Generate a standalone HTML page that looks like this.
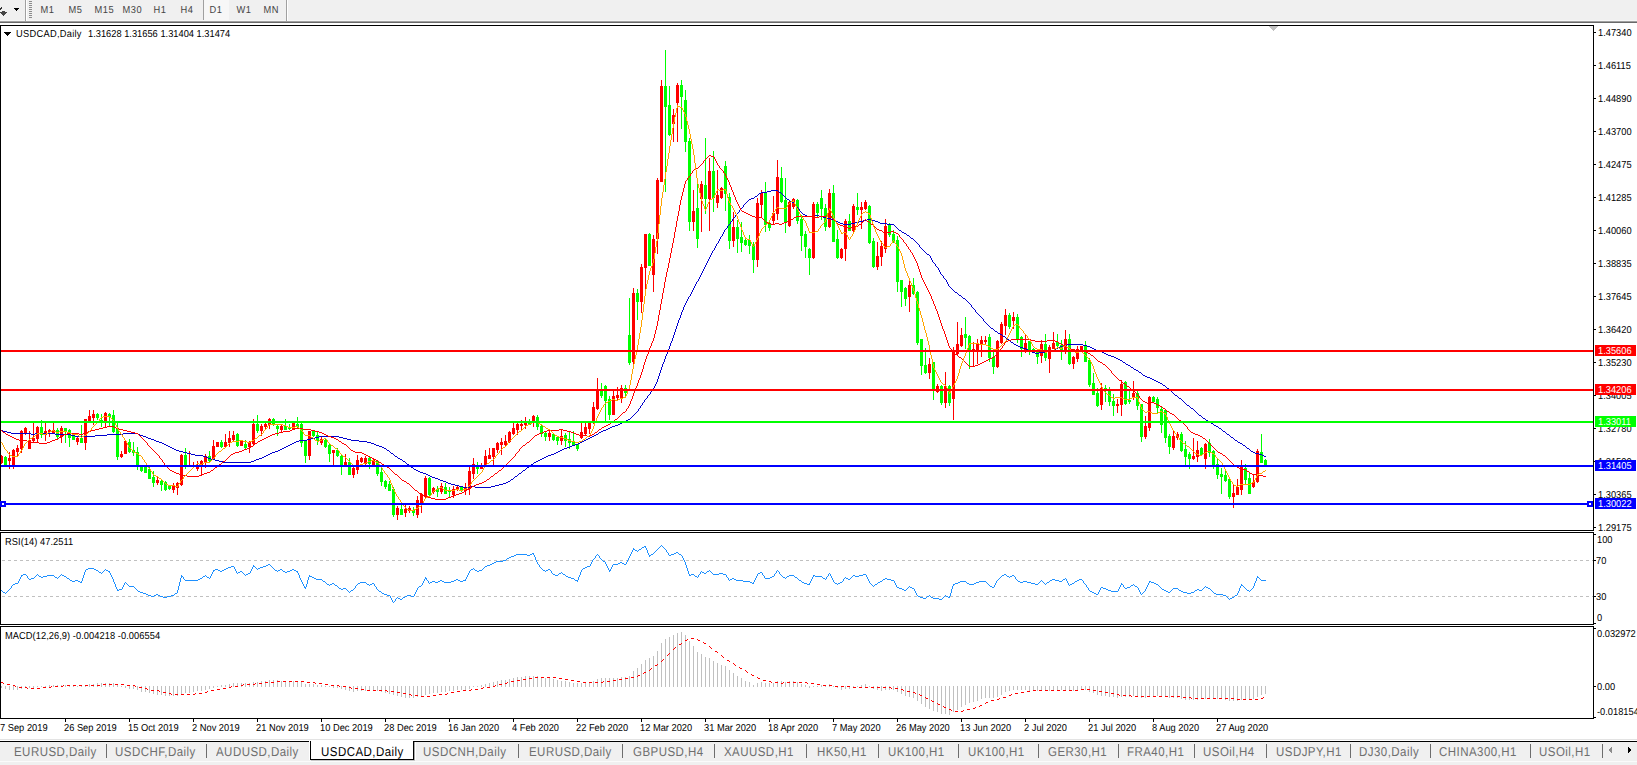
<!DOCTYPE html>
<html><head><meta charset="utf-8"><style>
html,body{margin:0;padding:0;background:#ffffff;}
body{width:1637px;height:765px;position:relative;overflow:hidden;font-family:"Liberation Sans",sans-serif;}
.t{position:absolute;white-space:nowrap;line-height:12px;transform-origin:0 0;}
.bx{position:absolute;left:1595px;width:41px;height:11px;}
</style></head><body>
<svg width="1637" height="765" viewBox="0 0 1637 765" shape-rendering="crispEdges" style="position:absolute;left:0;top:0"><defs>
<clipPath id="clipMain"><rect x="1" y="26" width="1592" height="504"/></clipPath>
<clipPath id="clipRSI"><rect x="1" y="533" width="1592" height="91"/></clipPath>
<clipPath id="clipMACD"><rect x="1" y="627" width="1592" height="91"/></clipPath>
</defs><rect x="0" y="0" width="1637" height="21" fill="#f0f0f0"/><rect x="0" y="20" width="1637" height="1" fill="#f7f7f7"/><rect x="0" y="21" width="1637" height="1" fill="#a0a0a0"/><rect x="0" y="22" width="1637" height="1" fill="#696969"/><rect x="0" y="23" width="1637" height="2" fill="#ffffff"/><rect x="25" y="0" width="1" height="21" fill="#a0a0a0"/><rect x="26" y="0" width="1" height="21" fill="#ffffff"/><rect x="29" y="1" width="3" height="1" fill="#8c8c8c"/><rect x="29" y="3" width="3" height="1" fill="#8c8c8c"/><rect x="29" y="5" width="3" height="1" fill="#8c8c8c"/><rect x="29" y="7" width="3" height="1" fill="#8c8c8c"/><rect x="29" y="9" width="3" height="1" fill="#8c8c8c"/><rect x="29" y="11" width="3" height="1" fill="#8c8c8c"/><rect x="29" y="13" width="3" height="1" fill="#8c8c8c"/><rect x="29" y="15" width="3" height="1" fill="#8c8c8c"/><rect x="29" y="17" width="3" height="1" fill="#8c8c8c"/><rect x="203" y="0" width="26" height="20" fill="#f7f7f7"/><rect x="203" y="0" width="1" height="20" fill="#a0a0a0"/><rect x="286" y="0" width="1" height="21" fill="#a0a0a0"/><rect x="287" y="0" width="1" height="21" fill="#ffffff"/><rect x="14" y="8" width="5" height="1" fill="#000"/><rect x="15" y="9" width="3" height="1" fill="#000"/><rect x="16" y="10" width="1" height="1" fill="#000"/><path d="M2 11h3v1h2v1h-1v1h-1v1h-1v1h-1v-1h-1v-1h-1v-1h-1v-1h2z" fill="#444"/><rect x="1" y="7" width="1" height="1" fill="#333"/><rect x="0" y="8" width="2" height="1" fill="#333"/><rect x="0" y="9" width="1" height="1" fill="#333"/><rect x="0" y="25" width="1637" height="714" fill="#ffffff"/><rect x="0" y="25" width="1594" height="1" fill="#000000"/><rect x="0" y="530" width="1594" height="1" fill="#000000"/><rect x="0" y="25" width="1" height="506" fill="#000000"/><rect x="1593" y="25" width="1" height="506" fill="#000000"/><rect x="0" y="532" width="1594" height="1" fill="#000000"/><rect x="0" y="624" width="1594" height="1" fill="#000000"/><rect x="0" y="532" width="1" height="93" fill="#000000"/><rect x="1593" y="532" width="1" height="93" fill="#000000"/><rect x="0" y="626" width="1594" height="1" fill="#000000"/><rect x="0" y="718" width="1594" height="1" fill="#000000"/><rect x="0" y="626" width="1" height="93" fill="#000000"/><rect x="1593" y="626" width="1" height="93" fill="#000000"/><rect x="1594" y="32" width="2" height="1" fill="#000000"/><rect x="1594" y="65" width="2" height="1" fill="#000000"/><rect x="1594" y="98" width="2" height="1" fill="#000000"/><rect x="1594" y="131" width="2" height="1" fill="#000000"/><rect x="1594" y="164" width="2" height="1" fill="#000000"/><rect x="1594" y="197" width="2" height="1" fill="#000000"/><rect x="1594" y="230" width="2" height="1" fill="#000000"/><rect x="1594" y="263" width="2" height="1" fill="#000000"/><rect x="1594" y="296" width="2" height="1" fill="#000000"/><rect x="1594" y="329" width="2" height="1" fill="#000000"/><rect x="1594" y="362" width="2" height="1" fill="#000000"/><rect x="1594" y="395" width="2" height="1" fill="#000000"/><rect x="1594" y="428" width="2" height="1" fill="#000000"/><rect x="1594" y="461" width="2" height="1" fill="#000000"/><rect x="1594" y="494" width="2" height="1" fill="#000000"/><rect x="1594" y="527" width="2" height="1" fill="#000000"/><rect x="1594" y="534" width="2" height="1" fill="#000000"/><rect x="1594" y="560" width="2" height="1" fill="#000000"/><rect x="1594" y="596" width="2" height="1" fill="#000000"/><rect x="1594" y="623" width="2" height="1" fill="#000000"/><rect x="1594" y="628" width="2" height="1" fill="#000000"/><rect x="1594" y="686" width="2" height="1" fill="#000000"/><rect x="1594" y="717" width="2" height="1" fill="#000000"/><rect x="65" y="719" width="1" height="3" fill="#000000"/><rect x="129" y="719" width="1" height="3" fill="#000000"/><rect x="193" y="719" width="1" height="3" fill="#000000"/><rect x="257" y="719" width="1" height="3" fill="#000000"/><rect x="321" y="719" width="1" height="3" fill="#000000"/><rect x="385" y="719" width="1" height="3" fill="#000000"/><rect x="449" y="719" width="1" height="3" fill="#000000"/><rect x="513" y="719" width="1" height="3" fill="#000000"/><rect x="577" y="719" width="1" height="3" fill="#000000"/><rect x="641" y="719" width="1" height="3" fill="#000000"/><rect x="705" y="719" width="1" height="3" fill="#000000"/><rect x="769" y="719" width="1" height="3" fill="#000000"/><rect x="833" y="719" width="1" height="3" fill="#000000"/><rect x="897" y="719" width="1" height="3" fill="#000000"/><rect x="961" y="719" width="1" height="3" fill="#000000"/><rect x="1025" y="719" width="1" height="3" fill="#000000"/><rect x="1089" y="719" width="1" height="3" fill="#000000"/><rect x="1153" y="719" width="1" height="3" fill="#000000"/><rect x="1217" y="719" width="1" height="3" fill="#000000"/><rect x="1269" y="26" width="9" height="1" fill="#c0c0c0"/><rect x="1270" y="27" width="7" height="1" fill="#c0c0c0"/><rect x="1271" y="28" width="5" height="1" fill="#c0c0c0"/><rect x="1272" y="29" width="3" height="1" fill="#c0c0c0"/><rect x="1273" y="30" width="1" height="1" fill="#c0c0c0"/><g clip-path="url(#clipMain)"><rect x="1" y="455" width="1" height="9" fill="#ff0000"/><rect x="0" y="456" width="3" height="7" fill="#ff0000"/><rect x="5" y="456" width="1" height="10" fill="#00ff00"/><rect x="4" y="457" width="3" height="9" fill="#00ff00"/><rect x="9" y="452" width="1" height="17" fill="#ff0000"/><rect x="8" y="458" width="3" height="3" fill="#ff0000"/><rect x="13" y="449" width="1" height="20" fill="#ff0000"/><rect x="12" y="450" width="3" height="16" fill="#ff0000"/><rect x="17" y="445" width="1" height="12" fill="#ff0000"/><rect x="16" y="448" width="3" height="4" fill="#ff0000"/><rect x="21" y="430" width="1" height="23" fill="#ff0000"/><rect x="20" y="431" width="3" height="18" fill="#ff0000"/><rect x="25" y="427" width="1" height="8" fill="#ff0000"/><rect x="24" y="428" width="3" height="6" fill="#ff0000"/><rect x="29" y="431" width="1" height="18" fill="#ff0000"/><rect x="28" y="440" width="3" height="9" fill="#ff0000"/><rect x="33" y="423" width="1" height="20" fill="#ff0000"/><rect x="32" y="438" width="3" height="3" fill="#ff0000"/><rect x="37" y="426" width="1" height="17" fill="#ff0000"/><rect x="36" y="427" width="3" height="12" fill="#ff0000"/><rect x="41" y="420" width="1" height="18" fill="#00ff00"/><rect x="40" y="427" width="3" height="8" fill="#00ff00"/><rect x="45" y="423" width="1" height="18" fill="#ff0000"/><rect x="44" y="431" width="3" height="4" fill="#ff0000"/><rect x="49" y="429" width="1" height="8" fill="#ff0000"/><rect x="48" y="430" width="3" height="2" fill="#ff0000"/><rect x="53" y="423" width="1" height="10" fill="#ff0000"/><rect x="52" y="430" width="3" height="3" fill="#ff0000"/><rect x="57" y="428" width="1" height="12" fill="#00ff00"/><rect x="56" y="430" width="3" height="7" fill="#00ff00"/><rect x="61" y="426" width="1" height="17" fill="#ff0000"/><rect x="60" y="428" width="3" height="9" fill="#ff0000"/><rect x="65" y="428" width="1" height="15" fill="#00ff00"/><rect x="64" y="428" width="3" height="4" fill="#00ff00"/><rect x="69" y="429" width="1" height="18" fill="#00ff00"/><rect x="68" y="430" width="3" height="8" fill="#00ff00"/><rect x="73" y="435" width="1" height="5" fill="#00ff00"/><rect x="72" y="436" width="3" height="4" fill="#00ff00"/><rect x="77" y="437" width="1" height="8" fill="#ff0000"/><rect x="76" y="438" width="3" height="4" fill="#ff0000"/><rect x="81" y="425" width="1" height="18" fill="#00ff00"/><rect x="80" y="438" width="3" height="5" fill="#00ff00"/><rect x="85" y="419" width="1" height="31" fill="#ff0000"/><rect x="84" y="419" width="3" height="24" fill="#ff0000"/><rect x="89" y="410" width="1" height="12" fill="#ff0000"/><rect x="88" y="416" width="3" height="5" fill="#ff0000"/><rect x="93" y="410" width="1" height="15" fill="#ff0000"/><rect x="92" y="414" width="3" height="4" fill="#ff0000"/><rect x="97" y="413" width="1" height="7" fill="#00ff00"/><rect x="96" y="414" width="3" height="4" fill="#00ff00"/><rect x="101" y="414" width="1" height="13" fill="#00ff00"/><rect x="100" y="420" width="3" height="3" fill="#00ff00"/><rect x="105" y="412" width="1" height="16" fill="#ff0000"/><rect x="104" y="413" width="3" height="9" fill="#ff0000"/><rect x="109" y="413" width="1" height="13" fill="#00ff00"/><rect x="108" y="414" width="3" height="3" fill="#00ff00"/><rect x="113" y="410" width="1" height="23" fill="#00ff00"/><rect x="112" y="415" width="3" height="17" fill="#00ff00"/><rect x="117" y="423" width="1" height="37" fill="#00ff00"/><rect x="116" y="428" width="3" height="29" fill="#00ff00"/><rect x="121" y="451" width="1" height="7" fill="#ff0000"/><rect x="120" y="454" width="3" height="3" fill="#ff0000"/><rect x="125" y="440" width="1" height="14" fill="#ff0000"/><rect x="124" y="441" width="3" height="13" fill="#ff0000"/><rect x="129" y="439" width="1" height="14" fill="#00ff00"/><rect x="128" y="442" width="3" height="10" fill="#00ff00"/><rect x="133" y="442" width="1" height="14" fill="#00ff00"/><rect x="132" y="450" width="3" height="3" fill="#00ff00"/><rect x="137" y="447" width="1" height="23" fill="#00ff00"/><rect x="136" y="452" width="3" height="14" fill="#00ff00"/><rect x="141" y="467" width="1" height="5" fill="#00ff00"/><rect x="140" y="467" width="3" height="4" fill="#00ff00"/><rect x="145" y="467" width="1" height="6" fill="#00ff00"/><rect x="144" y="467" width="3" height="6" fill="#00ff00"/><rect x="149" y="467" width="1" height="12" fill="#00ff00"/><rect x="148" y="469" width="3" height="10" fill="#00ff00"/><rect x="153" y="471" width="1" height="16" fill="#00ff00"/><rect x="152" y="477" width="3" height="6" fill="#00ff00"/><rect x="157" y="476" width="1" height="9" fill="#ff0000"/><rect x="156" y="480" width="3" height="3" fill="#ff0000"/><rect x="161" y="480" width="1" height="11" fill="#00ff00"/><rect x="160" y="481" width="3" height="4" fill="#00ff00"/><rect x="165" y="481" width="1" height="10" fill="#00ff00"/><rect x="164" y="482" width="3" height="8" fill="#00ff00"/><rect x="169" y="485" width="1" height="5" fill="#00ff00"/><rect x="168" y="486" width="3" height="3" fill="#00ff00"/><rect x="173" y="483" width="1" height="10" fill="#ff0000"/><rect x="172" y="486" width="3" height="4" fill="#ff0000"/><rect x="177" y="482" width="1" height="13" fill="#ff0000"/><rect x="176" y="483" width="3" height="5" fill="#ff0000"/><rect x="181" y="454" width="1" height="32" fill="#ff0000"/><rect x="180" y="455" width="3" height="30" fill="#ff0000"/><rect x="185" y="448" width="1" height="21" fill="#00ff00"/><rect x="184" y="455" width="3" height="11" fill="#00ff00"/><rect x="189" y="451" width="1" height="15" fill="#ff0000"/><rect x="188" y="465" width="3" height="1" fill="#ff0000"/><rect x="193" y="462" width="1" height="5" fill="#ff0000"/><rect x="192" y="465" width="3" height="2" fill="#ff0000"/><rect x="197" y="461" width="1" height="10" fill="#ff0000"/><rect x="196" y="466" width="3" height="3" fill="#ff0000"/><rect x="201" y="460" width="1" height="15" fill="#ff0000"/><rect x="200" y="461" width="3" height="4" fill="#ff0000"/><rect x="205" y="454" width="1" height="14" fill="#ff0000"/><rect x="204" y="456" width="3" height="7" fill="#ff0000"/><rect x="209" y="451" width="1" height="11" fill="#00ff00"/><rect x="208" y="456" width="3" height="5" fill="#00ff00"/><rect x="213" y="440" width="1" height="19" fill="#ff0000"/><rect x="212" y="446" width="3" height="13" fill="#ff0000"/><rect x="217" y="442" width="1" height="5" fill="#ff0000"/><rect x="216" y="442" width="3" height="5" fill="#ff0000"/><rect x="221" y="440" width="1" height="8" fill="#00ff00"/><rect x="220" y="442" width="3" height="5" fill="#00ff00"/><rect x="225" y="434" width="1" height="14" fill="#ff0000"/><rect x="224" y="442" width="3" height="5" fill="#ff0000"/><rect x="229" y="431" width="1" height="16" fill="#ff0000"/><rect x="228" y="438" width="3" height="5" fill="#ff0000"/><rect x="233" y="431" width="1" height="10" fill="#ff0000"/><rect x="232" y="435" width="3" height="5" fill="#ff0000"/><rect x="237" y="433" width="1" height="14" fill="#00ff00"/><rect x="236" y="434" width="3" height="12" fill="#00ff00"/><rect x="241" y="441" width="1" height="5" fill="#ff0000"/><rect x="240" y="441" width="3" height="5" fill="#ff0000"/><rect x="245" y="440" width="1" height="9" fill="#00ff00"/><rect x="244" y="444" width="3" height="4" fill="#00ff00"/><rect x="249" y="441" width="1" height="12" fill="#ff0000"/><rect x="248" y="442" width="3" height="5" fill="#ff0000"/><rect x="253" y="419" width="1" height="26" fill="#ff0000"/><rect x="252" y="424" width="3" height="20" fill="#ff0000"/><rect x="257" y="415" width="1" height="18" fill="#00ff00"/><rect x="256" y="424" width="3" height="7" fill="#00ff00"/><rect x="261" y="424" width="1" height="12" fill="#ff0000"/><rect x="260" y="426" width="3" height="5" fill="#ff0000"/><rect x="265" y="423" width="1" height="6" fill="#ff0000"/><rect x="264" y="424" width="3" height="3" fill="#ff0000"/><rect x="269" y="418" width="1" height="11" fill="#ff0000"/><rect x="268" y="419" width="3" height="6" fill="#ff0000"/><rect x="273" y="418" width="1" height="8" fill="#00ff00"/><rect x="272" y="419" width="3" height="6" fill="#00ff00"/><rect x="277" y="424" width="1" height="12" fill="#00ff00"/><rect x="276" y="426" width="3" height="3" fill="#00ff00"/><rect x="281" y="424" width="1" height="8" fill="#ff0000"/><rect x="280" y="426" width="3" height="4" fill="#ff0000"/><rect x="285" y="419" width="1" height="11" fill="#00ff00"/><rect x="284" y="426" width="3" height="4" fill="#00ff00"/><rect x="289" y="424" width="1" height="6" fill="#00ff00"/><rect x="288" y="428" width="3" height="1" fill="#00ff00"/><rect x="293" y="423" width="1" height="7" fill="#ff0000"/><rect x="292" y="423" width="3" height="7" fill="#ff0000"/><rect x="297" y="417" width="1" height="12" fill="#00ff00"/><rect x="296" y="424" width="3" height="3" fill="#00ff00"/><rect x="301" y="423" width="1" height="24" fill="#00ff00"/><rect x="300" y="424" width="3" height="19" fill="#00ff00"/><rect x="305" y="440" width="1" height="23" fill="#00ff00"/><rect x="304" y="440" width="3" height="16" fill="#00ff00"/><rect x="309" y="431" width="1" height="29" fill="#ff0000"/><rect x="308" y="431" width="3" height="25" fill="#ff0000"/><rect x="313" y="431" width="1" height="6" fill="#00ff00"/><rect x="312" y="431" width="3" height="5" fill="#00ff00"/><rect x="317" y="432" width="1" height="13" fill="#00ff00"/><rect x="316" y="435" width="3" height="6" fill="#00ff00"/><rect x="321" y="437" width="1" height="8" fill="#ff0000"/><rect x="320" y="439" width="3" height="4" fill="#ff0000"/><rect x="325" y="439" width="1" height="9" fill="#00ff00"/><rect x="324" y="440" width="3" height="7" fill="#00ff00"/><rect x="329" y="444" width="1" height="18" fill="#00ff00"/><rect x="328" y="445" width="3" height="9" fill="#00ff00"/><rect x="333" y="450" width="1" height="15" fill="#ff0000"/><rect x="332" y="450" width="3" height="3" fill="#ff0000"/><rect x="337" y="448" width="1" height="9" fill="#00ff00"/><rect x="336" y="450" width="3" height="6" fill="#00ff00"/><rect x="341" y="454" width="1" height="21" fill="#00ff00"/><rect x="340" y="456" width="3" height="9" fill="#00ff00"/><rect x="345" y="454" width="1" height="11" fill="#ff0000"/><rect x="344" y="462" width="3" height="3" fill="#ff0000"/><rect x="349" y="458" width="1" height="17" fill="#00ff00"/><rect x="348" y="462" width="3" height="13" fill="#00ff00"/><rect x="353" y="467" width="1" height="11" fill="#ff0000"/><rect x="352" y="468" width="3" height="7" fill="#ff0000"/><rect x="357" y="455" width="1" height="19" fill="#ff0000"/><rect x="356" y="460" width="3" height="10" fill="#ff0000"/><rect x="361" y="457" width="1" height="6" fill="#ff0000"/><rect x="360" y="458" width="3" height="4" fill="#ff0000"/><rect x="365" y="456" width="1" height="10" fill="#ff0000"/><rect x="364" y="458" width="3" height="6" fill="#ff0000"/><rect x="369" y="456" width="1" height="13" fill="#00ff00"/><rect x="368" y="458" width="3" height="6" fill="#00ff00"/><rect x="373" y="459" width="1" height="6" fill="#ff0000"/><rect x="372" y="460" width="3" height="5" fill="#ff0000"/><rect x="377" y="460" width="1" height="16" fill="#00ff00"/><rect x="376" y="461" width="3" height="13" fill="#00ff00"/><rect x="381" y="468" width="1" height="18" fill="#00ff00"/><rect x="380" y="472" width="3" height="10" fill="#00ff00"/><rect x="385" y="480" width="1" height="9" fill="#00ff00"/><rect x="384" y="481" width="3" height="6" fill="#00ff00"/><rect x="389" y="481" width="1" height="10" fill="#00ff00"/><rect x="388" y="484" width="3" height="7" fill="#00ff00"/><rect x="393" y="487" width="1" height="30" fill="#00ff00"/><rect x="392" y="489" width="3" height="26" fill="#00ff00"/><rect x="397" y="506" width="1" height="14" fill="#ff0000"/><rect x="396" y="508" width="3" height="7" fill="#ff0000"/><rect x="401" y="504" width="1" height="11" fill="#00ff00"/><rect x="400" y="509" width="3" height="6" fill="#00ff00"/><rect x="405" y="505" width="1" height="12" fill="#ff0000"/><rect x="404" y="509" width="3" height="4" fill="#ff0000"/><rect x="409" y="506" width="1" height="7" fill="#ff0000"/><rect x="408" y="508" width="3" height="3" fill="#ff0000"/><rect x="413" y="507" width="1" height="9" fill="#00ff00"/><rect x="412" y="510" width="3" height="3" fill="#00ff00"/><rect x="417" y="496" width="1" height="22" fill="#ff0000"/><rect x="416" y="500" width="3" height="15" fill="#ff0000"/><rect x="421" y="493" width="1" height="20" fill="#ff0000"/><rect x="420" y="494" width="3" height="9" fill="#ff0000"/><rect x="425" y="476" width="1" height="22" fill="#ff0000"/><rect x="424" y="478" width="3" height="19" fill="#ff0000"/><rect x="429" y="477" width="1" height="19" fill="#00ff00"/><rect x="428" y="478" width="3" height="17" fill="#00ff00"/><rect x="433" y="487" width="1" height="7" fill="#ff0000"/><rect x="432" y="488" width="3" height="4" fill="#ff0000"/><rect x="437" y="486" width="1" height="11" fill="#00ff00"/><rect x="436" y="489" width="3" height="3" fill="#00ff00"/><rect x="441" y="483" width="1" height="11" fill="#ff0000"/><rect x="440" y="486" width="3" height="6" fill="#ff0000"/><rect x="445" y="483" width="1" height="11" fill="#00ff00"/><rect x="444" y="487" width="3" height="7" fill="#00ff00"/><rect x="449" y="487" width="1" height="10" fill="#00ff00"/><rect x="448" y="490" width="3" height="2" fill="#00ff00"/><rect x="453" y="486" width="1" height="12" fill="#ff0000"/><rect x="452" y="489" width="3" height="6" fill="#ff0000"/><rect x="457" y="486" width="1" height="5" fill="#ff0000"/><rect x="456" y="487" width="3" height="3" fill="#ff0000"/><rect x="461" y="486" width="1" height="6" fill="#00ff00"/><rect x="460" y="487" width="3" height="4" fill="#00ff00"/><rect x="465" y="483" width="1" height="12" fill="#ff0000"/><rect x="464" y="488" width="3" height="3" fill="#ff0000"/><rect x="469" y="467" width="1" height="28" fill="#ff0000"/><rect x="468" y="471" width="3" height="18" fill="#ff0000"/><rect x="473" y="458" width="1" height="21" fill="#ff0000"/><rect x="472" y="464" width="3" height="10" fill="#ff0000"/><rect x="477" y="462" width="1" height="12" fill="#00ff00"/><rect x="476" y="465" width="3" height="4" fill="#00ff00"/><rect x="481" y="463" width="1" height="6" fill="#ff0000"/><rect x="480" y="467" width="3" height="2" fill="#ff0000"/><rect x="485" y="450" width="1" height="16" fill="#ff0000"/><rect x="484" y="456" width="3" height="10" fill="#ff0000"/><rect x="489" y="448" width="1" height="11" fill="#ff0000"/><rect x="488" y="455" width="3" height="4" fill="#ff0000"/><rect x="493" y="448" width="1" height="17" fill="#ff0000"/><rect x="492" y="448" width="3" height="9" fill="#ff0000"/><rect x="497" y="442" width="1" height="11" fill="#ff0000"/><rect x="496" y="443" width="3" height="7" fill="#ff0000"/><rect x="501" y="438" width="1" height="17" fill="#ff0000"/><rect x="500" y="442" width="3" height="3" fill="#ff0000"/><rect x="505" y="435" width="1" height="12" fill="#ff0000"/><rect x="504" y="441" width="3" height="4" fill="#ff0000"/><rect x="509" y="431" width="1" height="12" fill="#ff0000"/><rect x="508" y="432" width="3" height="10" fill="#ff0000"/><rect x="513" y="423" width="1" height="12" fill="#ff0000"/><rect x="512" y="428" width="3" height="6" fill="#ff0000"/><rect x="517" y="423" width="1" height="12" fill="#ff0000"/><rect x="516" y="424" width="3" height="6" fill="#ff0000"/><rect x="521" y="420" width="1" height="10" fill="#ff0000"/><rect x="520" y="424" width="3" height="2" fill="#ff0000"/><rect x="525" y="417" width="1" height="12" fill="#ff0000"/><rect x="524" y="422" width="3" height="3" fill="#ff0000"/><rect x="529" y="419" width="1" height="6" fill="#00ff00"/><rect x="528" y="421" width="3" height="4" fill="#00ff00"/><rect x="533" y="415" width="1" height="12" fill="#ff0000"/><rect x="532" y="416" width="3" height="6" fill="#ff0000"/><rect x="537" y="415" width="1" height="15" fill="#00ff00"/><rect x="536" y="417" width="3" height="10" fill="#00ff00"/><rect x="541" y="425" width="1" height="12" fill="#00ff00"/><rect x="540" y="426" width="3" height="8" fill="#00ff00"/><rect x="545" y="431" width="1" height="10" fill="#00ff00"/><rect x="544" y="433" width="3" height="4" fill="#00ff00"/><rect x="549" y="430" width="1" height="11" fill="#ff0000"/><rect x="548" y="433" width="3" height="4" fill="#ff0000"/><rect x="553" y="433" width="1" height="8" fill="#00ff00"/><rect x="552" y="434" width="3" height="6" fill="#00ff00"/><rect x="557" y="436" width="1" height="9" fill="#00ff00"/><rect x="556" y="437" width="3" height="4" fill="#00ff00"/><rect x="561" y="429" width="1" height="16" fill="#ff0000"/><rect x="560" y="436" width="3" height="5" fill="#ff0000"/><rect x="565" y="433" width="1" height="14" fill="#00ff00"/><rect x="564" y="435" width="3" height="6" fill="#00ff00"/><rect x="569" y="432" width="1" height="17" fill="#00ff00"/><rect x="568" y="439" width="3" height="4" fill="#00ff00"/><rect x="573" y="431" width="1" height="14" fill="#00ff00"/><rect x="572" y="442" width="3" height="3" fill="#00ff00"/><rect x="577" y="444" width="1" height="7" fill="#00ff00"/><rect x="576" y="444" width="3" height="5" fill="#00ff00"/><rect x="581" y="423" width="1" height="16" fill="#ff0000"/><rect x="580" y="432" width="3" height="6" fill="#ff0000"/><rect x="585" y="423" width="1" height="12" fill="#ff0000"/><rect x="584" y="427" width="3" height="7" fill="#ff0000"/><rect x="589" y="422" width="1" height="12" fill="#ff0000"/><rect x="588" y="423" width="3" height="6" fill="#ff0000"/><rect x="593" y="402" width="1" height="22" fill="#ff0000"/><rect x="592" y="407" width="3" height="15" fill="#ff0000"/><rect x="597" y="378" width="1" height="32" fill="#ff0000"/><rect x="596" y="389" width="3" height="20" fill="#ff0000"/><rect x="601" y="383" width="1" height="15" fill="#00ff00"/><rect x="600" y="391" width="3" height="5" fill="#00ff00"/><rect x="605" y="385" width="1" height="36" fill="#00ff00"/><rect x="604" y="386" width="3" height="15" fill="#00ff00"/><rect x="609" y="396" width="1" height="24" fill="#00ff00"/><rect x="608" y="399" width="3" height="16" fill="#00ff00"/><rect x="613" y="391" width="1" height="24" fill="#ff0000"/><rect x="612" y="396" width="3" height="19" fill="#ff0000"/><rect x="617" y="387" width="1" height="14" fill="#ff0000"/><rect x="616" y="395" width="3" height="3" fill="#ff0000"/><rect x="621" y="385" width="1" height="18" fill="#ff0000"/><rect x="620" y="388" width="3" height="10" fill="#ff0000"/><rect x="625" y="385" width="1" height="12" fill="#00ff00"/><rect x="624" y="388" width="3" height="5" fill="#00ff00"/><rect x="629" y="298" width="1" height="67" fill="#00ff00"/><rect x="628" y="335" width="3" height="28" fill="#00ff00"/><rect x="633" y="288" width="1" height="77" fill="#ff0000"/><rect x="632" y="293" width="3" height="69" fill="#ff0000"/><rect x="637" y="289" width="1" height="31" fill="#00ff00"/><rect x="636" y="293" width="3" height="9" fill="#00ff00"/><rect x="641" y="264" width="1" height="49" fill="#ff0000"/><rect x="640" y="267" width="3" height="35" fill="#ff0000"/><rect x="645" y="234" width="1" height="58" fill="#ff0000"/><rect x="644" y="234" width="3" height="34" fill="#ff0000"/><rect x="649" y="233" width="1" height="33" fill="#00ff00"/><rect x="648" y="234" width="3" height="32" fill="#00ff00"/><rect x="653" y="235" width="1" height="57" fill="#ff0000"/><rect x="652" y="239" width="3" height="36" fill="#ff0000"/><rect x="657" y="178" width="1" height="76" fill="#ff0000"/><rect x="656" y="180" width="3" height="59" fill="#ff0000"/><rect x="661" y="80" width="1" height="102" fill="#ff0000"/><rect x="660" y="86" width="3" height="96" fill="#ff0000"/><rect x="665" y="50" width="1" height="142" fill="#00ff00"/><rect x="664" y="86" width="3" height="21" fill="#00ff00"/><rect x="669" y="86" width="1" height="50" fill="#00ff00"/><rect x="668" y="105" width="3" height="30" fill="#00ff00"/><rect x="673" y="109" width="1" height="33" fill="#ff0000"/><rect x="672" y="115" width="3" height="9" fill="#ff0000"/><rect x="677" y="83" width="1" height="59" fill="#ff0000"/><rect x="676" y="85" width="3" height="18" fill="#ff0000"/><rect x="681" y="80" width="1" height="49" fill="#00ff00"/><rect x="680" y="85" width="3" height="12" fill="#00ff00"/><rect x="685" y="90" width="1" height="62" fill="#00ff00"/><rect x="684" y="100" width="3" height="42" fill="#00ff00"/><rect x="689" y="138" width="1" height="93" fill="#00ff00"/><rect x="688" y="141" width="3" height="81" fill="#00ff00"/><rect x="693" y="190" width="1" height="41" fill="#ff0000"/><rect x="692" y="211" width="3" height="11" fill="#ff0000"/><rect x="697" y="184" width="1" height="64" fill="#00ff00"/><rect x="696" y="208" width="3" height="31" fill="#00ff00"/><rect x="701" y="181" width="1" height="51" fill="#ff0000"/><rect x="700" y="184" width="3" height="15" fill="#ff0000"/><rect x="705" y="138" width="1" height="76" fill="#00ff00"/><rect x="704" y="185" width="3" height="14" fill="#00ff00"/><rect x="709" y="158" width="1" height="73" fill="#ff0000"/><rect x="708" y="171" width="3" height="28" fill="#ff0000"/><rect x="713" y="151" width="1" height="61" fill="#00ff00"/><rect x="712" y="171" width="3" height="27" fill="#00ff00"/><rect x="717" y="170" width="1" height="38" fill="#ff0000"/><rect x="716" y="195" width="3" height="8" fill="#ff0000"/><rect x="721" y="187" width="1" height="12" fill="#ff0000"/><rect x="720" y="188" width="3" height="10" fill="#ff0000"/><rect x="725" y="161" width="1" height="50" fill="#00ff00"/><rect x="724" y="166" width="3" height="28" fill="#00ff00"/><rect x="729" y="193" width="1" height="56" fill="#00ff00"/><rect x="728" y="197" width="3" height="44" fill="#00ff00"/><rect x="733" y="212" width="1" height="35" fill="#ff0000"/><rect x="732" y="227" width="3" height="14" fill="#ff0000"/><rect x="737" y="220" width="1" height="33" fill="#00ff00"/><rect x="736" y="227" width="3" height="12" fill="#00ff00"/><rect x="741" y="222" width="1" height="30" fill="#00ff00"/><rect x="740" y="237" width="3" height="6" fill="#00ff00"/><rect x="745" y="239" width="1" height="7" fill="#00ff00"/><rect x="744" y="240" width="3" height="5" fill="#00ff00"/><rect x="749" y="235" width="1" height="19" fill="#00ff00"/><rect x="748" y="240" width="3" height="6" fill="#00ff00"/><rect x="753" y="242" width="1" height="31" fill="#00ff00"/><rect x="752" y="244" width="3" height="16" fill="#00ff00"/><rect x="757" y="198" width="1" height="69" fill="#ff0000"/><rect x="756" y="203" width="3" height="57" fill="#ff0000"/><rect x="761" y="190" width="1" height="28" fill="#ff0000"/><rect x="760" y="193" width="3" height="12" fill="#ff0000"/><rect x="765" y="182" width="1" height="50" fill="#00ff00"/><rect x="764" y="193" width="3" height="32" fill="#00ff00"/><rect x="769" y="220" width="1" height="11" fill="#00ff00"/><rect x="768" y="223" width="3" height="5" fill="#00ff00"/><rect x="773" y="196" width="1" height="29" fill="#ff0000"/><rect x="772" y="213" width="3" height="8" fill="#ff0000"/><rect x="777" y="160" width="1" height="60" fill="#ff0000"/><rect x="776" y="177" width="3" height="37" fill="#ff0000"/><rect x="781" y="167" width="1" height="36" fill="#00ff00"/><rect x="780" y="178" width="3" height="24" fill="#00ff00"/><rect x="785" y="178" width="1" height="55" fill="#00ff00"/><rect x="784" y="200" width="3" height="23" fill="#00ff00"/><rect x="789" y="200" width="1" height="27" fill="#ff0000"/><rect x="788" y="202" width="3" height="24" fill="#ff0000"/><rect x="793" y="198" width="1" height="11" fill="#ff0000"/><rect x="792" y="199" width="3" height="8" fill="#ff0000"/><rect x="797" y="199" width="1" height="25" fill="#00ff00"/><rect x="796" y="200" width="3" height="21" fill="#00ff00"/><rect x="801" y="215" width="1" height="36" fill="#00ff00"/><rect x="800" y="219" width="3" height="17" fill="#00ff00"/><rect x="805" y="231" width="1" height="27" fill="#00ff00"/><rect x="804" y="234" width="3" height="13" fill="#00ff00"/><rect x="809" y="248" width="1" height="27" fill="#00ff00"/><rect x="808" y="249" width="3" height="9" fill="#00ff00"/><rect x="813" y="202" width="1" height="57" fill="#ff0000"/><rect x="812" y="204" width="3" height="54" fill="#ff0000"/><rect x="817" y="202" width="1" height="16" fill="#00ff00"/><rect x="816" y="204" width="3" height="9" fill="#00ff00"/><rect x="821" y="190" width="1" height="30" fill="#00ff00"/><rect x="820" y="198" width="3" height="11" fill="#00ff00"/><rect x="825" y="204" width="1" height="27" fill="#00ff00"/><rect x="824" y="208" width="3" height="19" fill="#00ff00"/><rect x="829" y="189" width="1" height="39" fill="#ff0000"/><rect x="828" y="193" width="3" height="34" fill="#ff0000"/><rect x="833" y="185" width="1" height="57" fill="#00ff00"/><rect x="832" y="193" width="3" height="49" fill="#00ff00"/><rect x="837" y="230" width="1" height="29" fill="#00ff00"/><rect x="836" y="239" width="3" height="19" fill="#00ff00"/><rect x="841" y="248" width="1" height="11" fill="#ff0000"/><rect x="840" y="249" width="3" height="9" fill="#ff0000"/><rect x="845" y="219" width="1" height="42" fill="#ff0000"/><rect x="844" y="221" width="3" height="28" fill="#ff0000"/><rect x="849" y="214" width="1" height="17" fill="#00ff00"/><rect x="848" y="221" width="3" height="10" fill="#00ff00"/><rect x="853" y="204" width="1" height="28" fill="#ff0000"/><rect x="852" y="206" width="3" height="25" fill="#ff0000"/><rect x="857" y="193" width="1" height="22" fill="#00ff00"/><rect x="856" y="207" width="3" height="3" fill="#00ff00"/><rect x="861" y="202" width="1" height="27" fill="#ff0000"/><rect x="860" y="207" width="3" height="3" fill="#ff0000"/><rect x="865" y="200" width="1" height="10" fill="#ff0000"/><rect x="864" y="202" width="3" height="7" fill="#ff0000"/><rect x="869" y="205" width="1" height="39" fill="#00ff00"/><rect x="868" y="206" width="3" height="37" fill="#00ff00"/><rect x="873" y="238" width="1" height="30" fill="#00ff00"/><rect x="872" y="241" width="3" height="26" fill="#00ff00"/><rect x="877" y="242" width="1" height="28" fill="#ff0000"/><rect x="876" y="256" width="3" height="11" fill="#ff0000"/><rect x="881" y="241" width="1" height="25" fill="#ff0000"/><rect x="880" y="246" width="3" height="11" fill="#ff0000"/><rect x="885" y="219" width="1" height="34" fill="#ff0000"/><rect x="884" y="226" width="3" height="23" fill="#ff0000"/><rect x="889" y="223" width="1" height="14" fill="#00ff00"/><rect x="888" y="225" width="3" height="10" fill="#00ff00"/><rect x="893" y="230" width="1" height="13" fill="#00ff00"/><rect x="892" y="234" width="3" height="8" fill="#00ff00"/><rect x="897" y="236" width="1" height="56" fill="#00ff00"/><rect x="896" y="240" width="3" height="42" fill="#00ff00"/><rect x="901" y="280" width="1" height="27" fill="#00ff00"/><rect x="900" y="280" width="3" height="12" fill="#00ff00"/><rect x="905" y="287" width="1" height="19" fill="#00ff00"/><rect x="904" y="288" width="3" height="11" fill="#00ff00"/><rect x="909" y="280" width="1" height="32" fill="#ff0000"/><rect x="908" y="285" width="3" height="12" fill="#ff0000"/><rect x="913" y="278" width="1" height="17" fill="#00ff00"/><rect x="912" y="285" width="3" height="9" fill="#00ff00"/><rect x="917" y="291" width="1" height="54" fill="#00ff00"/><rect x="916" y="292" width="3" height="51" fill="#00ff00"/><rect x="921" y="339" width="1" height="36" fill="#00ff00"/><rect x="920" y="339" width="3" height="27" fill="#00ff00"/><rect x="925" y="348" width="1" height="26" fill="#00ff00"/><rect x="924" y="365" width="3" height="8" fill="#00ff00"/><rect x="929" y="358" width="1" height="21" fill="#ff0000"/><rect x="928" y="364" width="3" height="9" fill="#ff0000"/><rect x="933" y="362" width="1" height="38" fill="#00ff00"/><rect x="932" y="362" width="3" height="27" fill="#00ff00"/><rect x="937" y="384" width="1" height="9" fill="#ff0000"/><rect x="936" y="386" width="3" height="6" fill="#ff0000"/><rect x="941" y="385" width="1" height="20" fill="#00ff00"/><rect x="940" y="386" width="3" height="17" fill="#00ff00"/><rect x="945" y="372" width="1" height="36" fill="#ff0000"/><rect x="944" y="386" width="3" height="17" fill="#ff0000"/><rect x="949" y="385" width="1" height="21" fill="#00ff00"/><rect x="948" y="386" width="3" height="17" fill="#00ff00"/><rect x="953" y="347" width="1" height="73" fill="#ff0000"/><rect x="952" y="351" width="3" height="48" fill="#ff0000"/><rect x="957" y="322" width="1" height="34" fill="#ff0000"/><rect x="956" y="344" width="3" height="10" fill="#ff0000"/><rect x="961" y="328" width="1" height="19" fill="#ff0000"/><rect x="960" y="335" width="3" height="11" fill="#ff0000"/><rect x="965" y="317" width="1" height="32" fill="#00ff00"/><rect x="964" y="334" width="3" height="4" fill="#00ff00"/><rect x="969" y="335" width="1" height="34" fill="#00ff00"/><rect x="968" y="336" width="3" height="15" fill="#00ff00"/><rect x="973" y="342" width="1" height="25" fill="#ff0000"/><rect x="972" y="349" width="3" height="3" fill="#ff0000"/><rect x="977" y="339" width="1" height="25" fill="#ff0000"/><rect x="976" y="343" width="3" height="9" fill="#ff0000"/><rect x="981" y="336" width="1" height="21" fill="#ff0000"/><rect x="980" y="340" width="3" height="5" fill="#ff0000"/><rect x="985" y="336" width="1" height="9" fill="#ff0000"/><rect x="984" y="340" width="3" height="2" fill="#ff0000"/><rect x="989" y="334" width="1" height="28" fill="#00ff00"/><rect x="988" y="337" width="3" height="21" fill="#00ff00"/><rect x="993" y="352" width="1" height="22" fill="#00ff00"/><rect x="992" y="357" width="3" height="10" fill="#00ff00"/><rect x="997" y="340" width="1" height="28" fill="#ff0000"/><rect x="996" y="341" width="3" height="26" fill="#ff0000"/><rect x="1001" y="322" width="1" height="22" fill="#ff0000"/><rect x="1000" y="324" width="3" height="19" fill="#ff0000"/><rect x="1005" y="309" width="1" height="26" fill="#ff0000"/><rect x="1004" y="315" width="3" height="11" fill="#ff0000"/><rect x="1009" y="313" width="1" height="16" fill="#00ff00"/><rect x="1008" y="315" width="3" height="12" fill="#00ff00"/><rect x="1013" y="312" width="1" height="17" fill="#ff0000"/><rect x="1012" y="317" width="3" height="4" fill="#ff0000"/><rect x="1017" y="314" width="1" height="29" fill="#00ff00"/><rect x="1016" y="317" width="3" height="22" fill="#00ff00"/><rect x="1021" y="336" width="1" height="21" fill="#00ff00"/><rect x="1020" y="337" width="3" height="12" fill="#00ff00"/><rect x="1025" y="335" width="1" height="18" fill="#ff0000"/><rect x="1024" y="343" width="3" height="9" fill="#ff0000"/><rect x="1029" y="341" width="1" height="14" fill="#00ff00"/><rect x="1028" y="341" width="3" height="9" fill="#00ff00"/><rect x="1033" y="348" width="1" height="5" fill="#00ff00"/><rect x="1032" y="349" width="3" height="3" fill="#00ff00"/><rect x="1037" y="352" width="1" height="12" fill="#00ff00"/><rect x="1036" y="352" width="3" height="5" fill="#00ff00"/><rect x="1041" y="340" width="1" height="23" fill="#ff0000"/><rect x="1040" y="344" width="3" height="12" fill="#ff0000"/><rect x="1045" y="334" width="1" height="27" fill="#00ff00"/><rect x="1044" y="344" width="3" height="14" fill="#00ff00"/><rect x="1049" y="345" width="1" height="28" fill="#ff0000"/><rect x="1048" y="347" width="3" height="12" fill="#ff0000"/><rect x="1053" y="332" width="1" height="17" fill="#ff0000"/><rect x="1052" y="343" width="3" height="6" fill="#ff0000"/><rect x="1057" y="334" width="1" height="13" fill="#00ff00"/><rect x="1056" y="342" width="3" height="4" fill="#00ff00"/><rect x="1061" y="340" width="1" height="20" fill="#00ff00"/><rect x="1060" y="345" width="3" height="6" fill="#00ff00"/><rect x="1065" y="330" width="1" height="24" fill="#ff0000"/><rect x="1064" y="339" width="3" height="13" fill="#ff0000"/><rect x="1069" y="334" width="1" height="31" fill="#00ff00"/><rect x="1068" y="339" width="3" height="25" fill="#00ff00"/><rect x="1073" y="356" width="1" height="13" fill="#ff0000"/><rect x="1072" y="357" width="3" height="7" fill="#ff0000"/><rect x="1077" y="346" width="1" height="16" fill="#ff0000"/><rect x="1076" y="349" width="3" height="10" fill="#ff0000"/><rect x="1081" y="346" width="1" height="5" fill="#ff0000"/><rect x="1080" y="346" width="3" height="4" fill="#ff0000"/><rect x="1085" y="341" width="1" height="21" fill="#00ff00"/><rect x="1084" y="346" width="3" height="16" fill="#00ff00"/><rect x="1089" y="358" width="1" height="29" fill="#00ff00"/><rect x="1088" y="360" width="3" height="25" fill="#00ff00"/><rect x="1093" y="373" width="1" height="22" fill="#00ff00"/><rect x="1092" y="383" width="3" height="12" fill="#00ff00"/><rect x="1097" y="388" width="1" height="19" fill="#00ff00"/><rect x="1096" y="393" width="3" height="13" fill="#00ff00"/><rect x="1101" y="383" width="1" height="27" fill="#ff0000"/><rect x="1100" y="388" width="3" height="17" fill="#ff0000"/><rect x="1105" y="385" width="1" height="17" fill="#00ff00"/><rect x="1104" y="388" width="3" height="3" fill="#00ff00"/><rect x="1109" y="387" width="1" height="19" fill="#00ff00"/><rect x="1108" y="390" width="3" height="12" fill="#00ff00"/><rect x="1113" y="394" width="1" height="22" fill="#00ff00"/><rect x="1112" y="401" width="3" height="5" fill="#00ff00"/><rect x="1117" y="399" width="1" height="14" fill="#ff0000"/><rect x="1116" y="404" width="3" height="2" fill="#ff0000"/><rect x="1121" y="380" width="1" height="36" fill="#ff0000"/><rect x="1120" y="384" width="3" height="21" fill="#ff0000"/><rect x="1125" y="381" width="1" height="24" fill="#00ff00"/><rect x="1124" y="382" width="3" height="22" fill="#00ff00"/><rect x="1129" y="391" width="1" height="13" fill="#00ff00"/><rect x="1128" y="400" width="3" height="2" fill="#00ff00"/><rect x="1133" y="381" width="1" height="19" fill="#ff0000"/><rect x="1132" y="393" width="3" height="5" fill="#ff0000"/><rect x="1137" y="391" width="1" height="19" fill="#00ff00"/><rect x="1136" y="393" width="3" height="13" fill="#00ff00"/><rect x="1141" y="404" width="1" height="38" fill="#00ff00"/><rect x="1140" y="404" width="3" height="33" fill="#00ff00"/><rect x="1145" y="416" width="1" height="23" fill="#ff0000"/><rect x="1144" y="426" width="3" height="11" fill="#ff0000"/><rect x="1149" y="396" width="1" height="35" fill="#ff0000"/><rect x="1148" y="397" width="3" height="31" fill="#ff0000"/><rect x="1153" y="396" width="1" height="7" fill="#00ff00"/><rect x="1152" y="397" width="3" height="5" fill="#00ff00"/><rect x="1157" y="397" width="1" height="17" fill="#00ff00"/><rect x="1156" y="399" width="3" height="9" fill="#00ff00"/><rect x="1161" y="406" width="1" height="27" fill="#00ff00"/><rect x="1160" y="409" width="3" height="16" fill="#00ff00"/><rect x="1165" y="410" width="1" height="33" fill="#00ff00"/><rect x="1164" y="410" width="3" height="28" fill="#00ff00"/><rect x="1169" y="434" width="1" height="20" fill="#00ff00"/><rect x="1168" y="436" width="3" height="11" fill="#00ff00"/><rect x="1173" y="431" width="1" height="19" fill="#ff0000"/><rect x="1172" y="436" width="3" height="12" fill="#ff0000"/><rect x="1177" y="432" width="1" height="8" fill="#ff0000"/><rect x="1176" y="434" width="3" height="4" fill="#ff0000"/><rect x="1181" y="432" width="1" height="20" fill="#00ff00"/><rect x="1180" y="434" width="3" height="17" fill="#00ff00"/><rect x="1185" y="441" width="1" height="24" fill="#00ff00"/><rect x="1184" y="449" width="3" height="8" fill="#00ff00"/><rect x="1189" y="452" width="1" height="17" fill="#00ff00"/><rect x="1188" y="454" width="3" height="5" fill="#00ff00"/><rect x="1193" y="438" width="1" height="22" fill="#ff0000"/><rect x="1192" y="456" width="3" height="3" fill="#ff0000"/><rect x="1197" y="441" width="1" height="21" fill="#ff0000"/><rect x="1196" y="450" width="3" height="7" fill="#ff0000"/><rect x="1201" y="447" width="1" height="8" fill="#00ff00"/><rect x="1200" y="448" width="3" height="7" fill="#00ff00"/><rect x="1205" y="443" width="1" height="26" fill="#ff0000"/><rect x="1204" y="444" width="3" height="15" fill="#ff0000"/><rect x="1209" y="439" width="1" height="18" fill="#00ff00"/><rect x="1208" y="443" width="3" height="10" fill="#00ff00"/><rect x="1213" y="450" width="1" height="19" fill="#00ff00"/><rect x="1212" y="451" width="3" height="14" fill="#00ff00"/><rect x="1217" y="459" width="1" height="20" fill="#00ff00"/><rect x="1216" y="464" width="3" height="11" fill="#00ff00"/><rect x="1221" y="468" width="1" height="26" fill="#00ff00"/><rect x="1220" y="474" width="3" height="3" fill="#00ff00"/><rect x="1225" y="471" width="1" height="11" fill="#00ff00"/><rect x="1224" y="475" width="3" height="6" fill="#00ff00"/><rect x="1229" y="479" width="1" height="20" fill="#00ff00"/><rect x="1228" y="479" width="3" height="18" fill="#00ff00"/><rect x="1233" y="484" width="1" height="24" fill="#ff0000"/><rect x="1232" y="493" width="3" height="4" fill="#ff0000"/><rect x="1237" y="479" width="1" height="16" fill="#ff0000"/><rect x="1236" y="487" width="3" height="8" fill="#ff0000"/><rect x="1241" y="460" width="1" height="35" fill="#ff0000"/><rect x="1240" y="467" width="3" height="23" fill="#ff0000"/><rect x="1245" y="464" width="1" height="20" fill="#00ff00"/><rect x="1244" y="468" width="3" height="12" fill="#00ff00"/><rect x="1249" y="473" width="1" height="21" fill="#00ff00"/><rect x="1248" y="478" width="3" height="16" fill="#00ff00"/><rect x="1253" y="474" width="1" height="14" fill="#ff0000"/><rect x="1252" y="482" width="3" height="5" fill="#ff0000"/><rect x="1257" y="449" width="1" height="34" fill="#ff0000"/><rect x="1256" y="451" width="3" height="31" fill="#ff0000"/><rect x="1261" y="434" width="1" height="29" fill="#00ff00"/><rect x="1260" y="452" width="3" height="11" fill="#00ff00"/><rect x="1265" y="459" width="1" height="8" fill="#00ff00"/><rect x="1264" y="460" width="3" height="5" fill="#00ff00"/><path d="M771 190h7v1h-7zM767 191h4v1h-4zM778 191h1v1h-1zM761 192h6v1h-6zM779 192h2v1h-2zM759 193h2v1h-2zM781 193h1v1h-1zM758 194h1v1h-1zM782 194h1v1h-1zM757 195h1v1h-1zM783 195h1v1h-1zM755 196h2v1h-2zM784 196h1v1h-1zM754 197h1v1h-1zM785 197h1v1h-1zM751 198h3v1h-3zM786 198h1v1h-1zM749 199h2v1h-2zM787 199h2v1h-2zM748 200h1v1h-1zM789 200h1v1h-1zM747 201h1v1h-1zM790 201h2v1h-2zM746 202h1v1h-1zM792 202h2v1h-2zM745 203h1v1h-1zM794 203h1v1h-1zM744 204h1v1h-1zM795 204h1v1h-1zM743 205h1v1h-1zM795 205h1v1h-1zM743 206h1v1h-1zM796 206h1v1h-1zM742 207h1v1h-1zM797 207h1v1h-1zM741 208h1v1h-1zM798 208h1v1h-1zM740 209h1v1h-1zM799 209h1v1h-1zM739 210h1v1h-1zM799 210h1v1h-1zM739 211h1v1h-1zM800 211h1v1h-1zM738 212h1v1h-1zM801 212h1v1h-1zM737 213h1v1h-1zM802 213h1v1h-1zM736 214h1v1h-1zM803 214h2v1h-2zM735 215h1v1h-1zM805 215h2v1h-2zM815 215h4v1h-4zM735 216h1v1h-1zM807 216h8v1h-8zM819 216h4v1h-4zM734 217h1v1h-1zM823 217h4v1h-4zM733 218h1v1h-1zM827 218h4v1h-4zM732 219h1v1h-1zM831 219h3v1h-3zM867 219h4v1h-4zM732 220h1v1h-1zM834 220h2v1h-2zM863 220h4v1h-4zM871 220h4v1h-4zM731 221h1v1h-1zM836 221h2v1h-2zM859 221h4v1h-4zM875 221h3v1h-3zM730 222h1v1h-1zM838 222h2v1h-2zM855 222h4v1h-4zM878 222h2v1h-2zM730 223h1v1h-1zM840 223h3v1h-3zM851 223h4v1h-4zM880 223h7v1h-7zM729 224h1v1h-1zM843 224h8v1h-8zM887 224h7v1h-7zM728 225h1v1h-1zM894 225h1v1h-1zM727 226h1v1h-1zM895 226h1v1h-1zM727 227h1v1h-1zM896 227h1v1h-1zM726 228h1v1h-1zM897 228h1v1h-1zM725 229h1v1h-1zM898 229h1v1h-1zM724 230h1v1h-1zM899 230h2v1h-2zM724 231h1v1h-1zM901 231h1v1h-1zM723 232h1v1h-1zM902 232h2v1h-2zM723 233h1v1h-1zM904 233h2v1h-2zM722 234h1v1h-1zM906 234h1v1h-1zM722 235h1v1h-1zM907 235h2v1h-2zM721 236h1v1h-1zM909 236h1v1h-1zM720 237h1v1h-1zM910 237h1v1h-1zM720 238h1v1h-1zM911 238h2v1h-2zM719 239h1v1h-1zM913 239h1v1h-1zM719 240h1v1h-1zM914 240h1v1h-1zM718 241h1v1h-1zM915 241h1v1h-1zM718 242h1v1h-1zM916 242h1v1h-1zM717 243h1v1h-1zM917 243h1v1h-1zM716 244h1v1h-1zM918 244h1v1h-1zM716 245h1v1h-1zM919 245h1v1h-1zM715 246h1v1h-1zM919 246h1v1h-1zM715 247h1v1h-1zM920 247h1v1h-1zM714 248h1v1h-1zM921 248h1v1h-1zM714 249h1v1h-1zM922 249h1v1h-1zM713 250h1v1h-1zM923 250h1v1h-1zM712 251h1v1h-1zM924 251h1v1h-1zM712 252h1v1h-1zM925 252h1v1h-1zM711 253h1v1h-1zM926 253h1v1h-1zM711 254h1v1h-1zM927 254h2v1h-2zM710 255h1v1h-1zM929 255h1v1h-1zM710 256h1v1h-1zM930 256h1v1h-1zM709 257h1v1h-1zM930 257h1v1h-1zM709 258h1v1h-1zM931 258h1v1h-1zM708 259h1v1h-1zM931 259h1v1h-1zM708 260h1v1h-1zM932 260h1v1h-1zM707 261h1v1h-1zM932 261h1v1h-1zM707 262h1v1h-1zM933 262h1v1h-1zM706 263h1v1h-1zM934 263h1v1h-1zM706 264h1v1h-1zM935 264h1v1h-1zM705 265h1v1h-1zM935 265h1v1h-1zM705 266h1v1h-1zM936 266h1v1h-1zM704 267h1v1h-1zM937 267h1v1h-1zM704 268h1v1h-1zM938 268h1v1h-1zM703 269h1v1h-1zM938 269h1v1h-1zM703 270h1v1h-1zM939 270h1v1h-1zM702 271h1v1h-1zM939 271h1v1h-1zM702 272h1v1h-1zM940 272h1v1h-1zM701 273h1v1h-1zM940 273h1v1h-1zM701 274h1v1h-1zM941 274h1v1h-1zM700 275h1v1h-1zM942 275h1v1h-1zM700 276h1v1h-1zM943 276h1v1h-1zM699 277h1v1h-1zM943 277h1v1h-1zM699 278h1v1h-1zM944 278h1v1h-1zM698 279h1v1h-1zM945 279h1v1h-1zM698 280h1v1h-1zM946 280h1v1h-1zM697 281h1v1h-1zM946 281h1v1h-1zM696 282h1v1h-1zM947 282h1v1h-1zM696 283h1v1h-1zM947 283h1v1h-1zM695 284h1v1h-1zM948 284h1v1h-1zM695 285h1v1h-1zM948 285h1v1h-1zM694 286h1v1h-1zM949 286h1v1h-1zM694 287h1v1h-1zM950 287h1v1h-1zM693 288h1v1h-1zM951 288h1v1h-1zM693 289h1v1h-1zM952 289h1v1h-1zM692 290h1v1h-1zM953 290h1v1h-1zM692 291h1v1h-1zM954 291h1v1h-1zM691 292h1v1h-1zM955 292h2v1h-2zM691 293h1v1h-1zM957 293h1v1h-1zM690 294h1v1h-1zM958 294h1v1h-1zM690 295h1v1h-1zM959 295h2v1h-2zM689 296h1v1h-1zM961 296h1v1h-1zM688 297h1v1h-1zM962 297h1v1h-1zM688 298h1v1h-1zM963 298h2v1h-2zM687 299h1v1h-1zM965 299h1v1h-1zM687 300h1v1h-1zM966 300h1v1h-1zM686 301h1v1h-1zM967 301h1v1h-1zM686 302h1v1h-1zM968 302h1v1h-1zM685 303h1v1h-1zM969 303h1v1h-1zM685 304h1v1h-1zM970 304h1v1h-1zM684 305h1v1h-1zM971 305h1v1h-1zM684 306h1v1h-1zM971 306h1v1h-1zM683 307h1v1h-1zM972 307h1v1h-1zM683 308h1v1h-1zM973 308h1v1h-1zM683 309h1v1h-1zM974 309h1v1h-1zM682 310h1v1h-1zM975 310h1v1h-1zM682 311h1v1h-1zM975 311h1v1h-1zM681 312h1v1h-1zM976 312h1v1h-1zM681 313h1v1h-1zM977 313h1v1h-1zM681 314h1v1h-1zM978 314h1v1h-1zM680 315h1v1h-1zM979 315h1v1h-1zM680 316h1v1h-1zM980 316h1v1h-1zM680 317h1v1h-1zM981 317h1v1h-1zM679 318h1v1h-1zM982 318h1v1h-1zM679 319h1v1h-1zM983 319h1v1h-1zM678 320h1v1h-1zM983 320h1v1h-1zM678 321h1v1h-1zM984 321h1v1h-1zM678 322h1v1h-1zM985 322h1v1h-1zM677 323h1v1h-1zM986 323h1v1h-1zM677 324h1v1h-1zM987 324h1v1h-1zM677 325h1v1h-1zM988 325h1v1h-1zM676 326h1v1h-1zM989 326h1v1h-1zM676 327h1v1h-1zM990 327h1v1h-1zM676 328h1v1h-1zM991 328h2v1h-2zM675 329h1v1h-1zM993 329h1v1h-1zM675 330h1v1h-1zM994 330h1v1h-1zM675 331h1v1h-1zM995 331h2v1h-2zM674 332h1v1h-1zM997 332h1v1h-1zM674 333h1v1h-1zM998 333h2v1h-2zM674 334h1v1h-1zM1000 334h2v1h-2zM673 335h1v1h-1zM1002 335h1v1h-1zM673 336h1v1h-1zM1003 336h2v1h-2zM673 337h1v1h-1zM1005 337h1v1h-1zM672 338h1v1h-1zM1006 338h1v1h-1zM672 339h1v1h-1zM1007 339h2v1h-2zM672 340h1v1h-1zM1009 340h1v1h-1zM671 341h1v1h-1zM1010 341h1v1h-1zM671 342h1v1h-1zM1011 342h2v1h-2zM670 343h1v1h-1zM1013 343h1v1h-1zM670 344h1v1h-1zM1014 344h2v1h-2zM1067 344h16v1h-16zM670 345h1v1h-1zM1016 345h2v1h-2zM1063 345h4v1h-4zM1083 345h4v1h-4zM669 346h1v1h-1zM1018 346h2v1h-2zM1060 346h3v1h-3zM1087 346h3v1h-3zM669 347h1v1h-1zM1020 347h3v1h-3zM1058 347h2v1h-2zM1090 347h2v1h-2zM669 348h1v1h-1zM1023 348h3v1h-3zM1056 348h2v1h-2zM1092 348h2v1h-2zM668 349h1v1h-1zM1026 349h2v1h-2zM1054 349h2v1h-2zM1094 349h2v1h-2zM668 350h1v1h-1zM1028 350h2v1h-2zM1051 350h3v1h-3zM1096 350h3v1h-3zM667 351h1v1h-1zM1030 351h2v1h-2zM1047 351h4v1h-4zM1099 351h3v1h-3zM667 352h1v1h-1zM1032 352h3v1h-3zM1039 352h8v1h-8zM1102 352h2v1h-2zM667 353h1v1h-1zM1035 353h4v1h-4zM1104 353h2v1h-2zM666 354h1v1h-1zM1106 354h2v1h-2zM666 355h1v1h-1zM1108 355h3v1h-3zM665 356h1v1h-1zM1111 356h3v1h-3zM665 357h1v1h-1zM1114 357h2v1h-2zM665 358h1v1h-1zM1116 358h2v1h-2zM664 359h1v1h-1zM1118 359h2v1h-2zM664 360h1v1h-1zM1120 360h2v1h-2zM664 361h1v1h-1zM1122 361h1v1h-1zM663 362h1v1h-1zM1123 362h2v1h-2zM663 363h1v1h-1zM1125 363h1v1h-1zM662 364h1v1h-1zM1126 364h2v1h-2zM662 365h1v1h-1zM1128 365h2v1h-2zM662 366h1v1h-1zM1130 366h1v1h-1zM661 367h1v1h-1zM1131 367h2v1h-2zM661 368h1v1h-1zM1133 368h1v1h-1zM661 369h1v1h-1zM1134 369h2v1h-2zM660 370h1v1h-1zM1136 370h2v1h-2zM660 371h1v1h-1zM1138 371h1v1h-1zM660 372h1v1h-1zM1139 372h2v1h-2zM659 373h1v1h-1zM1141 373h1v1h-1zM659 374h1v1h-1zM1142 374h1v1h-1zM659 375h1v1h-1zM1143 375h2v1h-2zM658 376h1v1h-1zM1145 376h2v1h-2zM658 377h1v1h-1zM1147 377h3v1h-3zM658 378h1v1h-1zM1150 378h2v1h-2zM657 379h1v1h-1zM1152 379h2v1h-2zM657 380h1v1h-1zM1154 380h2v1h-2zM657 381h1v1h-1zM1156 381h2v1h-2zM656 382h1v1h-1zM1158 382h2v1h-2zM656 383h1v1h-1zM1160 383h2v1h-2zM655 384h1v1h-1zM1162 384h1v1h-1zM655 385h1v1h-1zM1163 385h2v1h-2zM654 386h1v1h-1zM1165 386h1v1h-1zM654 387h1v1h-1zM1166 387h1v1h-1zM653 388h1v1h-1zM1167 388h2v1h-2zM652 389h1v1h-1zM1169 389h1v1h-1zM652 390h1v1h-1zM1170 390h1v1h-1zM651 391h1v1h-1zM1171 391h1v1h-1zM650 392h1v1h-1zM1172 392h1v1h-1zM650 393h1v1h-1zM1173 393h1v1h-1zM649 394h1v1h-1zM1174 394h1v1h-1zM648 395h1v1h-1zM1175 395h2v1h-2zM647 396h1v1h-1zM1177 396h1v1h-1zM647 397h1v1h-1zM1178 397h1v1h-1zM646 398h1v1h-1zM1179 398h2v1h-2zM645 399h1v1h-1zM1181 399h1v1h-1zM644 400h1v1h-1zM1182 400h1v1h-1zM644 401h1v1h-1zM1183 401h1v1h-1zM643 402h1v1h-1zM1184 402h1v1h-1zM642 403h1v1h-1zM1185 403h1v1h-1zM642 404h1v1h-1zM1186 404h1v1h-1zM641 405h1v1h-1zM1187 405h2v1h-2zM640 406h1v1h-1zM1189 406h1v1h-1zM640 407h1v1h-1zM1190 407h1v1h-1zM639 408h1v1h-1zM1191 408h2v1h-2zM638 409h1v1h-1zM1193 409h1v1h-1zM638 410h1v1h-1zM1194 410h1v1h-1zM637 411h1v1h-1zM1195 411h1v1h-1zM636 412h1v1h-1zM1196 412h1v1h-1zM635 413h1v1h-1zM1197 413h1v1h-1zM634 414h1v1h-1zM1198 414h1v1h-1zM633 415h1v1h-1zM1199 415h2v1h-2zM632 416h1v1h-1zM1201 416h1v1h-1zM631 417h1v1h-1zM1202 417h1v1h-1zM630 418h1v1h-1zM1203 418h2v1h-2zM628 419h2v1h-2zM1205 419h1v1h-1zM626 420h2v1h-2zM1206 420h2v1h-2zM624 421h2v1h-2zM1208 421h2v1h-2zM622 422h2v1h-2zM1210 422h1v1h-1zM620 423h2v1h-2zM1211 423h2v1h-2zM618 424h2v1h-2zM1213 424h1v1h-1zM615 425h3v1h-3zM1214 425h2v1h-2zM612 426h3v1h-3zM1216 426h2v1h-2zM610 427h2v1h-2zM1218 427h1v1h-1zM608 428h2v1h-2zM1219 428h2v1h-2zM606 429h2v1h-2zM1221 429h1v1h-1zM1 430h2v1h-2zM603 430h3v1h-3zM1222 430h1v1h-1zM3 431h4v1h-4zM601 431h2v1h-2zM1223 431h2v1h-2zM7 432h4v1h-4zM599 432h2v1h-2zM1225 432h1v1h-1zM11 433h20v1h-20zM35 433h20v1h-20zM123 433h15v1h-15zM598 433h1v1h-1zM1226 433h1v1h-1zM31 434h4v1h-4zM55 434h16v1h-16zM107 434h16v1h-16zM138 434h2v1h-2zM596 434h2v1h-2zM1227 434h2v1h-2zM71 435h4v1h-4zM95 435h12v1h-12zM140 435h3v1h-3zM594 435h2v1h-2zM1229 435h1v1h-1zM75 436h20v1h-20zM143 436h3v1h-3zM319 436h20v1h-20zM592 436h2v1h-2zM1230 436h1v1h-1zM146 437h2v1h-2zM315 437h4v1h-4zM339 437h4v1h-4zM590 437h2v1h-2zM1231 437h2v1h-2zM148 438h3v1h-3zM311 438h4v1h-4zM343 438h4v1h-4zM588 438h2v1h-2zM1233 438h1v1h-1zM151 439h3v1h-3zM307 439h4v1h-4zM347 439h4v1h-4zM586 439h2v1h-2zM1234 439h1v1h-1zM154 440h2v1h-2zM299 440h8v1h-8zM351 440h8v1h-8zM584 440h2v1h-2zM1235 440h2v1h-2zM156 441h3v1h-3zM296 441h3v1h-3zM359 441h8v1h-8zM582 441h2v1h-2zM1237 441h1v1h-1zM159 442h3v1h-3zM294 442h2v1h-2zM367 442h4v1h-4zM580 442h2v1h-2zM1238 442h2v1h-2zM162 443h2v1h-2zM292 443h2v1h-2zM371 443h3v1h-3zM578 443h2v1h-2zM1240 443h2v1h-2zM164 444h2v1h-2zM290 444h2v1h-2zM374 444h2v1h-2zM575 444h3v1h-3zM1242 444h1v1h-1zM166 445h2v1h-2zM288 445h2v1h-2zM376 445h3v1h-3zM572 445h3v1h-3zM1243 445h2v1h-2zM168 446h2v1h-2zM286 446h2v1h-2zM379 446h3v1h-3zM570 446h2v1h-2zM1245 446h1v1h-1zM170 447h2v1h-2zM284 447h2v1h-2zM382 447h2v1h-2zM567 447h3v1h-3zM1246 447h1v1h-1zM172 448h2v1h-2zM282 448h2v1h-2zM384 448h2v1h-2zM564 448h3v1h-3zM1247 448h2v1h-2zM174 449h2v1h-2zM280 449h2v1h-2zM386 449h1v1h-1zM562 449h2v1h-2zM1249 449h1v1h-1zM176 450h3v1h-3zM278 450h2v1h-2zM387 450h2v1h-2zM560 450h2v1h-2zM1250 450h1v1h-1zM179 451h4v1h-4zM275 451h3v1h-3zM389 451h1v1h-1zM558 451h2v1h-2zM1251 451h2v1h-2zM183 452h4v1h-4zM272 452h3v1h-3zM390 452h1v1h-1zM556 452h2v1h-2zM1253 452h2v1h-2zM187 453h4v1h-4zM270 453h2v1h-2zM391 453h2v1h-2zM554 453h2v1h-2zM1255 453h4v1h-4zM191 454h4v1h-4zM268 454h2v1h-2zM393 454h1v1h-1zM551 454h3v1h-3zM1259 454h3v1h-3zM195 455h8v1h-8zM266 455h2v1h-2zM394 455h1v1h-1zM548 455h3v1h-3zM1262 455h2v1h-2zM203 456h3v1h-3zM264 456h2v1h-2zM395 456h2v1h-2zM546 456h2v1h-2zM1264 456h2v1h-2zM206 457h2v1h-2zM262 457h2v1h-2zM397 457h1v1h-1zM544 457h2v1h-2zM208 458h3v1h-3zM259 458h3v1h-3zM398 458h2v1h-2zM542 458h2v1h-2zM211 459h4v1h-4zM256 459h3v1h-3zM400 459h2v1h-2zM540 459h2v1h-2zM215 460h4v1h-4zM254 460h2v1h-2zM402 460h1v1h-1zM538 460h2v1h-2zM219 461h4v1h-4zM251 461h3v1h-3zM403 461h2v1h-2zM536 461h2v1h-2zM223 462h28v1h-28zM405 462h1v1h-1zM534 462h2v1h-2zM406 463h1v1h-1zM533 463h1v1h-1zM407 464h2v1h-2zM531 464h2v1h-2zM409 465h1v1h-1zM530 465h1v1h-1zM410 466h1v1h-1zM529 466h1v1h-1zM411 467h2v1h-2zM527 467h2v1h-2zM413 468h1v1h-1zM526 468h1v1h-1zM414 469h2v1h-2zM525 469h1v1h-1zM416 470h2v1h-2zM523 470h2v1h-2zM418 471h2v1h-2zM522 471h1v1h-1zM420 472h3v1h-3zM521 472h1v1h-1zM423 473h3v1h-3zM519 473h2v1h-2zM426 474h2v1h-2zM518 474h1v1h-1zM428 475h2v1h-2zM517 475h1v1h-1zM430 476h2v1h-2zM515 476h2v1h-2zM432 477h3v1h-3zM514 477h1v1h-1zM435 478h3v1h-3zM513 478h1v1h-1zM438 479h2v1h-2zM511 479h2v1h-2zM440 480h3v1h-3zM510 480h1v1h-1zM443 481h3v1h-3zM508 481h2v1h-2zM446 482h2v1h-2zM506 482h2v1h-2zM448 483h3v1h-3zM503 483h3v1h-3zM451 484h4v1h-4zM499 484h4v1h-4zM455 485h4v1h-4zM495 485h4v1h-4zM459 486h4v1h-4zM471 486h4v1h-4zM491 486h4v1h-4zM463 487h8v1h-8zM475 487h16v1h-16z" fill="#0000cd"/><path d="M709 155h2v1h-2zM708 156h1v1h-1zM711 156h3v1h-3zM707 157h1v1h-1zM714 157h1v1h-1zM706 158h1v1h-1zM714 158h1v1h-1zM705 159h1v1h-1zM715 159h1v1h-1zM704 160h1v1h-1zM715 160h1v1h-1zM703 161h1v1h-1zM716 161h1v1h-1zM703 162h1v1h-1zM716 162h1v1h-1zM702 163h1v1h-1zM717 163h1v1h-1zM701 164h1v1h-1zM717 164h1v1h-1zM700 165h1v1h-1zM718 165h1v1h-1zM699 166h1v1h-1zM719 166h1v1h-1zM698 167h1v1h-1zM719 167h1v1h-1zM696 168h2v1h-2zM720 168h1v1h-1zM694 169h2v1h-2zM721 169h1v1h-1zM693 170h1v1h-1zM722 170h1v1h-1zM692 171h1v1h-1zM723 171h1v1h-1zM692 172h1v1h-1zM723 172h1v1h-1zM691 173h1v1h-1zM724 173h1v1h-1zM690 174h1v1h-1zM725 174h1v1h-1zM690 175h1v1h-1zM725 175h1v1h-1zM689 176h1v1h-1zM726 176h1v1h-1zM688 177h1v1h-1zM726 177h1v1h-1zM687 178h1v1h-1zM727 178h1v1h-1zM687 179h1v1h-1zM727 179h1v1h-1zM686 180h1v1h-1zM728 180h1v1h-1zM685 181h1v1h-1zM728 181h1v1h-1zM685 182h1v1h-1zM729 182h1v1h-1zM685 183h1v1h-1zM729 183h1v1h-1zM684 184h1v1h-1zM729 184h1v1h-1zM684 185h1v1h-1zM730 185h1v1h-1zM684 186h1v1h-1zM730 186h1v1h-1zM684 187h1v1h-1zM731 187h1v1h-1zM683 188h1v1h-1zM731 188h1v1h-1zM683 189h1v1h-1zM731 189h1v1h-1zM683 190h1v1h-1zM732 190h1v1h-1zM683 191h1v1h-1zM732 191h1v1h-1zM682 192h1v1h-1zM733 192h1v1h-1zM682 193h1v1h-1zM733 193h1v1h-1zM682 194h1v1h-1zM733 194h1v1h-1zM682 195h1v1h-1zM734 195h1v1h-1zM681 196h1v1h-1zM734 196h1v1h-1zM681 197h1v1h-1zM735 197h1v1h-1zM681 198h1v1h-1zM735 198h1v1h-1zM681 199h1v1h-1zM735 199h1v1h-1zM680 200h1v1h-1zM736 200h1v1h-1zM680 201h1v1h-1zM736 201h1v1h-1zM680 202h1v1h-1zM737 202h1v1h-1zM680 203h1v1h-1zM737 203h1v1h-1zM680 204h1v1h-1zM738 204h1v1h-1zM679 205h1v1h-1zM738 205h1v1h-1zM679 206h1v1h-1zM739 206h1v1h-1zM679 207h1v1h-1zM739 207h1v1h-1zM679 208h1v1h-1zM740 208h1v1h-1zM679 209h1v1h-1zM740 209h1v1h-1zM679 210h1v1h-1zM741 210h1v1h-1zM678 211h1v1h-1zM742 211h2v1h-2zM678 212h1v1h-1zM744 212h2v1h-2zM678 213h1v1h-1zM746 213h2v1h-2zM678 214h1v1h-1zM748 214h2v1h-2zM828 214h2v1h-2zM678 215h1v1h-1zM750 215h2v1h-2zM826 215h2v1h-2zM830 215h1v1h-1zM677 216h1v1h-1zM752 216h3v1h-3zM796 216h19v1h-19zM819 216h7v1h-7zM831 216h1v1h-1zM677 217h1v1h-1zM755 217h7v1h-7zM794 217h2v1h-2zM815 217h4v1h-4zM831 217h1v1h-1zM677 218h1v1h-1zM762 218h1v1h-1zM793 218h1v1h-1zM832 218h1v1h-1zM677 219h1v1h-1zM763 219h1v1h-1zM791 219h2v1h-2zM833 219h1v1h-1zM865 219h1v1h-1zM677 220h1v1h-1zM764 220h1v1h-1zM790 220h1v1h-1zM834 220h1v1h-1zM864 220h1v1h-1zM866 220h1v1h-1zM676 221h1v1h-1zM765 221h1v1h-1zM787 221h3v1h-3zM835 221h1v1h-1zM863 221h1v1h-1zM867 221h2v1h-2zM676 222h1v1h-1zM766 222h2v1h-2zM784 222h3v1h-3zM836 222h1v1h-1zM862 222h1v1h-1zM869 222h1v1h-1zM676 223h1v1h-1zM768 223h3v1h-3zM775 223h4v1h-4zM782 223h2v1h-2zM837 223h1v1h-1zM861 223h1v1h-1zM870 223h1v1h-1zM676 224h1v1h-1zM771 224h4v1h-4zM779 224h3v1h-3zM838 224h2v1h-2zM859 224h2v1h-2zM871 224h2v1h-2zM676 225h1v1h-1zM840 225h3v1h-3zM858 225h1v1h-1zM873 225h1v1h-1zM676 226h1v1h-1zM843 226h3v1h-3zM855 226h3v1h-3zM874 226h1v1h-1zM675 227h1v1h-1zM846 227h2v1h-2zM851 227h4v1h-4zM875 227h1v1h-1zM675 228h1v1h-1zM848 228h3v1h-3zM876 228h1v1h-1zM675 229h1v1h-1zM877 229h2v1h-2zM675 230h1v1h-1zM879 230h3v1h-3zM675 231h1v1h-1zM882 231h1v1h-1zM891 231h3v1h-3zM674 232h1v1h-1zM883 232h2v1h-2zM887 232h4v1h-4zM894 232h2v1h-2zM674 233h1v1h-1zM885 233h2v1h-2zM896 233h2v1h-2zM674 234h1v1h-1zM898 234h1v1h-1zM674 235h1v1h-1zM899 235h1v1h-1zM674 236h1v1h-1zM899 236h1v1h-1zM674 237h1v1h-1zM900 237h1v1h-1zM673 238h1v1h-1zM901 238h1v1h-1zM673 239h1v1h-1zM902 239h1v1h-1zM673 240h1v1h-1zM903 240h1v1h-1zM673 241h1v1h-1zM903 241h1v1h-1zM673 242h1v1h-1zM904 242h1v1h-1zM672 243h1v1h-1zM905 243h1v1h-1zM672 244h1v1h-1zM906 244h1v1h-1zM672 245h1v1h-1zM906 245h1v1h-1zM672 246h1v1h-1zM907 246h1v1h-1zM672 247h1v1h-1zM908 247h1v1h-1zM671 248h1v1h-1zM908 248h1v1h-1zM671 249h1v1h-1zM909 249h1v1h-1zM671 250h1v1h-1zM910 250h1v1h-1zM671 251h1v1h-1zM910 251h1v1h-1zM671 252h1v1h-1zM911 252h1v1h-1zM670 253h1v1h-1zM912 253h1v1h-1zM670 254h1v1h-1zM912 254h1v1h-1zM670 255h1v1h-1zM913 255h1v1h-1zM670 256h1v1h-1zM913 256h1v1h-1zM670 257h1v1h-1zM914 257h1v1h-1zM669 258h1v1h-1zM914 258h1v1h-1zM669 259h1v1h-1zM915 259h1v1h-1zM669 260h1v1h-1zM915 260h1v1h-1zM669 261h1v1h-1zM916 261h1v1h-1zM669 262h1v1h-1zM916 262h1v1h-1zM668 263h1v1h-1zM917 263h1v1h-1zM668 264h1v1h-1zM917 264h1v1h-1zM668 265h1v1h-1zM917 265h1v1h-1zM668 266h1v1h-1zM918 266h1v1h-1zM668 267h1v1h-1zM918 267h1v1h-1zM667 268h1v1h-1zM918 268h1v1h-1zM667 269h1v1h-1zM919 269h1v1h-1zM667 270h1v1h-1zM919 270h1v1h-1zM667 271h1v1h-1zM919 271h1v1h-1zM666 272h1v1h-1zM920 272h1v1h-1zM666 273h1v1h-1zM920 273h1v1h-1zM666 274h1v1h-1zM920 274h1v1h-1zM666 275h1v1h-1zM921 275h1v1h-1zM666 276h1v1h-1zM921 276h1v1h-1zM665 277h1v1h-1zM921 277h1v1h-1zM665 278h1v1h-1zM922 278h1v1h-1zM665 279h1v1h-1zM922 279h1v1h-1zM665 280h1v1h-1zM923 280h1v1h-1zM665 281h1v1h-1zM923 281h1v1h-1zM664 282h1v1h-1zM924 282h1v1h-1zM664 283h1v1h-1zM924 283h1v1h-1zM664 284h1v1h-1zM925 284h1v1h-1zM664 285h1v1h-1zM925 285h1v1h-1zM664 286h1v1h-1zM926 286h1v1h-1zM664 287h1v1h-1zM926 287h1v1h-1zM663 288h1v1h-1zM927 288h1v1h-1zM663 289h1v1h-1zM927 289h1v1h-1zM663 290h1v1h-1zM928 290h1v1h-1zM663 291h1v1h-1zM928 291h1v1h-1zM663 292h1v1h-1zM929 292h1v1h-1zM662 293h1v1h-1zM929 293h1v1h-1zM662 294h1v1h-1zM930 294h1v1h-1zM662 295h1v1h-1zM930 295h1v1h-1zM662 296h1v1h-1zM931 296h1v1h-1zM662 297h1v1h-1zM931 297h1v1h-1zM662 298h1v1h-1zM931 298h1v1h-1zM661 299h1v1h-1zM932 299h1v1h-1zM661 300h1v1h-1zM932 300h1v1h-1zM661 301h1v1h-1zM933 301h1v1h-1zM661 302h1v1h-1zM933 302h1v1h-1zM661 303h1v1h-1zM933 303h1v1h-1zM660 304h1v1h-1zM934 304h1v1h-1zM660 305h1v1h-1zM934 305h1v1h-1zM660 306h1v1h-1zM935 306h1v1h-1zM660 307h1v1h-1zM935 307h1v1h-1zM660 308h1v1h-1zM935 308h1v1h-1zM660 309h1v1h-1zM936 309h1v1h-1zM659 310h1v1h-1zM936 310h1v1h-1zM659 311h1v1h-1zM937 311h1v1h-1zM659 312h1v1h-1zM937 312h1v1h-1zM659 313h1v1h-1zM937 313h1v1h-1zM659 314h1v1h-1zM938 314h1v1h-1zM658 315h1v1h-1zM938 315h1v1h-1zM658 316h1v1h-1zM938 316h1v1h-1zM658 317h1v1h-1zM939 317h1v1h-1zM658 318h1v1h-1zM939 318h1v1h-1zM658 319h1v1h-1zM939 319h1v1h-1zM658 320h1v1h-1zM940 320h1v1h-1zM657 321h1v1h-1zM940 321h1v1h-1zM657 322h1v1h-1zM940 322h1v1h-1zM657 323h1v1h-1zM941 323h1v1h-1zM657 324h1v1h-1zM941 324h1v1h-1zM657 325h1v1h-1zM941 325h1v1h-1zM656 326h1v1h-1zM942 326h1v1h-1zM656 327h1v1h-1zM942 327h1v1h-1zM656 328h1v1h-1zM942 328h1v1h-1zM656 329h1v1h-1zM943 329h1v1h-1zM655 330h1v1h-1zM943 330h1v1h-1zM655 331h1v1h-1zM944 331h1v1h-1zM655 332h1v1h-1zM944 332h1v1h-1zM655 333h1v1h-1zM944 333h1v1h-1zM654 334h1v1h-1zM945 334h1v1h-1zM654 335h1v1h-1zM945 335h1v1h-1zM654 336h1v1h-1zM945 336h1v1h-1zM654 337h1v1h-1zM946 337h1v1h-1zM653 338h1v1h-1zM946 338h1v1h-1zM653 339h1v1h-1zM946 339h1v1h-1zM1011 339h20v1h-20zM653 340h1v1h-1zM947 340h1v1h-1zM1008 340h3v1h-3zM1031 340h4v1h-4zM1047 340h8v1h-8zM652 341h1v1h-1zM947 341h1v1h-1zM1006 341h2v1h-2zM1035 341h12v1h-12zM1055 341h3v1h-3zM652 342h1v1h-1zM947 342h1v1h-1zM1005 342h1v1h-1zM1058 342h1v1h-1zM651 343h1v1h-1zM948 343h1v1h-1zM1004 343h1v1h-1zM1059 343h2v1h-2zM651 344h1v1h-1zM948 344h1v1h-1zM1004 344h1v1h-1zM1061 344h2v1h-2zM651 345h1v1h-1zM948 345h1v1h-1zM1003 345h1v1h-1zM1063 345h3v1h-3zM650 346h1v1h-1zM949 346h1v1h-1zM1002 346h1v1h-1zM1066 346h1v1h-1zM650 347h1v1h-1zM949 347h1v1h-1zM1002 347h1v1h-1zM1067 347h2v1h-2zM649 348h1v1h-1zM950 348h1v1h-1zM1001 348h1v1h-1zM1069 348h2v1h-2zM649 349h1v1h-1zM951 349h1v1h-1zM1000 349h1v1h-1zM1071 349h4v1h-4zM649 350h1v1h-1zM951 350h1v1h-1zM999 350h1v1h-1zM1075 350h8v1h-8zM648 351h1v1h-1zM952 351h1v1h-1zM999 351h1v1h-1zM1083 351h3v1h-3zM648 352h1v1h-1zM953 352h1v1h-1zM998 352h1v1h-1zM1086 352h2v1h-2zM648 353h1v1h-1zM954 353h1v1h-1zM997 353h1v1h-1zM1088 353h2v1h-2zM647 354h1v1h-1zM955 354h2v1h-2zM996 354h1v1h-1zM1090 354h1v1h-1zM647 355h1v1h-1zM957 355h1v1h-1zM995 355h1v1h-1zM1091 355h2v1h-2zM646 356h1v1h-1zM958 356h1v1h-1zM994 356h1v1h-1zM1093 356h1v1h-1zM646 357h1v1h-1zM959 357h2v1h-2zM992 357h2v1h-2zM1094 357h1v1h-1zM646 358h1v1h-1zM961 358h1v1h-1zM990 358h2v1h-2zM1095 358h1v1h-1zM645 359h1v1h-1zM962 359h1v1h-1zM988 359h2v1h-2zM1096 359h1v1h-1zM645 360h1v1h-1zM963 360h1v1h-1zM986 360h2v1h-2zM1097 360h1v1h-1zM645 361h1v1h-1zM964 361h1v1h-1zM984 361h2v1h-2zM1098 361h2v1h-2zM644 362h1v1h-1zM965 362h1v1h-1zM982 362h2v1h-2zM1100 362h2v1h-2zM644 363h1v1h-1zM966 363h1v1h-1zM980 363h2v1h-2zM1102 363h1v1h-1zM644 364h1v1h-1zM967 364h1v1h-1zM978 364h2v1h-2zM1103 364h2v1h-2zM643 365h1v1h-1zM968 365h1v1h-1zM975 365h3v1h-3zM1105 365h1v1h-1zM643 366h1v1h-1zM969 366h6v1h-6zM1106 366h1v1h-1zM643 367h1v1h-1zM1107 367h1v1h-1zM643 368h1v1h-1zM1108 368h1v1h-1zM642 369h1v1h-1zM1109 369h1v1h-1zM642 370h1v1h-1zM1110 370h1v1h-1zM642 371h1v1h-1zM1111 371h1v1h-1zM641 372h1v1h-1zM1111 372h1v1h-1zM641 373h1v1h-1zM1112 373h1v1h-1zM641 374h1v1h-1zM1113 374h1v1h-1zM640 375h1v1h-1zM1114 375h1v1h-1zM640 376h1v1h-1zM1115 376h1v1h-1zM640 377h1v1h-1zM1116 377h1v1h-1zM639 378h1v1h-1zM1117 378h1v1h-1zM639 379h1v1h-1zM1118 379h1v1h-1zM638 380h1v1h-1zM1119 380h2v1h-2zM638 381h1v1h-1zM1121 381h1v1h-1zM638 382h1v1h-1zM1122 382h1v1h-1zM637 383h1v1h-1zM1123 383h2v1h-2zM637 384h1v1h-1zM1125 384h1v1h-1zM637 385h1v1h-1zM1126 385h1v1h-1zM636 386h1v1h-1zM1127 386h2v1h-2zM636 387h1v1h-1zM1129 387h1v1h-1zM635 388h1v1h-1zM1130 388h1v1h-1zM635 389h1v1h-1zM1131 389h2v1h-2zM635 390h1v1h-1zM1133 390h1v1h-1zM634 391h1v1h-1zM1134 391h1v1h-1zM634 392h1v1h-1zM1135 392h1v1h-1zM633 393h1v1h-1zM1136 393h1v1h-1zM633 394h1v1h-1zM1137 394h1v1h-1zM633 395h1v1h-1zM1138 395h1v1h-1zM632 396h1v1h-1zM1139 396h1v1h-1zM632 397h1v1h-1zM1139 397h1v1h-1zM632 398h1v1h-1zM1140 398h1v1h-1zM631 399h1v1h-1zM1141 399h1v1h-1zM631 400h1v1h-1zM1142 400h1v1h-1zM630 401h1v1h-1zM1143 401h2v1h-2zM630 402h1v1h-1zM1145 402h2v1h-2zM1151 402h3v1h-3zM630 403h1v1h-1zM1147 403h4v1h-4zM1154 403h2v1h-2zM629 404h1v1h-1zM1156 404h2v1h-2zM629 405h1v1h-1zM1158 405h2v1h-2zM628 406h1v1h-1zM1160 406h2v1h-2zM628 407h1v1h-1zM1162 407h1v1h-1zM627 408h1v1h-1zM1163 408h2v1h-2zM626 409h1v1h-1zM1165 409h1v1h-1zM626 410h1v1h-1zM1166 410h1v1h-1zM625 411h1v1h-1zM1167 411h2v1h-2zM623 412h2v1h-2zM1169 412h1v1h-1zM622 413h1v1h-1zM1170 413h2v1h-2zM621 414h1v1h-1zM1172 414h2v1h-2zM620 415h1v1h-1zM1174 415h1v1h-1zM619 416h1v1h-1zM1175 416h1v1h-1zM618 417h1v1h-1zM1176 417h1v1h-1zM617 418h1v1h-1zM1177 418h1v1h-1zM615 419h2v1h-2zM1178 419h1v1h-1zM614 420h1v1h-1zM1179 420h2v1h-2zM613 421h1v1h-1zM1181 421h1v1h-1zM611 422h2v1h-2zM1182 422h1v1h-1zM610 423h1v1h-1zM1183 423h1v1h-1zM608 424h2v1h-2zM1184 424h1v1h-1zM606 425h2v1h-2zM1185 425h1v1h-1zM107 426h7v1h-7zM604 426h2v1h-2zM1186 426h1v1h-1zM103 427h4v1h-4zM114 427h2v1h-2zM602 427h2v1h-2zM1187 427h1v1h-1zM99 428h4v1h-4zM116 428h3v1h-3zM295 428h8v1h-8zM601 428h1v1h-1zM1187 428h1v1h-1zM95 429h4v1h-4zM119 429h4v1h-4zM292 429h3v1h-3zM303 429h8v1h-8zM559 429h4v1h-4zM599 429h2v1h-2zM1188 429h1v1h-1zM1 430h1v1h-1zM91 430h4v1h-4zM123 430h4v1h-4zM290 430h2v1h-2zM311 430h4v1h-4zM547 430h12v1h-12zM563 430h4v1h-4zM598 430h1v1h-1zM1189 430h1v1h-1zM2 431h1v1h-1zM88 431h3v1h-3zM127 431h4v1h-4zM283 431h7v1h-7zM315 431h4v1h-4zM544 431h3v1h-3zM567 431h4v1h-4zM597 431h1v1h-1zM1190 431h1v1h-1zM3 432h2v1h-2zM86 432h2v1h-2zM131 432h4v1h-4zM279 432h4v1h-4zM319 432h3v1h-3zM542 432h2v1h-2zM571 432h3v1h-3zM595 432h2v1h-2zM1191 432h2v1h-2zM5 433h1v1h-1zM67 433h12v1h-12zM83 433h3v1h-3zM135 433h3v1h-3zM275 433h4v1h-4zM322 433h2v1h-2zM539 433h3v1h-3zM574 433h2v1h-2zM594 433h1v1h-1zM1193 433h2v1h-2zM6 434h2v1h-2zM64 434h3v1h-3zM79 434h4v1h-4zM138 434h1v1h-1zM272 434h3v1h-3zM324 434h2v1h-2zM537 434h2v1h-2zM576 434h3v1h-3zM592 434h2v1h-2zM1195 434h3v1h-3zM8 435h2v1h-2zM62 435h2v1h-2zM139 435h1v1h-1zM270 435h2v1h-2zM326 435h2v1h-2zM535 435h2v1h-2zM579 435h8v1h-8zM590 435h2v1h-2zM1198 435h2v1h-2zM10 436h2v1h-2zM61 436h1v1h-1zM140 436h1v1h-1zM268 436h2v1h-2zM328 436h3v1h-3zM534 436h1v1h-1zM587 436h3v1h-3zM1200 436h2v1h-2zM12 437h2v1h-2zM59 437h2v1h-2zM141 437h1v1h-1zM266 437h2v1h-2zM331 437h3v1h-3zM533 437h1v1h-1zM1202 437h1v1h-1zM14 438h2v1h-2zM58 438h1v1h-1zM142 438h1v1h-1zM264 438h2v1h-2zM334 438h2v1h-2zM532 438h1v1h-1zM1203 438h2v1h-2zM16 439h3v1h-3zM55 439h3v1h-3zM143 439h1v1h-1zM262 439h2v1h-2zM336 439h2v1h-2zM531 439h1v1h-1zM1205 439h1v1h-1zM19 440h8v1h-8zM52 440h3v1h-3zM144 440h1v1h-1zM260 440h2v1h-2zM338 440h1v1h-1zM530 440h1v1h-1zM1206 440h1v1h-1zM27 441h4v1h-4zM50 441h2v1h-2zM145 441h1v1h-1zM258 441h2v1h-2zM339 441h2v1h-2zM529 441h1v1h-1zM1207 441h1v1h-1zM31 442h8v1h-8zM47 442h3v1h-3zM146 442h1v1h-1zM257 442h1v1h-1zM341 442h1v1h-1zM527 442h2v1h-2zM1208 442h1v1h-1zM39 443h8v1h-8zM147 443h1v1h-1zM255 443h2v1h-2zM342 443h2v1h-2zM526 443h1v1h-1zM1209 443h1v1h-1zM147 444h1v1h-1zM254 444h1v1h-1zM344 444h2v1h-2zM525 444h1v1h-1zM1210 444h1v1h-1zM148 445h1v1h-1zM253 445h1v1h-1zM346 445h1v1h-1zM523 445h2v1h-2zM1211 445h1v1h-1zM149 446h1v1h-1zM251 446h2v1h-2zM347 446h1v1h-1zM522 446h1v1h-1zM1212 446h1v1h-1zM150 447h1v1h-1zM250 447h1v1h-1zM348 447h1v1h-1zM521 447h1v1h-1zM1213 447h1v1h-1zM151 448h1v1h-1zM247 448h3v1h-3zM349 448h1v1h-1zM520 448h1v1h-1zM1214 448h1v1h-1zM152 449h1v1h-1zM244 449h3v1h-3zM350 449h1v1h-1zM519 449h1v1h-1zM1215 449h1v1h-1zM153 450h1v1h-1zM242 450h2v1h-2zM351 450h2v1h-2zM519 450h1v1h-1zM1216 450h1v1h-1zM154 451h1v1h-1zM239 451h3v1h-3zM353 451h2v1h-2zM518 451h1v1h-1zM1217 451h1v1h-1zM155 452h1v1h-1zM235 452h4v1h-4zM355 452h7v1h-7zM517 452h1v1h-1zM1218 452h2v1h-2zM156 453h1v1h-1zM233 453h2v1h-2zM362 453h2v1h-2zM516 453h1v1h-1zM1220 453h2v1h-2zM157 454h1v1h-1zM231 454h2v1h-2zM364 454h2v1h-2zM515 454h1v1h-1zM1222 454h1v1h-1zM158 455h1v1h-1zM230 455h1v1h-1zM366 455h2v1h-2zM515 455h1v1h-1zM1223 455h2v1h-2zM159 456h1v1h-1zM229 456h1v1h-1zM368 456h2v1h-2zM514 456h1v1h-1zM1225 456h1v1h-1zM159 457h1v1h-1zM228 457h1v1h-1zM370 457h2v1h-2zM513 457h1v1h-1zM1226 457h1v1h-1zM160 458h1v1h-1zM227 458h1v1h-1zM372 458h2v1h-2zM512 458h1v1h-1zM1227 458h1v1h-1zM161 459h1v1h-1zM226 459h1v1h-1zM374 459h2v1h-2zM511 459h1v1h-1zM1228 459h1v1h-1zM162 460h1v1h-1zM225 460h1v1h-1zM376 460h2v1h-2zM510 460h1v1h-1zM1229 460h1v1h-1zM162 461h1v1h-1zM223 461h2v1h-2zM378 461h1v1h-1zM509 461h1v1h-1zM1230 461h1v1h-1zM163 462h1v1h-1zM222 462h1v1h-1zM379 462h2v1h-2zM508 462h1v1h-1zM1231 462h1v1h-1zM164 463h1v1h-1zM221 463h1v1h-1zM381 463h1v1h-1zM507 463h1v1h-1zM1232 463h1v1h-1zM164 464h1v1h-1zM219 464h2v1h-2zM382 464h2v1h-2zM506 464h1v1h-1zM1233 464h1v1h-1zM165 465h1v1h-1zM218 465h1v1h-1zM384 465h2v1h-2zM505 465h1v1h-1zM1234 465h1v1h-1zM166 466h1v1h-1zM217 466h1v1h-1zM386 466h1v1h-1zM504 466h1v1h-1zM1235 466h2v1h-2zM167 467h1v1h-1zM215 467h2v1h-2zM387 467h2v1h-2zM503 467h1v1h-1zM1237 467h2v1h-2zM168 468h1v1h-1zM214 468h1v1h-1zM389 468h1v1h-1zM502 468h1v1h-1zM1239 468h4v1h-4zM169 469h1v1h-1zM213 469h1v1h-1zM390 469h1v1h-1zM501 469h1v1h-1zM1243 469h3v1h-3zM170 470h2v1h-2zM211 470h2v1h-2zM391 470h1v1h-1zM499 470h2v1h-2zM1246 470h1v1h-1zM172 471h2v1h-2zM210 471h1v1h-1zM392 471h1v1h-1zM498 471h1v1h-1zM1247 471h2v1h-2zM174 472h2v1h-2zM207 472h3v1h-3zM393 472h1v1h-1zM497 472h1v1h-1zM1249 472h1v1h-1zM176 473h3v1h-3zM204 473h3v1h-3zM394 473h1v1h-1zM495 473h2v1h-2zM1250 473h2v1h-2zM179 474h4v1h-4zM202 474h2v1h-2zM395 474h2v1h-2zM494 474h1v1h-1zM1252 474h7v1h-7zM183 475h4v1h-4zM199 475h3v1h-3zM397 475h1v1h-1zM493 475h1v1h-1zM1259 475h4v1h-4zM187 476h12v1h-12zM398 476h1v1h-1zM491 476h2v1h-2zM1263 476h3v1h-3zM399 477h1v1h-1zM490 477h1v1h-1zM400 478h1v1h-1zM489 478h1v1h-1zM401 479h1v1h-1zM487 479h2v1h-2zM402 480h2v1h-2zM486 480h1v1h-1zM404 481h2v1h-2zM484 481h2v1h-2zM406 482h1v1h-1zM482 482h2v1h-2zM407 483h2v1h-2zM479 483h3v1h-3zM409 484h1v1h-1zM476 484h3v1h-3zM410 485h1v1h-1zM474 485h2v1h-2zM411 486h1v1h-1zM472 486h2v1h-2zM412 487h1v1h-1zM470 487h2v1h-2zM413 488h1v1h-1zM469 488h1v1h-1zM414 489h1v1h-1zM467 489h2v1h-2zM415 490h2v1h-2zM466 490h1v1h-1zM417 491h1v1h-1zM464 491h2v1h-2zM418 492h1v1h-1zM462 492h2v1h-2zM419 493h2v1h-2zM459 493h3v1h-3zM421 494h2v1h-2zM456 494h3v1h-3zM423 495h3v1h-3zM454 495h2v1h-2zM426 496h2v1h-2zM451 496h3v1h-3zM428 497h3v1h-3zM448 497h3v1h-3zM431 498h4v1h-4zM446 498h2v1h-2zM435 499h11v1h-11z" fill="#ff0000"/><path d="M677 105h1v1h-1zM677 106h3v1h-3zM677 107h1v1h-1zM680 107h2v1h-2zM676 108h1v1h-1zM682 108h1v1h-1zM676 109h1v1h-1zM682 109h1v1h-1zM676 110h1v1h-1zM683 110h1v1h-1zM676 111h1v1h-1zM683 111h1v1h-1zM676 112h1v1h-1zM684 112h1v1h-1zM675 113h1v1h-1zM684 113h1v1h-1zM675 114h1v1h-1zM685 114h1v1h-1zM675 115h1v1h-1zM685 115h1v1h-1zM675 116h1v1h-1zM685 116h1v1h-1zM674 117h1v1h-1zM686 117h1v1h-1zM674 118h1v1h-1zM686 118h1v1h-1zM674 119h1v1h-1zM686 119h1v1h-1zM674 120h1v1h-1zM686 120h1v1h-1zM674 121h1v1h-1zM687 121h1v1h-1zM673 122h1v1h-1zM687 122h1v1h-1zM673 123h1v1h-1zM687 123h1v1h-1zM673 124h1v1h-1zM687 124h1v1h-1zM673 125h1v1h-1zM688 125h1v1h-1zM673 126h1v1h-1zM688 126h1v1h-1zM673 127h1v1h-1zM688 127h1v1h-1zM672 128h1v1h-1zM688 128h1v1h-1zM672 129h1v1h-1zM689 129h1v1h-1zM672 130h1v1h-1zM689 130h1v1h-1zM672 131h1v1h-1zM689 131h1v1h-1zM672 132h1v1h-1zM689 132h1v1h-1zM672 133h1v1h-1zM689 133h1v1h-1zM671 134h1v1h-1zM690 134h1v1h-1zM671 135h1v1h-1zM690 135h1v1h-1zM671 136h1v1h-1zM690 136h1v1h-1zM671 137h1v1h-1zM690 137h1v1h-1zM671 138h1v1h-1zM690 138h1v1h-1zM671 139h1v1h-1zM691 139h1v1h-1zM670 140h1v1h-1zM691 140h1v1h-1zM670 141h1v1h-1zM691 141h1v1h-1zM670 142h1v1h-1zM691 142h1v1h-1zM670 143h1v1h-1zM691 143h1v1h-1zM670 144h1v1h-1zM692 144h1v1h-1zM670 145h1v1h-1zM692 145h1v1h-1zM669 146h1v1h-1zM692 146h1v1h-1zM669 147h1v1h-1zM692 147h1v1h-1zM669 148h1v1h-1zM692 148h1v1h-1zM669 149h1v1h-1zM693 149h1v1h-1zM669 150h1v1h-1zM693 150h1v1h-1zM669 151h1v1h-1zM693 151h1v1h-1zM669 152h1v1h-1zM693 152h1v1h-1zM668 153h1v1h-1zM693 153h1v1h-1zM668 154h1v1h-1zM693 154h1v1h-1zM668 155h1v1h-1zM694 155h1v1h-1zM668 156h1v1h-1zM694 156h1v1h-1zM668 157h1v1h-1zM694 157h1v1h-1zM668 158h1v1h-1zM694 158h1v1h-1zM667 159h1v1h-1zM694 159h1v1h-1zM667 160h1v1h-1zM694 160h1v1h-1zM667 161h1v1h-1zM694 161h1v1h-1zM667 162h1v1h-1zM694 162h1v1h-1zM667 163h1v1h-1zM695 163h1v1h-1zM667 164h1v1h-1zM695 164h1v1h-1zM667 165h1v1h-1zM695 165h1v1h-1zM666 166h1v1h-1zM695 166h1v1h-1zM666 167h1v1h-1zM695 167h1v1h-1zM666 168h1v1h-1zM695 168h1v1h-1zM666 169h1v1h-1zM695 169h1v1h-1zM666 170h1v1h-1zM696 170h1v1h-1zM666 171h1v1h-1zM696 171h1v1h-1zM665 172h1v1h-1zM696 172h1v1h-1zM665 173h1v1h-1zM696 173h1v1h-1zM665 174h1v1h-1zM696 174h1v1h-1zM665 175h1v1h-1zM696 175h1v1h-1zM665 176h1v1h-1zM696 176h1v1h-1zM665 177h1v1h-1zM696 177h1v1h-1zM665 178h1v1h-1zM697 178h1v1h-1zM664 179h1v1h-1zM697 179h1v1h-1zM664 180h1v1h-1zM697 180h1v1h-1zM664 181h1v1h-1zM697 181h1v1h-1zM664 182h1v1h-1zM697 182h1v1h-1zM664 183h1v1h-1zM697 183h1v1h-1zM664 184h1v1h-1zM698 184h1v1h-1zM663 185h1v1h-1zM698 185h1v1h-1zM663 186h1v1h-1zM698 186h1v1h-1zM663 187h1v1h-1zM698 187h1v1h-1zM663 188h1v1h-1zM699 188h1v1h-1zM663 189h1v1h-1zM699 189h1v1h-1zM717 189h2v1h-2zM723 189h3v1h-3zM663 190h1v1h-1zM699 190h1v1h-1zM717 190h1v1h-1zM719 190h4v1h-4zM725 190h1v1h-1zM663 191h1v1h-1zM699 191h1v1h-1zM716 191h1v1h-1zM726 191h1v1h-1zM662 192h1v1h-1zM699 192h1v1h-1zM716 192h1v1h-1zM726 192h1v1h-1zM662 193h1v1h-1zM700 193h1v1h-1zM715 193h1v1h-1zM726 193h1v1h-1zM662 194h1v1h-1zM700 194h1v1h-1zM715 194h1v1h-1zM727 194h1v1h-1zM662 195h1v1h-1zM700 195h1v1h-1zM714 195h1v1h-1zM727 195h1v1h-1zM662 196h1v1h-1zM700 196h1v1h-1zM714 196h1v1h-1zM727 196h1v1h-1zM662 197h1v1h-1zM701 197h1v1h-1zM713 197h1v1h-1zM727 197h1v1h-1zM661 198h1v1h-1zM701 198h1v1h-1zM712 198h2v1h-2zM728 198h1v1h-1zM661 199h1v1h-1zM701 199h1v1h-1zM710 199h2v1h-2zM728 199h1v1h-1zM661 200h1v1h-1zM701 200h1v1h-1zM709 200h1v1h-1zM728 200h1v1h-1zM793 200h1v1h-1zM661 201h1v1h-1zM702 201h1v1h-1zM709 201h1v1h-1zM729 201h1v1h-1zM791 201h3v1h-3zM661 202h1v1h-1zM702 202h1v1h-1zM708 202h1v1h-1zM729 202h1v1h-1zM790 202h1v1h-1zM794 202h1v1h-1zM661 203h1v1h-1zM702 203h1v1h-1zM708 203h1v1h-1zM730 203h1v1h-1zM789 203h1v1h-1zM794 203h1v1h-1zM661 204h1v1h-1zM703 204h1v1h-1zM707 204h1v1h-1zM730 204h1v1h-1zM788 204h1v1h-1zM795 204h1v1h-1zM661 205h1v1h-1zM703 205h1v1h-1zM707 205h1v1h-1zM731 205h1v1h-1zM787 205h1v1h-1zM795 205h1v1h-1zM660 206h1v1h-1zM704 206h1v1h-1zM707 206h1v1h-1zM732 206h1v1h-1zM787 206h1v1h-1zM796 206h1v1h-1zM660 207h1v1h-1zM704 207h1v1h-1zM706 207h1v1h-1zM732 207h1v1h-1zM777 207h2v1h-2zM786 207h1v1h-1zM796 207h1v1h-1zM660 208h1v1h-1zM704 208h1v1h-1zM706 208h1v1h-1zM733 208h1v1h-1zM776 208h1v1h-1zM779 208h7v1h-7zM797 208h1v1h-1zM829 208h1v1h-1zM660 209h1v1h-1zM705 209h1v1h-1zM733 209h1v1h-1zM775 209h1v1h-1zM797 209h1v1h-1zM829 209h2v1h-2zM660 210h1v1h-1zM705 210h1v1h-1zM734 210h1v1h-1zM775 210h1v1h-1zM798 210h1v1h-1zM828 210h1v1h-1zM830 210h1v1h-1zM660 211h1v1h-1zM734 211h1v1h-1zM774 211h1v1h-1zM798 211h1v1h-1zM828 211h1v1h-1zM831 211h1v1h-1zM865 211h1v1h-1zM660 212h1v1h-1zM735 212h1v1h-1zM773 212h1v1h-1zM799 212h1v1h-1zM828 212h1v1h-1zM831 212h1v1h-1zM863 212h2v1h-2zM866 212h2v1h-2zM660 213h1v1h-1zM735 213h1v1h-1zM773 213h1v1h-1zM799 213h1v1h-1zM827 213h1v1h-1zM832 213h1v1h-1zM862 213h1v1h-1zM868 213h2v1h-2zM660 214h1v1h-1zM736 214h1v1h-1zM772 214h1v1h-1zM800 214h1v1h-1zM827 214h1v1h-1zM832 214h1v1h-1zM861 214h1v1h-1zM869 214h1v1h-1zM659 215h1v1h-1zM736 215h1v1h-1zM772 215h1v1h-1zM800 215h1v1h-1zM827 215h1v1h-1zM833 215h1v1h-1zM861 215h1v1h-1zM870 215h1v1h-1zM659 216h1v1h-1zM737 216h1v1h-1zM771 216h1v1h-1zM801 216h1v1h-1zM827 216h1v1h-1zM833 216h1v1h-1zM860 216h1v1h-1zM870 216h1v1h-1zM659 217h1v1h-1zM737 217h1v1h-1zM771 217h1v1h-1zM802 217h1v1h-1zM826 217h1v1h-1zM833 217h1v1h-1zM860 217h1v1h-1zM870 217h1v1h-1zM659 218h1v1h-1zM737 218h1v1h-1zM770 218h1v1h-1zM803 218h1v1h-1zM826 218h1v1h-1zM834 218h1v1h-1zM859 218h1v1h-1zM871 218h1v1h-1zM659 219h1v1h-1zM738 219h1v1h-1zM770 219h1v1h-1zM803 219h1v1h-1zM826 219h1v1h-1zM834 219h1v1h-1zM859 219h1v1h-1zM871 219h1v1h-1zM659 220h1v1h-1zM738 220h1v1h-1zM769 220h1v1h-1zM804 220h1v1h-1zM825 220h1v1h-1zM835 220h1v1h-1zM858 220h1v1h-1zM871 220h1v1h-1zM659 221h1v1h-1zM738 221h1v1h-1zM769 221h1v1h-1zM805 221h1v1h-1zM825 221h1v1h-1zM835 221h1v1h-1zM858 221h1v1h-1zM872 221h1v1h-1zM659 222h1v1h-1zM739 222h1v1h-1zM768 222h1v1h-1zM805 222h1v1h-1zM824 222h1v1h-1zM836 222h1v1h-1zM857 222h1v1h-1zM872 222h1v1h-1zM659 223h1v1h-1zM739 223h1v1h-1zM767 223h1v1h-1zM806 223h1v1h-1zM823 223h1v1h-1zM836 223h1v1h-1zM857 223h1v1h-1zM872 223h1v1h-1zM658 224h1v1h-1zM740 224h1v1h-1zM766 224h1v1h-1zM806 224h1v1h-1zM822 224h1v1h-1zM837 224h1v1h-1zM857 224h1v1h-1zM873 224h1v1h-1zM658 225h1v1h-1zM740 225h1v1h-1zM765 225h1v1h-1zM806 225h1v1h-1zM821 225h1v1h-1zM837 225h1v1h-1zM856 225h1v1h-1zM873 225h1v1h-1zM658 226h1v1h-1zM740 226h1v1h-1zM764 226h1v1h-1zM807 226h1v1h-1zM820 226h1v1h-1zM838 226h1v1h-1zM856 226h1v1h-1zM873 226h1v1h-1zM658 227h1v1h-1zM741 227h1v1h-1zM763 227h1v1h-1zM807 227h1v1h-1zM820 227h1v1h-1zM838 227h1v1h-1zM855 227h1v1h-1zM874 227h1v1h-1zM658 228h1v1h-1zM741 228h1v1h-1zM762 228h1v1h-1zM808 228h1v1h-1zM819 228h1v1h-1zM839 228h1v1h-1zM855 228h1v1h-1zM874 228h1v1h-1zM658 229h1v1h-1zM741 229h1v1h-1zM761 229h1v1h-1zM808 229h1v1h-1zM818 229h1v1h-1zM839 229h1v1h-1zM855 229h1v1h-1zM875 229h1v1h-1zM658 230h1v1h-1zM742 230h1v1h-1zM761 230h1v1h-1zM808 230h1v1h-1zM818 230h1v1h-1zM840 230h1v1h-1zM854 230h1v1h-1zM875 230h1v1h-1zM658 231h1v1h-1zM742 231h1v1h-1zM760 231h1v1h-1zM809 231h1v1h-1zM815 231h3v1h-3zM840 231h1v1h-1zM854 231h1v1h-1zM875 231h1v1h-1zM658 232h1v1h-1zM743 232h1v1h-1zM760 232h1v1h-1zM809 232h6v1h-6zM841 232h1v1h-1zM843 232h3v1h-3zM853 232h1v1h-1zM876 232h1v1h-1zM657 233h1v1h-1zM743 233h1v1h-1zM759 233h1v1h-1zM841 233h2v1h-2zM846 233h1v1h-1zM853 233h1v1h-1zM876 233h1v1h-1zM657 234h1v1h-1zM743 234h1v1h-1zM759 234h1v1h-1zM846 234h1v1h-1zM852 234h1v1h-1zM877 234h1v1h-1zM657 235h1v1h-1zM744 235h1v1h-1zM759 235h1v1h-1zM847 235h1v1h-1zM852 235h1v1h-1zM877 235h1v1h-1zM657 236h1v1h-1zM744 236h1v1h-1zM758 236h1v1h-1zM847 236h1v1h-1zM851 236h1v1h-1zM878 236h1v1h-1zM657 237h1v1h-1zM745 237h1v1h-1zM758 237h1v1h-1zM848 237h1v1h-1zM850 237h1v1h-1zM878 237h1v1h-1zM657 238h1v1h-1zM745 238h2v1h-2zM757 238h1v1h-1zM848 238h1v1h-1zM850 238h1v1h-1zM879 238h1v1h-1zM657 239h1v1h-1zM747 239h3v1h-3zM757 239h1v1h-1zM849 239h1v1h-1zM879 239h1v1h-1zM657 240h1v1h-1zM750 240h1v1h-1zM756 240h1v1h-1zM880 240h1v1h-1zM893 240h1v1h-1zM656 241h1v1h-1zM750 241h1v1h-1zM756 241h1v1h-1zM880 241h1v1h-1zM892 241h1v1h-1zM894 241h1v1h-1zM656 242h1v1h-1zM751 242h1v1h-1zM755 242h1v1h-1zM881 242h1v1h-1zM892 242h1v1h-1zM894 242h1v1h-1zM656 243h1v1h-1zM751 243h1v1h-1zM755 243h1v1h-1zM882 243h1v1h-1zM891 243h1v1h-1zM895 243h1v1h-1zM656 244h1v1h-1zM752 244h1v1h-1zM754 244h1v1h-1zM883 244h1v1h-1zM890 244h1v1h-1zM896 244h1v1h-1zM656 245h1v1h-1zM752 245h1v1h-1zM754 245h1v1h-1zM883 245h1v1h-1zM890 245h1v1h-1zM896 245h1v1h-1zM656 246h1v1h-1zM753 246h1v1h-1zM884 246h1v1h-1zM887 246h3v1h-3zM897 246h1v1h-1zM655 247h1v1h-1zM885 247h2v1h-2zM898 247h1v1h-1zM655 248h1v1h-1zM898 248h1v1h-1zM655 249h1v1h-1zM899 249h1v1h-1zM655 250h1v1h-1zM899 250h1v1h-1zM655 251h1v1h-1zM900 251h1v1h-1zM655 252h1v1h-1zM900 252h1v1h-1zM654 253h1v1h-1zM901 253h1v1h-1zM654 254h1v1h-1zM901 254h1v1h-1zM654 255h1v1h-1zM901 255h1v1h-1zM654 256h1v1h-1zM902 256h1v1h-1zM654 257h1v1h-1zM902 257h1v1h-1zM654 258h1v1h-1zM902 258h1v1h-1zM653 259h1v1h-1zM902 259h1v1h-1zM653 260h1v1h-1zM903 260h1v1h-1zM653 261h1v1h-1zM903 261h1v1h-1zM653 262h1v1h-1zM903 262h1v1h-1zM652 263h1v1h-1zM903 263h1v1h-1zM652 264h1v1h-1zM904 264h1v1h-1zM652 265h1v1h-1zM904 265h1v1h-1zM651 266h1v1h-1zM904 266h1v1h-1zM651 267h1v1h-1zM904 267h1v1h-1zM650 268h1v1h-1zM905 268h1v1h-1zM650 269h1v1h-1zM905 269h1v1h-1zM650 270h1v1h-1zM905 270h1v1h-1zM649 271h1v1h-1zM906 271h1v1h-1zM649 272h1v1h-1zM906 272h1v1h-1zM649 273h1v1h-1zM907 273h1v1h-1zM649 274h1v1h-1zM907 274h1v1h-1zM648 275h1v1h-1zM907 275h1v1h-1zM648 276h1v1h-1zM908 276h1v1h-1zM648 277h1v1h-1zM908 277h1v1h-1zM648 278h1v1h-1zM909 278h1v1h-1zM648 279h1v1h-1zM909 279h1v1h-1zM647 280h1v1h-1zM909 280h1v1h-1zM647 281h1v1h-1zM910 281h1v1h-1zM647 282h1v1h-1zM910 282h1v1h-1zM647 283h1v1h-1zM911 283h1v1h-1zM646 284h1v1h-1zM911 284h1v1h-1zM646 285h1v1h-1zM911 285h1v1h-1zM646 286h1v1h-1zM912 286h1v1h-1zM646 287h1v1h-1zM912 287h1v1h-1zM646 288h1v1h-1zM913 288h1v1h-1zM645 289h1v1h-1zM913 289h1v1h-1zM645 290h1v1h-1zM913 290h1v1h-1zM645 291h1v1h-1zM914 291h1v1h-1zM645 292h1v1h-1zM914 292h1v1h-1zM645 293h1v1h-1zM914 293h1v1h-1zM645 294h1v1h-1zM915 294h1v1h-1zM645 295h1v1h-1zM915 295h1v1h-1zM644 296h1v1h-1zM915 296h1v1h-1zM644 297h1v1h-1zM915 297h1v1h-1zM644 298h1v1h-1zM916 298h1v1h-1zM644 299h1v1h-1zM916 299h1v1h-1zM644 300h1v1h-1zM916 300h1v1h-1zM644 301h1v1h-1zM917 301h1v1h-1zM644 302h1v1h-1zM917 302h1v1h-1zM644 303h1v1h-1zM917 303h1v1h-1zM643 304h1v1h-1zM918 304h1v1h-1zM643 305h1v1h-1zM918 305h1v1h-1zM643 306h1v1h-1zM918 306h1v1h-1zM643 307h1v1h-1zM918 307h1v1h-1zM643 308h1v1h-1zM919 308h1v1h-1zM643 309h1v1h-1zM919 309h1v1h-1zM643 310h1v1h-1zM919 310h1v1h-1zM643 311h1v1h-1zM920 311h1v1h-1zM642 312h1v1h-1zM920 312h1v1h-1zM642 313h1v1h-1zM920 313h1v1h-1zM642 314h1v1h-1zM920 314h1v1h-1zM642 315h1v1h-1zM921 315h1v1h-1zM642 316h1v1h-1zM921 316h1v1h-1zM642 317h1v1h-1zM921 317h1v1h-1zM642 318h1v1h-1zM922 318h1v1h-1zM642 319h1v1h-1zM922 319h1v1h-1zM641 320h1v1h-1zM922 320h1v1h-1zM641 321h1v1h-1zM922 321h1v1h-1zM641 322h1v1h-1zM923 322h1v1h-1zM641 323h1v1h-1zM923 323h1v1h-1zM641 324h1v1h-1zM923 324h1v1h-1zM1015 324h3v1h-3zM641 325h1v1h-1zM923 325h1v1h-1zM1013 325h2v1h-2zM1018 325h1v1h-1zM641 326h1v1h-1zM924 326h1v1h-1zM1013 326h1v1h-1zM1019 326h1v1h-1zM640 327h1v1h-1zM924 327h1v1h-1zM1012 327h1v1h-1zM1019 327h1v1h-1zM640 328h1v1h-1zM924 328h1v1h-1zM1012 328h1v1h-1zM1020 328h1v1h-1zM640 329h1v1h-1zM924 329h1v1h-1zM1011 329h1v1h-1zM1021 329h1v1h-1zM640 330h1v1h-1zM925 330h1v1h-1zM1011 330h1v1h-1zM1022 330h1v1h-1zM640 331h1v1h-1zM925 331h1v1h-1zM1010 331h1v1h-1zM1023 331h1v1h-1zM640 332h1v1h-1zM925 332h1v1h-1zM1010 332h1v1h-1zM1023 332h1v1h-1zM639 333h1v1h-1zM926 333h1v1h-1zM1009 333h1v1h-1zM1024 333h1v1h-1zM639 334h1v1h-1zM926 334h1v1h-1zM1009 334h1v1h-1zM1025 334h1v1h-1zM639 335h1v1h-1zM926 335h1v1h-1zM1008 335h1v1h-1zM1026 335h1v1h-1zM639 336h1v1h-1zM926 336h1v1h-1zM1008 336h1v1h-1zM1027 336h1v1h-1zM639 337h1v1h-1zM927 337h1v1h-1zM1007 337h1v1h-1zM1027 337h1v1h-1zM639 338h1v1h-1zM927 338h1v1h-1zM1007 338h1v1h-1zM1028 338h1v1h-1zM638 339h1v1h-1zM927 339h1v1h-1zM1006 339h1v1h-1zM1029 339h1v1h-1zM638 340h1v1h-1zM927 340h1v1h-1zM1006 340h1v1h-1zM1030 340h1v1h-1zM638 341h1v1h-1zM928 341h1v1h-1zM1005 341h1v1h-1zM1030 341h1v1h-1zM638 342h1v1h-1zM928 342h1v1h-1zM1004 342h1v1h-1zM1031 342h1v1h-1zM638 343h1v1h-1zM928 343h1v1h-1zM969 343h10v1h-10zM1003 343h1v1h-1zM1031 343h1v1h-1zM638 344h1v1h-1zM928 344h1v1h-1zM969 344h1v1h-1zM979 344h7v1h-7zM1002 344h1v1h-1zM1032 344h1v1h-1zM637 345h1v1h-1zM929 345h1v1h-1zM968 345h1v1h-1zM986 345h2v1h-2zM1001 345h1v1h-1zM1032 345h1v1h-1zM1065 345h1v1h-1zM637 346h1v1h-1zM929 346h1v1h-1zM968 346h1v1h-1zM988 346h2v1h-2zM1000 346h1v1h-1zM1033 346h1v1h-1zM1063 346h2v1h-2zM1066 346h1v1h-1zM637 347h1v1h-1zM929 347h1v1h-1zM968 347h1v1h-1zM990 347h1v1h-1zM999 347h1v1h-1zM1034 347h1v1h-1zM1057 347h2v1h-2zM1062 347h1v1h-1zM1067 347h2v1h-2zM637 348h1v1h-1zM929 348h1v1h-1zM967 348h1v1h-1zM991 348h2v1h-2zM998 348h1v1h-1zM1035 348h2v1h-2zM1055 348h2v1h-2zM1059 348h3v1h-3zM1069 348h1v1h-1zM637 349h1v1h-1zM929 349h1v1h-1zM967 349h1v1h-1zM993 349h5v1h-5zM1037 349h5v1h-5zM1054 349h1v1h-1zM1070 349h1v1h-1zM636 350h1v1h-1zM930 350h1v1h-1zM966 350h1v1h-1zM1042 350h1v1h-1zM1051 350h3v1h-3zM1071 350h2v1h-2zM636 351h1v1h-1zM930 351h1v1h-1zM966 351h1v1h-1zM1043 351h2v1h-2zM1047 351h4v1h-4zM1073 351h2v1h-2zM1079 351h3v1h-3zM636 352h1v1h-1zM930 352h1v1h-1zM966 352h1v1h-1zM1045 352h2v1h-2zM1075 352h4v1h-4zM1082 352h1v1h-1zM636 353h1v1h-1zM930 353h1v1h-1zM965 353h1v1h-1zM1083 353h1v1h-1zM636 354h1v1h-1zM930 354h1v1h-1zM965 354h1v1h-1zM1084 354h1v1h-1zM635 355h1v1h-1zM931 355h1v1h-1zM965 355h1v1h-1zM1085 355h1v1h-1zM635 356h1v1h-1zM931 356h1v1h-1zM964 356h1v1h-1zM1086 356h1v1h-1zM635 357h1v1h-1zM931 357h1v1h-1zM964 357h1v1h-1zM1087 357h1v1h-1zM635 358h1v1h-1zM931 358h1v1h-1zM963 358h1v1h-1zM1088 358h1v1h-1zM634 359h1v1h-1zM932 359h1v1h-1zM963 359h1v1h-1zM1089 359h1v1h-1zM634 360h1v1h-1zM932 360h1v1h-1zM963 360h1v1h-1zM1090 360h1v1h-1zM634 361h1v1h-1zM932 361h1v1h-1zM962 361h1v1h-1zM1090 361h1v1h-1zM634 362h1v1h-1zM932 362h1v1h-1zM962 362h1v1h-1zM1091 362h1v1h-1zM634 363h1v1h-1zM932 363h1v1h-1zM961 363h1v1h-1zM1091 363h1v1h-1zM633 364h1v1h-1zM933 364h1v1h-1zM961 364h1v1h-1zM1092 364h1v1h-1zM633 365h1v1h-1zM933 365h1v1h-1zM961 365h1v1h-1zM1092 365h1v1h-1zM633 366h1v1h-1zM933 366h1v1h-1zM960 366h1v1h-1zM1093 366h1v1h-1zM633 367h1v1h-1zM933 367h1v1h-1zM960 367h1v1h-1zM1093 367h1v1h-1zM633 368h1v1h-1zM934 368h1v1h-1zM960 368h1v1h-1zM1093 368h1v1h-1zM632 369h1v1h-1zM934 369h1v1h-1zM959 369h1v1h-1zM1094 369h1v1h-1zM632 370h1v1h-1zM935 370h1v1h-1zM959 370h1v1h-1zM1094 370h1v1h-1zM632 371h1v1h-1zM935 371h1v1h-1zM959 371h1v1h-1zM1094 371h1v1h-1zM632 372h1v1h-1zM936 372h1v1h-1zM959 372h1v1h-1zM1095 372h1v1h-1zM632 373h1v1h-1zM936 373h1v1h-1zM958 373h1v1h-1zM1095 373h1v1h-1zM631 374h1v1h-1zM937 374h1v1h-1zM958 374h1v1h-1zM1096 374h1v1h-1zM631 375h1v1h-1zM937 375h1v1h-1zM958 375h1v1h-1zM1096 375h1v1h-1zM631 376h1v1h-1zM938 376h1v1h-1zM957 376h1v1h-1zM1096 376h1v1h-1zM631 377h1v1h-1zM938 377h1v1h-1zM957 377h1v1h-1zM1097 377h1v1h-1zM631 378h1v1h-1zM939 378h1v1h-1zM957 378h1v1h-1zM1097 378h1v1h-1zM631 379h1v1h-1zM939 379h1v1h-1zM956 379h1v1h-1zM1098 379h1v1h-1zM630 380h1v1h-1zM940 380h1v1h-1zM956 380h1v1h-1zM1098 380h1v1h-1zM630 381h1v1h-1zM940 381h1v1h-1zM955 381h1v1h-1zM1099 381h1v1h-1zM630 382h1v1h-1zM941 382h1v1h-1zM955 382h1v1h-1zM1099 382h1v1h-1zM630 383h1v1h-1zM942 383h1v1h-1zM954 383h1v1h-1zM1100 383h1v1h-1zM630 384h1v1h-1zM943 384h2v1h-2zM954 384h1v1h-1zM1100 384h1v1h-1zM629 385h1v1h-1zM945 385h1v1h-1zM953 385h1v1h-1zM1101 385h1v1h-1zM629 386h1v1h-1zM946 386h1v1h-1zM953 386h1v1h-1zM1101 386h1v1h-1zM629 387h1v1h-1zM946 387h1v1h-1zM952 387h1v1h-1zM1102 387h1v1h-1zM629 388h1v1h-1zM947 388h1v1h-1zM952 388h1v1h-1zM1102 388h1v1h-1zM628 389h1v1h-1zM947 389h1v1h-1zM951 389h1v1h-1zM1103 389h1v1h-1zM628 390h1v1h-1zM948 390h1v1h-1zM951 390h1v1h-1zM1104 390h1v1h-1zM627 391h1v1h-1zM948 391h1v1h-1zM950 391h1v1h-1zM1104 391h1v1h-1zM627 392h1v1h-1zM949 392h2v1h-2zM1105 392h1v1h-1zM627 393h1v1h-1zM949 393h1v1h-1zM1106 393h1v1h-1zM626 394h1v1h-1zM1107 394h2v1h-2zM626 395h1v1h-1zM1109 395h1v1h-1zM625 396h1v1h-1zM1110 396h1v1h-1zM623 397h3v1h-3zM1111 397h2v1h-2zM1115 397h7v1h-7zM1132 397h6v1h-6zM620 398h3v1h-3zM1113 398h2v1h-2zM1122 398h2v1h-2zM1130 398h2v1h-2zM1137 398h1v1h-1zM612 399h3v1h-3zM618 399h2v1h-2zM1124 399h6v1h-6zM1138 399h1v1h-1zM610 400h2v1h-2zM615 400h3v1h-3zM1138 400h1v1h-1zM608 401h2v1h-2zM1138 401h1v1h-1zM606 402h2v1h-2zM1139 402h1v1h-1zM605 403h1v1h-1zM1139 403h1v1h-1zM604 404h1v1h-1zM1140 404h1v1h-1zM603 405h1v1h-1zM1140 405h1v1h-1zM603 406h1v1h-1zM1140 406h1v1h-1zM602 407h1v1h-1zM1141 407h1v1h-1zM601 408h1v1h-1zM1141 408h1v1h-1zM601 409h1v1h-1zM1142 409h1v1h-1zM600 410h1v1h-1zM1143 410h1v1h-1zM600 411h1v1h-1zM1144 411h1v1h-1zM1147 411h3v1h-3zM1160 411h2v1h-2zM599 412h1v1h-1zM1145 412h2v1h-2zM1150 412h2v1h-2zM1158 412h2v1h-2zM1162 412h2v1h-2zM599 413h1v1h-1zM1152 413h6v1h-6zM1164 413h2v1h-2zM598 414h1v1h-1zM1165 414h1v1h-1zM598 415h1v1h-1zM1166 415h1v1h-1zM103 416h7v1h-7zM597 416h1v1h-1zM1166 416h1v1h-1zM101 417h2v1h-2zM110 417h1v1h-1zM597 417h1v1h-1zM1167 417h1v1h-1zM100 418h1v1h-1zM111 418h1v1h-1zM596 418h1v1h-1zM1167 418h1v1h-1zM99 419h1v1h-1zM112 419h1v1h-1zM596 419h1v1h-1zM1167 419h1v1h-1zM99 420h1v1h-1zM113 420h1v1h-1zM596 420h1v1h-1zM1168 420h1v1h-1zM98 421h1v1h-1zM114 421h1v1h-1zM595 421h1v1h-1zM1168 421h1v1h-1zM97 422h1v1h-1zM114 422h1v1h-1zM532 422h6v1h-6zM595 422h1v1h-1zM1169 422h1v1h-1zM96 423h1v1h-1zM115 423h1v1h-1zM530 423h2v1h-2zM538 423h2v1h-2zM594 423h1v1h-1zM1169 423h1v1h-1zM95 424h1v1h-1zM115 424h1v1h-1zM269 424h14v1h-14zM528 424h2v1h-2zM540 424h2v1h-2zM594 424h1v1h-1zM1170 424h1v1h-1zM94 425h1v1h-1zM116 425h1v1h-1zM268 425h1v1h-1zM283 425h3v1h-3zM526 425h2v1h-2zM542 425h1v1h-1zM594 425h1v1h-1zM1170 425h1v1h-1zM93 426h1v1h-1zM116 426h1v1h-1zM267 426h1v1h-1zM286 426h2v1h-2zM295 426h3v1h-3zM525 426h1v1h-1zM543 426h2v1h-2zM593 426h1v1h-1zM1171 426h1v1h-1zM92 427h1v1h-1zM117 427h1v1h-1zM267 427h1v1h-1zM288 427h7v1h-7zM298 427h1v1h-1zM524 427h1v1h-1zM545 427h1v1h-1zM593 427h1v1h-1zM1171 427h1v1h-1zM91 428h1v1h-1zM117 428h1v1h-1zM266 428h1v1h-1zM299 428h1v1h-1zM523 428h1v1h-1zM546 428h2v1h-2zM593 428h1v1h-1zM1172 428h1v1h-1zM91 429h1v1h-1zM118 429h1v1h-1zM265 429h1v1h-1zM300 429h1v1h-1zM522 429h1v1h-1zM548 429h2v1h-2zM592 429h1v1h-1zM1172 429h1v1h-1zM52 430h2v1h-2zM90 430h1v1h-1zM118 430h1v1h-1zM264 430h1v1h-1zM301 430h1v1h-1zM521 430h1v1h-1zM550 430h1v1h-1zM592 430h1v1h-1zM1173 430h1v1h-1zM50 431h2v1h-2zM54 431h2v1h-2zM59 431h8v1h-8zM89 431h1v1h-1zM119 431h1v1h-1zM263 431h1v1h-1zM302 431h1v1h-1zM519 431h2v1h-2zM551 431h1v1h-1zM591 431h1v1h-1zM1174 431h1v1h-1zM48 432h2v1h-2zM56 432h3v1h-3zM67 432h3v1h-3zM88 432h1v1h-1zM120 432h1v1h-1zM263 432h1v1h-1zM303 432h1v1h-1zM518 432h1v1h-1zM552 432h1v1h-1zM591 432h1v1h-1zM1174 432h1v1h-1zM37 433h6v1h-6zM46 433h2v1h-2zM70 433h2v1h-2zM87 433h1v1h-1zM120 433h1v1h-1zM262 433h1v1h-1zM303 433h1v1h-1zM517 433h1v1h-1zM553 433h1v1h-1zM590 433h1v1h-1zM1175 433h1v1h-1zM36 434h1v1h-1zM43 434h3v1h-3zM72 434h6v1h-6zM86 434h1v1h-1zM121 434h1v1h-1zM261 434h1v1h-1zM304 434h1v1h-1zM516 434h1v1h-1zM554 434h1v1h-1zM590 434h1v1h-1zM1176 434h1v1h-1zM35 435h1v1h-1zM78 435h1v1h-1zM84 435h2v1h-2zM122 435h1v1h-1zM259 435h2v1h-2zM305 435h5v1h-5zM515 435h1v1h-1zM555 435h2v1h-2zM589 435h1v1h-1zM1176 435h1v1h-1zM34 436h1v1h-1zM79 436h2v1h-2zM82 436h2v1h-2zM122 436h1v1h-1zM258 436h1v1h-1zM310 436h1v1h-1zM514 436h1v1h-1zM557 436h2v1h-2zM587 436h2v1h-2zM1177 436h1v1h-1zM32 437h2v1h-2zM81 437h1v1h-1zM123 437h1v1h-1zM257 437h1v1h-1zM311 437h2v1h-2zM513 437h1v1h-1zM559 437h4v1h-4zM586 437h1v1h-1zM1178 437h1v1h-1zM30 438h2v1h-2zM124 438h1v1h-1zM255 438h2v1h-2zM313 438h1v1h-1zM324 438h2v1h-2zM512 438h1v1h-1zM563 438h3v1h-3zM585 438h1v1h-1zM1179 438h1v1h-1zM29 439h1v1h-1zM124 439h1v1h-1zM254 439h1v1h-1zM314 439h1v1h-1zM322 439h2v1h-2zM326 439h1v1h-1zM511 439h1v1h-1zM566 439h2v1h-2zM583 439h2v1h-2zM1179 439h1v1h-1zM28 440h1v1h-1zM125 440h1v1h-1zM239 440h4v1h-4zM252 440h2v1h-2zM315 440h2v1h-2zM319 440h3v1h-3zM327 440h1v1h-1zM510 440h1v1h-1zM568 440h3v1h-3zM582 440h1v1h-1zM1180 440h1v1h-1zM27 441h1v1h-1zM126 441h1v1h-1zM232 441h7v1h-7zM243 441h4v1h-4zM250 441h2v1h-2zM317 441h2v1h-2zM327 441h1v1h-1zM509 441h1v1h-1zM571 441h4v1h-4zM579 441h3v1h-3zM1181 441h1v1h-1zM1 442h1v1h-1zM26 442h1v1h-1zM126 442h1v1h-1zM230 442h2v1h-2zM247 442h3v1h-3zM328 442h1v1h-1zM508 442h1v1h-1zM575 442h4v1h-4zM1182 442h1v1h-1zM2 443h1v1h-1zM25 443h1v1h-1zM127 443h1v1h-1zM229 443h1v1h-1zM329 443h1v1h-1zM507 443h1v1h-1zM1183 443h2v1h-2zM2 444h1v1h-1zM24 444h1v1h-1zM127 444h1v1h-1zM228 444h1v1h-1zM330 444h1v1h-1zM507 444h1v1h-1zM1185 444h1v1h-1zM3 445h1v1h-1zM24 445h1v1h-1zM128 445h1v1h-1zM227 445h1v1h-1zM331 445h2v1h-2zM506 445h1v1h-1zM1186 445h1v1h-1zM3 446h1v1h-1zM23 446h1v1h-1zM128 446h1v1h-1zM226 446h1v1h-1zM333 446h1v1h-1zM505 446h1v1h-1zM1187 446h2v1h-2zM4 447h1v1h-1zM23 447h1v1h-1zM129 447h1v1h-1zM225 447h1v1h-1zM334 447h1v1h-1zM503 447h2v1h-2zM1189 447h1v1h-1zM4 448h1v1h-1zM22 448h1v1h-1zM130 448h1v1h-1zM223 448h2v1h-2zM335 448h2v1h-2zM502 448h1v1h-1zM1190 448h1v1h-1zM5 449h1v1h-1zM22 449h1v1h-1zM131 449h1v1h-1zM222 449h1v1h-1zM337 449h1v1h-1zM501 449h1v1h-1zM1191 449h1v1h-1zM6 450h1v1h-1zM21 450h1v1h-1zM132 450h1v1h-1zM221 450h1v1h-1zM338 450h1v1h-1zM500 450h1v1h-1zM1192 450h1v1h-1zM7 451h1v1h-1zM20 451h1v1h-1zM133 451h1v1h-1zM219 451h2v1h-2zM339 451h1v1h-1zM499 451h1v1h-1zM1193 451h1v1h-1zM1207 451h3v1h-3zM7 452h1v1h-1zM20 452h1v1h-1zM134 452h2v1h-2zM218 452h1v1h-1zM339 452h1v1h-1zM499 452h1v1h-1zM1194 452h1v1h-1zM1205 452h2v1h-2zM1210 452h2v1h-2zM8 453h1v1h-1zM19 453h1v1h-1zM136 453h2v1h-2zM217 453h1v1h-1zM340 453h1v1h-1zM498 453h1v1h-1zM1195 453h2v1h-2zM1203 453h2v1h-2zM1212 453h2v1h-2zM9 454h1v1h-1zM18 454h1v1h-1zM138 454h1v1h-1zM216 454h1v1h-1zM341 454h1v1h-1zM497 454h1v1h-1zM1197 454h2v1h-2zM1202 454h1v1h-1zM1214 454h1v1h-1zM10 455h2v1h-2zM18 455h1v1h-1zM139 455h2v1h-2zM215 455h1v1h-1zM342 455h1v1h-1zM496 455h1v1h-1zM1199 455h3v1h-3zM1215 455h1v1h-1zM12 456h6v1h-6zM141 456h1v1h-1zM215 456h1v1h-1zM343 456h2v1h-2zM495 456h1v1h-1zM1215 456h1v1h-1zM142 457h1v1h-1zM214 457h1v1h-1zM345 457h1v1h-1zM495 457h1v1h-1zM1216 457h1v1h-1zM142 458h1v1h-1zM213 458h1v1h-1zM346 458h1v1h-1zM494 458h1v1h-1zM1217 458h1v1h-1zM143 459h1v1h-1zM212 459h1v1h-1zM347 459h1v1h-1zM493 459h1v1h-1zM1218 459h1v1h-1zM144 460h1v1h-1zM211 460h1v1h-1zM348 460h1v1h-1zM371 460h3v1h-3zM491 460h2v1h-2zM1219 460h1v1h-1zM144 461h1v1h-1zM210 461h1v1h-1zM349 461h1v1h-1zM368 461h3v1h-3zM374 461h2v1h-2zM490 461h1v1h-1zM1220 461h1v1h-1zM145 462h1v1h-1zM204 462h6v1h-6zM350 462h1v1h-1zM366 462h2v1h-2zM376 462h2v1h-2zM489 462h1v1h-1zM1221 462h1v1h-1zM146 463h1v1h-1zM197 463h2v1h-2zM202 463h2v1h-2zM351 463h1v1h-1zM363 463h3v1h-3zM378 463h1v1h-1zM487 463h2v1h-2zM1222 463h1v1h-1zM146 464h1v1h-1zM196 464h1v1h-1zM199 464h3v1h-3zM352 464h1v1h-1zM360 464h3v1h-3zM379 464h1v1h-1zM486 464h1v1h-1zM1222 464h1v1h-1zM147 465h1v1h-1zM195 465h1v1h-1zM353 465h2v1h-2zM358 465h2v1h-2zM379 465h1v1h-1zM485 465h1v1h-1zM1223 465h1v1h-1zM148 466h1v1h-1zM194 466h1v1h-1zM355 466h3v1h-3zM380 466h1v1h-1zM484 466h1v1h-1zM1223 466h1v1h-1zM148 467h1v1h-1zM193 467h1v1h-1zM381 467h1v1h-1zM484 467h1v1h-1zM1224 467h1v1h-1zM149 468h1v1h-1zM192 468h1v1h-1zM382 468h1v1h-1zM483 468h1v1h-1zM1224 468h1v1h-1zM150 469h1v1h-1zM191 469h1v1h-1zM382 469h1v1h-1zM483 469h1v1h-1zM1225 469h1v1h-1zM150 470h1v1h-1zM190 470h1v1h-1zM383 470h1v1h-1zM482 470h1v1h-1zM1225 470h1v1h-1zM1265 470h1v1h-1zM151 471h1v1h-1zM189 471h1v1h-1zM384 471h1v1h-1zM482 471h1v1h-1zM1226 471h1v1h-1zM1263 471h2v1h-2zM152 472h1v1h-1zM188 472h1v1h-1zM384 472h1v1h-1zM481 472h1v1h-1zM1226 472h1v1h-1zM1262 472h1v1h-1zM152 473h1v1h-1zM187 473h1v1h-1zM385 473h1v1h-1zM480 473h1v1h-1zM1227 473h1v1h-1zM1259 473h3v1h-3zM153 474h1v1h-1zM186 474h1v1h-1zM386 474h1v1h-1zM479 474h1v1h-1zM1227 474h1v1h-1zM1257 474h2v1h-2zM154 475h2v1h-2zM185 475h1v1h-1zM387 475h1v1h-1zM478 475h1v1h-1zM1228 475h1v1h-1zM1257 475h1v1h-1zM156 476h2v1h-2zM184 476h1v1h-1zM387 476h1v1h-1zM477 476h1v1h-1zM1228 476h1v1h-1zM1256 476h1v1h-1zM158 477h1v1h-1zM183 477h1v1h-1zM388 477h1v1h-1zM476 477h1v1h-1zM1229 477h1v1h-1zM1256 477h1v1h-1zM159 478h2v1h-2zM183 478h1v1h-1zM389 478h1v1h-1zM475 478h1v1h-1zM1229 478h1v1h-1zM1255 478h1v1h-1zM161 479h1v1h-1zM182 479h1v1h-1zM389 479h1v1h-1zM474 479h1v1h-1zM1230 479h1v1h-1zM1255 479h1v1h-1zM162 480h1v1h-1zM181 480h1v1h-1zM390 480h1v1h-1zM473 480h1v1h-1zM1230 480h1v1h-1zM1254 480h1v1h-1zM163 481h1v1h-1zM180 481h1v1h-1zM390 481h1v1h-1zM472 481h1v1h-1zM1231 481h1v1h-1zM1254 481h1v1h-1zM164 482h1v1h-1zM180 482h1v1h-1zM390 482h1v1h-1zM471 482h1v1h-1zM1232 482h1v1h-1zM1252 482h2v1h-2zM165 483h1v1h-1zM179 483h1v1h-1zM391 483h1v1h-1zM471 483h1v1h-1zM1232 483h1v1h-1zM1250 483h2v1h-2zM166 484h2v1h-2zM178 484h1v1h-1zM391 484h1v1h-1zM470 484h1v1h-1zM1233 484h1v1h-1zM1240 484h10v1h-10zM168 485h7v1h-7zM178 485h1v1h-1zM392 485h1v1h-1zM469 485h1v1h-1zM1234 485h2v1h-2zM1238 485h2v1h-2zM175 486h3v1h-3zM392 486h1v1h-1zM468 486h1v1h-1zM1236 486h2v1h-2zM392 487h1v1h-1zM440 487h2v1h-2zM467 487h1v1h-1zM393 488h1v1h-1zM438 488h2v1h-2zM442 488h1v1h-1zM466 488h1v1h-1zM393 489h1v1h-1zM436 489h2v1h-2zM443 489h2v1h-2zM455 489h4v1h-4zM463 489h3v1h-3zM394 490h1v1h-1zM434 490h2v1h-2zM445 490h10v1h-10zM459 490h4v1h-4zM394 491h1v1h-1zM433 491h1v1h-1zM395 492h1v1h-1zM432 492h1v1h-1zM395 493h1v1h-1zM431 493h1v1h-1zM396 494h1v1h-1zM431 494h1v1h-1zM396 495h1v1h-1zM430 495h1v1h-1zM397 496h1v1h-1zM428 496h2v1h-2zM398 497h1v1h-1zM426 497h2v1h-2zM398 498h1v1h-1zM425 498h1v1h-1zM399 499h1v1h-1zM424 499h1v1h-1zM400 500h1v1h-1zM424 500h1v1h-1zM400 501h1v1h-1zM423 501h1v1h-1zM401 502h1v1h-1zM423 502h1v1h-1zM402 503h1v1h-1zM422 503h1v1h-1zM403 504h1v1h-1zM422 504h1v1h-1zM403 505h1v1h-1zM421 505h1v1h-1zM404 506h1v1h-1zM419 506h2v1h-2zM405 507h1v1h-1zM418 507h1v1h-1zM406 508h1v1h-1zM416 508h2v1h-2zM407 509h2v1h-2zM414 509h2v1h-2zM409 510h5v1h-5z" fill="#ffa500"/><rect x="1" y="350" width="1592" height="2" fill="#ff0000"/><rect x="1" y="389" width="1592" height="2" fill="#ff0000"/><rect x="1" y="421" width="1592" height="2" fill="#00ff00"/><rect x="1" y="465" width="1592" height="2" fill="#0000ff"/><rect x="1" y="503" width="1592" height="2" fill="#0000ff"/></g><rect x="0" y="501" width="6" height="6" fill="#0000ff"/><rect x="2" y="503" width="2" height="2" fill="#ffffff"/><rect x="1587" y="501" width="6" height="6" fill="#0000ff"/><rect x="1589" y="503" width="2" height="2" fill="#ffffff"/><g clip-path="url(#clipRSI)"><line x1="1" y1="560.5" x2="1593" y2="560.5" stroke="#c0c0c0" stroke-dasharray="3 3" stroke-dashoffset="-1"/><line x1="1" y1="596.5" x2="1593" y2="596.5" stroke="#c0c0c0" stroke-dasharray="3 3" stroke-dashoffset="-1"/><path d="M661 545h1v1h-1zM644 546h2v1h-2zM660 546h1v1h-1zM662 546h1v1h-1zM642 547h2v1h-2zM645 547h1v1h-1zM659 547h1v1h-1zM663 547h1v1h-1zM633 548h1v1h-1zM641 548h1v1h-1zM646 548h1v1h-1zM658 548h1v1h-1zM664 548h1v1h-1zM633 549h2v1h-2zM639 549h2v1h-2zM646 549h1v1h-1zM657 549h1v1h-1zM665 549h1v1h-1zM632 550h1v1h-1zM635 550h2v1h-2zM638 550h1v1h-1zM647 550h1v1h-1zM656 550h1v1h-1zM666 550h1v1h-1zM632 551h1v1h-1zM637 551h1v1h-1zM647 551h1v1h-1zM655 551h1v1h-1zM666 551h1v1h-1zM631 552h1v1h-1zM647 552h1v1h-1zM654 552h1v1h-1zM667 552h1v1h-1zM676 552h2v1h-2zM532 553h2v1h-2zM631 553h1v1h-1zM648 553h1v1h-1zM653 553h1v1h-1zM668 553h1v1h-1zM674 553h2v1h-2zM678 553h1v1h-1zM516 554h11v1h-11zM530 554h2v1h-2zM533 554h1v1h-1zM597 554h1v1h-1zM630 554h1v1h-1zM648 554h1v1h-1zM651 554h2v1h-2zM668 554h1v1h-1zM671 554h3v1h-3zM679 554h2v1h-2zM514 555h2v1h-2zM527 555h3v1h-3zM534 555h1v1h-1zM596 555h1v1h-1zM598 555h1v1h-1zM630 555h1v1h-1zM649 555h2v1h-2zM669 555h2v1h-2zM681 555h1v1h-1zM511 556h3v1h-3zM534 556h1v1h-1zM595 556h1v1h-1zM599 556h1v1h-1zM629 556h1v1h-1zM649 556h1v1h-1zM682 556h1v1h-1zM509 557h2v1h-2zM535 557h1v1h-1zM595 557h1v1h-1zM599 557h1v1h-1zM629 557h1v1h-1zM682 557h1v1h-1zM507 558h2v1h-2zM535 558h1v1h-1zM594 558h1v1h-1zM600 558h1v1h-1zM628 558h1v1h-1zM683 558h1v1h-1zM506 559h1v1h-1zM535 559h1v1h-1zM593 559h1v1h-1zM601 559h1v1h-1zM628 559h1v1h-1zM683 559h1v1h-1zM503 560h3v1h-3zM536 560h1v1h-1zM592 560h1v1h-1zM602 560h1v1h-1zM627 560h1v1h-1zM684 560h1v1h-1zM496 561h7v1h-7zM536 561h1v1h-1zM592 561h1v1h-1zM603 561h2v1h-2zM627 561h1v1h-1zM684 561h1v1h-1zM494 562h2v1h-2zM537 562h1v1h-1zM591 562h1v1h-1zM605 562h1v1h-1zM620 562h2v1h-2zM626 562h1v1h-1zM685 562h1v1h-1zM492 563h2v1h-2zM537 563h1v1h-1zM591 563h1v1h-1zM605 563h1v1h-1zM618 563h2v1h-2zM622 563h2v1h-2zM626 563h1v1h-1zM685 563h1v1h-1zM268 564h2v1h-2zM490 564h2v1h-2zM538 564h1v1h-1zM590 564h1v1h-1zM606 564h1v1h-1zM613 564h5v1h-5zM624 564h2v1h-2zM685 564h1v1h-1zM253 565h1v1h-1zM266 565h2v1h-2zM270 565h1v1h-1zM487 565h3v1h-3zM539 565h1v1h-1zM590 565h1v1h-1zM606 565h1v1h-1zM612 565h1v1h-1zM686 565h1v1h-1zM231 566h3v1h-3zM253 566h2v1h-2zM263 566h3v1h-3zM271 566h1v1h-1zM485 566h2v1h-2zM539 566h1v1h-1zM587 566h3v1h-3zM607 566h1v1h-1zM612 566h1v1h-1zM686 566h1v1h-1zM228 567h3v1h-3zM234 567h1v1h-1zM252 567h1v1h-1zM255 567h1v1h-1zM260 567h3v1h-3zM272 567h1v1h-1zM484 567h1v1h-1zM540 567h1v1h-1zM585 567h2v1h-2zM607 567h1v1h-1zM611 567h1v1h-1zM686 567h1v1h-1zM88 568h6v1h-6zM226 568h2v1h-2zM234 568h1v1h-1zM252 568h1v1h-1zM256 568h1v1h-1zM258 568h2v1h-2zM273 568h1v1h-1zM473 568h1v1h-1zM483 568h1v1h-1zM541 568h1v1h-1zM583 568h2v1h-2zM608 568h1v1h-1zM611 568h1v1h-1zM687 568h1v1h-1zM86 569h2v1h-2zM94 569h2v1h-2zM105 569h1v1h-1zM215 569h3v1h-3zM224 569h2v1h-2zM235 569h1v1h-1zM251 569h1v1h-1zM257 569h1v1h-1zM274 569h1v1h-1zM280 569h2v1h-2zM292 569h2v1h-2zM471 569h2v1h-2zM474 569h1v1h-1zM482 569h1v1h-1zM542 569h1v1h-1zM548 569h2v1h-2zM582 569h1v1h-1zM608 569h1v1h-1zM610 569h1v1h-1zM687 569h1v1h-1zM85 570h1v1h-1zM96 570h2v1h-2zM104 570h1v1h-1zM106 570h2v1h-2zM213 570h2v1h-2zM218 570h2v1h-2zM222 570h2v1h-2zM235 570h1v1h-1zM251 570h1v1h-1zM275 570h2v1h-2zM278 570h2v1h-2zM282 570h1v1h-1zM290 570h2v1h-2zM294 570h2v1h-2zM470 570h1v1h-1zM475 570h2v1h-2zM479 570h3v1h-3zM543 570h2v1h-2zM546 570h2v1h-2zM550 570h1v1h-1zM581 570h1v1h-1zM609 570h2v1h-2zM687 570h1v1h-1zM709 570h1v1h-1zM777 570h1v1h-1zM85 571h1v1h-1zM98 571h1v1h-1zM103 571h1v1h-1zM108 571h2v1h-2zM213 571h1v1h-1zM220 571h2v1h-2zM236 571h1v1h-1zM240 571h2v1h-2zM250 571h1v1h-1zM277 571h1v1h-1zM283 571h2v1h-2zM287 571h3v1h-3zM296 571h2v1h-2zM469 571h1v1h-1zM477 571h2v1h-2zM545 571h1v1h-1zM551 571h1v1h-1zM581 571h1v1h-1zM609 571h1v1h-1zM688 571h1v1h-1zM701 571h1v1h-1zM707 571h2v1h-2zM710 571h1v1h-1zM776 571h1v1h-1zM778 571h1v1h-1zM84 572h1v1h-1zM99 572h2v1h-2zM102 572h1v1h-1zM109 572h1v1h-1zM212 572h1v1h-1zM236 572h1v1h-1zM238 572h2v1h-2zM242 572h1v1h-1zM250 572h1v1h-1zM285 572h2v1h-2zM297 572h1v1h-1zM469 572h1v1h-1zM551 572h1v1h-1zM561 572h1v1h-1zM580 572h1v1h-1zM688 572h1v1h-1zM700 572h1v1h-1zM702 572h2v1h-2zM706 572h1v1h-1zM711 572h1v1h-1zM760 572h2v1h-2zM776 572h1v1h-1zM779 572h1v1h-1zM84 573h1v1h-1zM101 573h1v1h-1zM110 573h1v1h-1zM212 573h1v1h-1zM237 573h1v1h-1zM243 573h1v1h-1zM248 573h2v1h-2zM298 573h1v1h-1zM468 573h1v1h-1zM552 573h1v1h-1zM559 573h2v1h-2zM562 573h1v1h-1zM580 573h1v1h-1zM688 573h1v1h-1zM700 573h1v1h-1zM704 573h2v1h-2zM712 573h1v1h-1zM719 573h4v1h-4zM758 573h2v1h-2zM762 573h1v1h-1zM775 573h1v1h-1zM779 573h1v1h-1zM829 573h1v1h-1zM23 574h3v1h-3zM37 574h1v1h-1zM61 574h1v1h-1zM84 574h1v1h-1zM110 574h1v1h-1zM211 574h1v1h-1zM244 574h1v1h-1zM246 574h2v1h-2zM298 574h1v1h-1zM468 574h1v1h-1zM553 574h2v1h-2zM558 574h1v1h-1zM563 574h2v1h-2zM580 574h1v1h-1zM689 574h1v1h-1zM691 574h3v1h-3zM699 574h1v1h-1zM713 574h6v1h-6zM723 574h3v1h-3zM757 574h1v1h-1zM762 574h1v1h-1zM774 574h1v1h-1zM780 574h1v1h-1zM828 574h1v1h-1zM830 574h1v1h-1zM863 574h3v1h-3zM1004 574h2v1h-2zM21 575h2v1h-2zM26 575h1v1h-1zM36 575h1v1h-1zM38 575h1v1h-1zM47 575h7v1h-7zM60 575h1v1h-1zM62 575h2v1h-2zM83 575h1v1h-1zM111 575h1v1h-1zM181 575h1v1h-1zM205 575h1v1h-1zM211 575h1v1h-1zM245 575h1v1h-1zM299 575h1v1h-1zM309 575h1v1h-1zM467 575h1v1h-1zM555 575h3v1h-3zM565 575h1v1h-1zM579 575h1v1h-1zM689 575h2v1h-2zM694 575h1v1h-1zM698 575h1v1h-1zM726 575h1v1h-1zM757 575h1v1h-1zM763 575h1v1h-1zM774 575h1v1h-1zM781 575h1v1h-1zM789 575h5v1h-5zM813 575h2v1h-2zM828 575h1v1h-1zM830 575h1v1h-1zM853 575h2v1h-2zM859 575h4v1h-4zM866 575h1v1h-1zM1002 575h2v1h-2zM1006 575h1v1h-1zM1012 575h2v1h-2zM21 576h1v1h-1zM27 576h1v1h-1zM35 576h1v1h-1zM39 576h2v1h-2zM43 576h4v1h-4zM54 576h1v1h-1zM59 576h1v1h-1zM64 576h2v1h-2zM83 576h1v1h-1zM111 576h1v1h-1zM181 576h2v1h-2zM203 576h2v1h-2zM206 576h1v1h-1zM210 576h1v1h-1zM299 576h1v1h-1zM309 576h3v1h-3zM467 576h1v1h-1zM566 576h2v1h-2zM579 576h1v1h-1zM695 576h2v1h-2zM698 576h1v1h-1zM726 576h1v1h-1zM756 576h1v1h-1zM764 576h1v1h-1zM772 576h2v1h-2zM782 576h1v1h-1zM787 576h2v1h-2zM794 576h1v1h-1zM813 576h1v1h-1zM815 576h7v1h-7zM827 576h1v1h-1zM831 576h1v1h-1zM852 576h1v1h-1zM855 576h4v1h-4zM866 576h1v1h-1zM1001 576h1v1h-1zM1007 576h2v1h-2zM1010 576h2v1h-2zM1014 576h1v1h-1zM1257 576h1v1h-1zM20 577h1v1h-1zM27 577h1v1h-1zM34 577h1v1h-1zM41 577h2v1h-2zM55 577h2v1h-2zM58 577h1v1h-1zM66 577h1v1h-1zM83 577h1v1h-1zM112 577h1v1h-1zM181 577h1v1h-1zM183 577h1v1h-1zM202 577h1v1h-1zM207 577h2v1h-2zM210 577h1v1h-1zM299 577h1v1h-1zM308 577h1v1h-1zM312 577h2v1h-2zM425 577h1v1h-1zM466 577h1v1h-1zM568 577h3v1h-3zM578 577h1v1h-1zM697 577h1v1h-1zM727 577h1v1h-1zM756 577h1v1h-1zM764 577h1v1h-1zM770 577h2v1h-2zM783 577h2v1h-2zM786 577h1v1h-1zM795 577h2v1h-2zM812 577h1v1h-1zM822 577h1v1h-1zM826 577h1v1h-1zM831 577h1v1h-1zM845 577h1v1h-1zM851 577h1v1h-1zM867 577h1v1h-1zM1000 577h1v1h-1zM1009 577h1v1h-1zM1015 577h1v1h-1zM1257 577h2v1h-2zM20 578h1v1h-1zM28 578h1v1h-1zM31 578h3v1h-3zM57 578h1v1h-1zM67 578h2v1h-2zM82 578h1v1h-1zM112 578h1v1h-1zM180 578h1v1h-1zM183 578h1v1h-1zM200 578h2v1h-2zM209 578h1v1h-1zM300 578h1v1h-1zM308 578h1v1h-1zM314 578h2v1h-2zM425 578h2v1h-2zM466 578h1v1h-1zM571 578h3v1h-3zM578 578h1v1h-1zM728 578h1v1h-1zM732 578h2v1h-2zM755 578h1v1h-1zM765 578h5v1h-5zM785 578h1v1h-1zM797 578h1v1h-1zM812 578h1v1h-1zM823 578h2v1h-2zM826 578h1v1h-1zM832 578h1v1h-1zM844 578h1v1h-1zM846 578h2v1h-2zM850 578h1v1h-1zM867 578h1v1h-1zM885 578h2v1h-2zM999 578h1v1h-1zM1015 578h1v1h-1zM1065 578h1v1h-1zM1256 578h1v1h-1zM1259 578h1v1h-1zM19 579h1v1h-1zM29 579h2v1h-2zM69 579h1v1h-1zM82 579h1v1h-1zM113 579h1v1h-1zM180 579h1v1h-1zM184 579h1v1h-1zM198 579h2v1h-2zM300 579h1v1h-1zM308 579h1v1h-1zM316 579h6v1h-6zM424 579h1v1h-1zM426 579h1v1h-1zM456 579h2v1h-2zM465 579h1v1h-1zM574 579h1v1h-1zM578 579h1v1h-1zM728 579h1v1h-1zM730 579h2v1h-2zM734 579h2v1h-2zM755 579h1v1h-1zM798 579h1v1h-1zM811 579h1v1h-1zM825 579h1v1h-1zM832 579h1v1h-1zM843 579h1v1h-1zM848 579h2v1h-2zM868 579h1v1h-1zM883 579h2v1h-2zM887 579h4v1h-4zM998 579h1v1h-1zM1016 579h1v1h-1zM1052 579h3v1h-3zM1063 579h2v1h-2zM1066 579h1v1h-1zM1079 579h3v1h-3zM1256 579h1v1h-1zM1260 579h1v1h-1zM19 580h1v1h-1zM70 580h2v1h-2zM75 580h3v1h-3zM82 580h1v1h-1zM113 580h1v1h-1zM180 580h1v1h-1zM185 580h13v1h-13zM301 580h1v1h-1zM307 580h1v1h-1zM322 580h1v1h-1zM424 580h1v1h-1zM427 580h1v1h-1zM440 580h2v1h-2zM454 580h2v1h-2zM458 580h2v1h-2zM463 580h3v1h-3zM575 580h3v1h-3zM729 580h1v1h-1zM736 580h7v1h-7zM754 580h1v1h-1zM799 580h2v1h-2zM811 580h1v1h-1zM833 580h1v1h-1zM843 580h1v1h-1zM868 580h1v1h-1zM882 580h1v1h-1zM891 580h3v1h-3zM997 580h1v1h-1zM1017 580h1v1h-1zM1041 580h1v1h-1zM1050 580h2v1h-2zM1055 580h4v1h-4zM1062 580h1v1h-1zM1066 580h1v1h-1zM1077 580h2v1h-2zM1082 580h1v1h-1zM1256 580h1v1h-1zM1261 580h5v1h-5zM18 581h1v1h-1zM72 581h3v1h-3zM78 581h2v1h-2zM81 581h1v1h-1zM113 581h1v1h-1zM180 581h1v1h-1zM301 581h1v1h-1zM307 581h1v1h-1zM323 581h2v1h-2zM423 581h1v1h-1zM428 581h1v1h-1zM432 581h3v1h-3zM438 581h2v1h-2zM442 581h2v1h-2zM451 581h3v1h-3zM460 581h3v1h-3zM577 581h1v1h-1zM743 581h7v1h-7zM754 581h1v1h-1zM801 581h1v1h-1zM810 581h1v1h-1zM833 581h1v1h-1zM842 581h1v1h-1zM869 581h1v1h-1zM880 581h2v1h-2zM894 581h1v1h-1zM960 581h6v1h-6zM979 581h7v1h-7zM996 581h1v1h-1zM1018 581h2v1h-2zM1023 581h4v1h-4zM1040 581h1v1h-1zM1042 581h1v1h-1zM1049 581h1v1h-1zM1059 581h3v1h-3zM1067 581h1v1h-1zM1075 581h2v1h-2zM1083 581h1v1h-1zM1149 581h2v1h-2zM1255 581h1v1h-1zM18 582h1v1h-1zM80 582h2v1h-2zM114 582h1v1h-1zM125 582h1v1h-1zM179 582h1v1h-1zM302 582h1v1h-1zM307 582h1v1h-1zM325 582h1v1h-1zM360 582h6v1h-6zM423 582h1v1h-1zM428 582h1v1h-1zM430 582h2v1h-2zM435 582h3v1h-3zM444 582h7v1h-7zM750 582h2v1h-2zM753 582h1v1h-1zM802 582h2v1h-2zM810 582h1v1h-1zM834 582h1v1h-1zM840 582h2v1h-2zM869 582h1v1h-1zM878 582h2v1h-2zM894 582h1v1h-1zM958 582h2v1h-2zM966 582h1v1h-1zM976 582h3v1h-3zM986 582h1v1h-1zM996 582h1v1h-1zM1020 582h3v1h-3zM1027 582h4v1h-4zM1039 582h1v1h-1zM1043 582h1v1h-1zM1047 582h2v1h-2zM1067 582h1v1h-1zM1074 582h1v1h-1zM1083 582h1v1h-1zM1149 582h1v1h-1zM1151 582h3v1h-3zM1255 582h1v1h-1zM15 583h3v1h-3zM114 583h1v1h-1zM124 583h1v1h-1zM126 583h1v1h-1zM179 583h1v1h-1zM302 583h1v1h-1zM307 583h1v1h-1zM326 583h1v1h-1zM332 583h2v1h-2zM358 583h2v1h-2zM366 583h1v1h-1zM372 583h2v1h-2zM422 583h1v1h-1zM429 583h1v1h-1zM752 583h2v1h-2zM804 583h3v1h-3zM809 583h1v1h-1zM835 583h2v1h-2zM838 583h2v1h-2zM870 583h1v1h-1zM877 583h1v1h-1zM895 583h1v1h-1zM955 583h3v1h-3zM967 583h2v1h-2zM974 583h2v1h-2zM987 583h1v1h-1zM995 583h1v1h-1zM1031 583h4v1h-4zM1038 583h1v1h-1zM1044 583h1v1h-1zM1046 583h1v1h-1zM1068 583h1v1h-1zM1072 583h2v1h-2zM1084 583h1v1h-1zM1121 583h1v1h-1zM1148 583h1v1h-1zM1154 583h2v1h-2zM1254 583h1v1h-1zM13 584h2v1h-2zM115 584h1v1h-1zM124 584h1v1h-1zM127 584h1v1h-1zM179 584h1v1h-1zM303 584h1v1h-1zM306 584h1v1h-1zM327 584h2v1h-2zM330 584h2v1h-2zM334 584h1v1h-1zM357 584h1v1h-1zM367 584h2v1h-2zM370 584h2v1h-2zM374 584h1v1h-1zM422 584h1v1h-1zM807 584h3v1h-3zM837 584h1v1h-1zM871 584h1v1h-1zM875 584h2v1h-2zM895 584h1v1h-1zM953 584h2v1h-2zM969 584h5v1h-5zM988 584h1v1h-1zM995 584h1v1h-1zM1035 584h3v1h-3zM1045 584h1v1h-1zM1068 584h1v1h-1zM1070 584h2v1h-2zM1085 584h1v1h-1zM1121 584h2v1h-2zM1133 584h1v1h-1zM1148 584h1v1h-1zM1156 584h2v1h-2zM1241 584h1v1h-1zM1254 584h1v1h-1zM12 585h1v1h-1zM115 585h1v1h-1zM123 585h1v1h-1zM128 585h1v1h-1zM179 585h1v1h-1zM303 585h1v1h-1zM306 585h1v1h-1zM329 585h1v1h-1zM335 585h2v1h-2zM356 585h1v1h-1zM369 585h1v1h-1zM374 585h1v1h-1zM421 585h1v1h-1zM872 585h1v1h-1zM874 585h1v1h-1zM896 585h1v1h-1zM953 585h1v1h-1zM989 585h1v1h-1zM994 585h1v1h-1zM1069 585h1v1h-1zM1086 585h1v1h-1zM1120 585h1v1h-1zM1123 585h1v1h-1zM1131 585h2v1h-2zM1134 585h1v1h-1zM1147 585h1v1h-1zM1158 585h1v1h-1zM1241 585h2v1h-2zM1254 585h1v1h-1zM11 586h1v1h-1zM115 586h1v1h-1zM123 586h1v1h-1zM129 586h5v1h-5zM178 586h1v1h-1zM304 586h1v1h-1zM306 586h1v1h-1zM337 586h1v1h-1zM355 586h1v1h-1zM375 586h1v1h-1zM419 586h2v1h-2zM873 586h1v1h-1zM896 586h1v1h-1zM909 586h1v1h-1zM952 586h1v1h-1zM990 586h2v1h-2zM994 586h1v1h-1zM1086 586h1v1h-1zM1120 586h1v1h-1zM1123 586h1v1h-1zM1130 586h1v1h-1zM1135 586h2v1h-2zM1147 586h1v1h-1zM1159 586h1v1h-1zM1205 586h1v1h-1zM1240 586h1v1h-1zM1243 586h1v1h-1zM1253 586h1v1h-1zM11 587h1v1h-1zM116 587h1v1h-1zM122 587h1v1h-1zM134 587h1v1h-1zM178 587h1v1h-1zM304 587h2v1h-2zM338 587h1v1h-1zM355 587h1v1h-1zM376 587h1v1h-1zM418 587h1v1h-1zM897 587h2v1h-2zM908 587h1v1h-1zM910 587h2v1h-2zM952 587h1v1h-1zM992 587h2v1h-2zM1087 587h1v1h-1zM1101 587h2v1h-2zM1119 587h1v1h-1zM1124 587h1v1h-1zM1127 587h3v1h-3zM1137 587h1v1h-1zM1146 587h1v1h-1zM1160 587h1v1h-1zM1204 587h1v1h-1zM1206 587h2v1h-2zM1240 587h1v1h-1zM1244 587h1v1h-1zM1253 587h1v1h-1zM10 588h1v1h-1zM116 588h1v1h-1zM122 588h1v1h-1zM135 588h1v1h-1zM178 588h1v1h-1zM305 588h1v1h-1zM339 588h2v1h-2zM343 588h3v1h-3zM354 588h1v1h-1zM376 588h1v1h-1zM417 588h1v1h-1zM899 588h3v1h-3zM907 588h1v1h-1zM912 588h2v1h-2zM952 588h1v1h-1zM1088 588h1v1h-1zM1100 588h1v1h-1zM1103 588h3v1h-3zM1119 588h1v1h-1zM1125 588h2v1h-2zM1138 588h1v1h-1zM1146 588h1v1h-1zM1161 588h1v1h-1zM1173 588h5v1h-5zM1203 588h1v1h-1zM1208 588h2v1h-2zM1239 588h1v1h-1zM1245 588h1v1h-1zM1252 588h1v1h-1zM9 589h1v1h-1zM117 589h1v1h-1zM119 589h3v1h-3zM136 589h1v1h-1zM178 589h1v1h-1zM341 589h2v1h-2zM346 589h1v1h-1zM353 589h1v1h-1zM377 589h1v1h-1zM417 589h1v1h-1zM902 589h2v1h-2zM906 589h1v1h-1zM914 589h1v1h-1zM951 589h1v1h-1zM1088 589h1v1h-1zM1100 589h1v1h-1zM1106 589h2v1h-2zM1118 589h1v1h-1zM1138 589h1v1h-1zM1145 589h1v1h-1zM1162 589h2v1h-2zM1172 589h1v1h-1zM1178 589h1v1h-1zM1197 589h2v1h-2zM1202 589h1v1h-1zM1210 589h1v1h-1zM1239 589h1v1h-1zM1246 589h1v1h-1zM1251 589h1v1h-1zM1 590h1v1h-1zM8 590h1v1h-1zM117 590h2v1h-2zM137 590h1v1h-1zM177 590h1v1h-1zM347 590h1v1h-1zM351 590h2v1h-2zM378 590h1v1h-1zM416 590h1v1h-1zM904 590h2v1h-2zM914 590h1v1h-1zM951 590h1v1h-1zM1089 590h1v1h-1zM1099 590h1v1h-1zM1108 590h3v1h-3zM1118 590h1v1h-1zM1139 590h1v1h-1zM1145 590h1v1h-1zM1164 590h2v1h-2zM1171 590h1v1h-1zM1179 590h2v1h-2zM1195 590h2v1h-2zM1199 590h3v1h-3zM1211 590h1v1h-1zM1239 590h1v1h-1zM1247 590h2v1h-2zM1250 590h1v1h-1zM2 591h1v1h-1zM7 591h1v1h-1zM138 591h2v1h-2zM177 591h1v1h-1zM348 591h1v1h-1zM350 591h1v1h-1zM379 591h2v1h-2zM416 591h1v1h-1zM915 591h1v1h-1zM951 591h1v1h-1zM1090 591h2v1h-2zM1099 591h1v1h-1zM1111 591h7v1h-7zM1139 591h1v1h-1zM1144 591h1v1h-1zM1166 591h2v1h-2zM1170 591h1v1h-1zM1181 591h2v1h-2zM1194 591h1v1h-1zM1212 591h1v1h-1zM1238 591h1v1h-1zM1249 591h1v1h-1zM3 592h2v1h-2zM6 592h1v1h-1zM140 592h3v1h-3zM177 592h1v1h-1zM349 592h1v1h-1zM381 592h1v1h-1zM415 592h1v1h-1zM915 592h1v1h-1zM951 592h1v1h-1zM1092 592h2v1h-2zM1098 592h1v1h-1zM1140 592h1v1h-1zM1143 592h1v1h-1zM1168 592h2v1h-2zM1183 592h4v1h-4zM1191 592h3v1h-3zM1213 592h1v1h-1zM1238 592h1v1h-1zM5 593h1v1h-1zM143 593h3v1h-3zM175 593h2v1h-2zM382 593h2v1h-2zM415 593h1v1h-1zM916 593h1v1h-1zM950 593h1v1h-1zM1094 593h2v1h-2zM1098 593h1v1h-1zM1140 593h1v1h-1zM1142 593h1v1h-1zM1187 593h4v1h-4zM1214 593h2v1h-2zM1237 593h1v1h-1zM146 594h2v1h-2zM156 594h2v1h-2zM174 594h1v1h-1zM384 594h3v1h-3zM414 594h1v1h-1zM916 594h1v1h-1zM950 594h1v1h-1zM1096 594h2v1h-2zM1141 594h1v1h-1zM1216 594h7v1h-7zM1237 594h1v1h-1zM148 595h3v1h-3zM154 595h2v1h-2zM158 595h2v1h-2zM171 595h3v1h-3zM387 595h3v1h-3zM407 595h4v1h-4zM414 595h1v1h-1zM917 595h1v1h-1zM929 595h1v1h-1zM945 595h1v1h-1zM950 595h1v1h-1zM1223 595h3v1h-3zM1235 595h2v1h-2zM151 596h3v1h-3zM160 596h3v1h-3zM167 596h4v1h-4zM390 596h1v1h-1zM405 596h2v1h-2zM411 596h3v1h-3zM918 596h2v1h-2zM927 596h2v1h-2zM930 596h1v1h-1zM944 596h1v1h-1zM946 596h2v1h-2zM949 596h1v1h-1zM1226 596h1v1h-1zM1234 596h1v1h-1zM163 597h4v1h-4zM390 597h1v1h-1zM397 597h1v1h-1zM403 597h2v1h-2zM920 597h3v1h-3zM926 597h1v1h-1zM931 597h2v1h-2zM943 597h1v1h-1zM948 597h2v1h-2zM1227 597h1v1h-1zM1232 597h2v1h-2zM391 598h1v1h-1zM396 598h1v1h-1zM398 598h2v1h-2zM402 598h1v1h-1zM923 598h3v1h-3zM933 598h6v1h-6zM942 598h1v1h-1zM1228 598h1v1h-1zM1230 598h2v1h-2zM391 599h1v1h-1zM395 599h1v1h-1zM400 599h2v1h-2zM939 599h3v1h-3zM1229 599h1v1h-1zM392 600h1v1h-1zM395 600h1v1h-1zM392 601h1v1h-1zM394 601h1v1h-1zM393 602h1v1h-1z" fill="#1e90ff"/></g><g clip-path="url(#clipMACD)"><rect x="1" y="686" width="1" height="2" fill="#c0c0c0"/><rect x="5" y="686" width="1" height="3" fill="#c0c0c0"/><rect x="9" y="686" width="1" height="4" fill="#c0c0c0"/><rect x="13" y="686" width="1" height="4" fill="#c0c0c0"/><rect x="17" y="686" width="1" height="4" fill="#c0c0c0"/><rect x="21" y="686" width="1" height="3" fill="#c0c0c0"/><rect x="25" y="686" width="1" height="2" fill="#c0c0c0"/><rect x="29" y="686" width="1" height="2" fill="#c0c0c0"/><rect x="33" y="686" width="1" height="2" fill="#c0c0c0"/><rect x="37" y="686" width="1" height="1" fill="#c0c0c0"/><rect x="41" y="686" width="1" height="1" fill="#c0c0c0"/><rect x="45" y="686" width="1" height="1" fill="#c0c0c0"/><rect x="49" y="685" width="1" height="2" fill="#c0c0c0"/><rect x="53" y="685" width="1" height="2" fill="#c0c0c0"/><rect x="57" y="685" width="1" height="2" fill="#c0c0c0"/><rect x="61" y="685" width="1" height="2" fill="#c0c0c0"/><rect x="65" y="685" width="1" height="2" fill="#c0c0c0"/><rect x="69" y="685" width="1" height="2" fill="#c0c0c0"/><rect x="73" y="685" width="1" height="2" fill="#c0c0c0"/><rect x="77" y="686" width="1" height="1" fill="#c0c0c0"/><rect x="81" y="686" width="1" height="1" fill="#c0c0c0"/><rect x="85" y="685" width="1" height="2" fill="#c0c0c0"/><rect x="89" y="684" width="1" height="3" fill="#c0c0c0"/><rect x="93" y="684" width="1" height="3" fill="#c0c0c0"/><rect x="97" y="683" width="1" height="4" fill="#c0c0c0"/><rect x="101" y="683" width="1" height="4" fill="#c0c0c0"/><rect x="105" y="683" width="1" height="4" fill="#c0c0c0"/><rect x="109" y="683" width="1" height="4" fill="#c0c0c0"/><rect x="113" y="683" width="1" height="4" fill="#c0c0c0"/><rect x="117" y="685" width="1" height="2" fill="#c0c0c0"/><rect x="121" y="686" width="1" height="1" fill="#c0c0c0"/><rect x="125" y="686" width="1" height="2" fill="#c0c0c0"/><rect x="129" y="686" width="1" height="3" fill="#c0c0c0"/><rect x="133" y="686" width="1" height="3" fill="#c0c0c0"/><rect x="137" y="686" width="1" height="4" fill="#c0c0c0"/><rect x="141" y="686" width="1" height="6" fill="#c0c0c0"/><rect x="145" y="686" width="1" height="6" fill="#c0c0c0"/><rect x="149" y="686" width="1" height="7" fill="#c0c0c0"/><rect x="153" y="686" width="1" height="8" fill="#c0c0c0"/><rect x="157" y="686" width="1" height="9" fill="#c0c0c0"/><rect x="161" y="686" width="1" height="9" fill="#c0c0c0"/><rect x="165" y="686" width="1" height="10" fill="#c0c0c0"/><rect x="169" y="686" width="1" height="10" fill="#c0c0c0"/><rect x="173" y="686" width="1" height="10" fill="#c0c0c0"/><rect x="177" y="686" width="1" height="10" fill="#c0c0c0"/><rect x="181" y="686" width="1" height="8" fill="#c0c0c0"/><rect x="185" y="686" width="1" height="7" fill="#c0c0c0"/><rect x="189" y="686" width="1" height="7" fill="#c0c0c0"/><rect x="193" y="686" width="1" height="6" fill="#c0c0c0"/><rect x="197" y="686" width="1" height="5" fill="#c0c0c0"/><rect x="201" y="686" width="1" height="5" fill="#c0c0c0"/><rect x="205" y="686" width="1" height="4" fill="#c0c0c0"/><rect x="209" y="686" width="1" height="3" fill="#c0c0c0"/><rect x="213" y="686" width="1" height="2" fill="#c0c0c0"/><rect x="217" y="686" width="1" height="1" fill="#c0c0c0"/><rect x="221" y="685" width="1" height="2" fill="#c0c0c0"/><rect x="225" y="685" width="1" height="2" fill="#c0c0c0"/><rect x="229" y="684" width="1" height="3" fill="#c0c0c0"/><rect x="233" y="683" width="1" height="4" fill="#c0c0c0"/><rect x="237" y="683" width="1" height="4" fill="#c0c0c0"/><rect x="241" y="683" width="1" height="4" fill="#c0c0c0"/><rect x="245" y="683" width="1" height="4" fill="#c0c0c0"/><rect x="249" y="683" width="1" height="4" fill="#c0c0c0"/><rect x="253" y="682" width="1" height="5" fill="#c0c0c0"/><rect x="257" y="682" width="1" height="5" fill="#c0c0c0"/><rect x="261" y="681" width="1" height="6" fill="#c0c0c0"/><rect x="265" y="681" width="1" height="6" fill="#c0c0c0"/><rect x="269" y="680" width="1" height="7" fill="#c0c0c0"/><rect x="273" y="680" width="1" height="7" fill="#c0c0c0"/><rect x="277" y="680" width="1" height="7" fill="#c0c0c0"/><rect x="281" y="681" width="1" height="6" fill="#c0c0c0"/><rect x="285" y="681" width="1" height="6" fill="#c0c0c0"/><rect x="289" y="681" width="1" height="6" fill="#c0c0c0"/><rect x="293" y="681" width="1" height="6" fill="#c0c0c0"/><rect x="297" y="681" width="1" height="6" fill="#c0c0c0"/><rect x="301" y="682" width="1" height="5" fill="#c0c0c0"/><rect x="305" y="684" width="1" height="3" fill="#c0c0c0"/><rect x="309" y="684" width="1" height="3" fill="#c0c0c0"/><rect x="313" y="684" width="1" height="3" fill="#c0c0c0"/><rect x="317" y="685" width="1" height="2" fill="#c0c0c0"/><rect x="321" y="685" width="1" height="2" fill="#c0c0c0"/><rect x="325" y="686" width="1" height="1" fill="#c0c0c0"/><rect x="329" y="686" width="1" height="1" fill="#c0c0c0"/><rect x="333" y="686" width="1" height="2" fill="#c0c0c0"/><rect x="337" y="686" width="1" height="2" fill="#c0c0c0"/><rect x="341" y="686" width="1" height="3" fill="#c0c0c0"/><rect x="345" y="686" width="1" height="4" fill="#c0c0c0"/><rect x="349" y="686" width="1" height="5" fill="#c0c0c0"/><rect x="353" y="686" width="1" height="6" fill="#c0c0c0"/><rect x="357" y="686" width="1" height="5" fill="#c0c0c0"/><rect x="361" y="686" width="1" height="5" fill="#c0c0c0"/><rect x="365" y="686" width="1" height="5" fill="#c0c0c0"/><rect x="369" y="686" width="1" height="5" fill="#c0c0c0"/><rect x="373" y="686" width="1" height="5" fill="#c0c0c0"/><rect x="377" y="686" width="1" height="5" fill="#c0c0c0"/><rect x="381" y="686" width="1" height="6" fill="#c0c0c0"/><rect x="385" y="686" width="1" height="7" fill="#c0c0c0"/><rect x="389" y="686" width="1" height="8" fill="#c0c0c0"/><rect x="393" y="686" width="1" height="9" fill="#c0c0c0"/><rect x="397" y="686" width="1" height="10" fill="#c0c0c0"/><rect x="401" y="686" width="1" height="11" fill="#c0c0c0"/><rect x="405" y="686" width="1" height="12" fill="#c0c0c0"/><rect x="409" y="686" width="1" height="12" fill="#c0c0c0"/><rect x="413" y="686" width="1" height="12" fill="#c0c0c0"/><rect x="417" y="686" width="1" height="11" fill="#c0c0c0"/><rect x="421" y="686" width="1" height="10" fill="#c0c0c0"/><rect x="425" y="686" width="1" height="9" fill="#c0c0c0"/><rect x="429" y="686" width="1" height="8" fill="#c0c0c0"/><rect x="433" y="686" width="1" height="7" fill="#c0c0c0"/><rect x="437" y="686" width="1" height="7" fill="#c0c0c0"/><rect x="441" y="686" width="1" height="6" fill="#c0c0c0"/><rect x="445" y="686" width="1" height="6" fill="#c0c0c0"/><rect x="449" y="686" width="1" height="5" fill="#c0c0c0"/><rect x="453" y="686" width="1" height="5" fill="#c0c0c0"/><rect x="457" y="686" width="1" height="4" fill="#c0c0c0"/><rect x="461" y="686" width="1" height="4" fill="#c0c0c0"/><rect x="465" y="686" width="1" height="4" fill="#c0c0c0"/><rect x="469" y="686" width="1" height="3" fill="#c0c0c0"/><rect x="473" y="686" width="1" height="1" fill="#c0c0c0"/><rect x="477" y="686" width="1" height="1" fill="#c0c0c0"/><rect x="481" y="685" width="1" height="2" fill="#c0c0c0"/><rect x="485" y="684" width="1" height="3" fill="#c0c0c0"/><rect x="489" y="683" width="1" height="4" fill="#c0c0c0"/><rect x="493" y="682" width="1" height="5" fill="#c0c0c0"/><rect x="497" y="681" width="1" height="6" fill="#c0c0c0"/><rect x="501" y="680" width="1" height="7" fill="#c0c0c0"/><rect x="505" y="680" width="1" height="7" fill="#c0c0c0"/><rect x="509" y="679" width="1" height="8" fill="#c0c0c0"/><rect x="513" y="678" width="1" height="9" fill="#c0c0c0"/><rect x="517" y="677" width="1" height="10" fill="#c0c0c0"/><rect x="521" y="677" width="1" height="10" fill="#c0c0c0"/><rect x="525" y="676" width="1" height="11" fill="#c0c0c0"/><rect x="529" y="676" width="1" height="11" fill="#c0c0c0"/><rect x="533" y="676" width="1" height="11" fill="#c0c0c0"/><rect x="537" y="676" width="1" height="11" fill="#c0c0c0"/><rect x="541" y="677" width="1" height="10" fill="#c0c0c0"/><rect x="545" y="678" width="1" height="9" fill="#c0c0c0"/><rect x="549" y="678" width="1" height="9" fill="#c0c0c0"/><rect x="553" y="679" width="1" height="8" fill="#c0c0c0"/><rect x="557" y="680" width="1" height="7" fill="#c0c0c0"/><rect x="561" y="681" width="1" height="6" fill="#c0c0c0"/><rect x="565" y="681" width="1" height="6" fill="#c0c0c0"/><rect x="569" y="682" width="1" height="5" fill="#c0c0c0"/><rect x="573" y="683" width="1" height="4" fill="#c0c0c0"/><rect x="577" y="683" width="1" height="4" fill="#c0c0c0"/><rect x="581" y="683" width="1" height="4" fill="#c0c0c0"/><rect x="585" y="683" width="1" height="4" fill="#c0c0c0"/><rect x="589" y="682" width="1" height="5" fill="#c0c0c0"/><rect x="593" y="681" width="1" height="6" fill="#c0c0c0"/><rect x="597" y="679" width="1" height="8" fill="#c0c0c0"/><rect x="601" y="678" width="1" height="9" fill="#c0c0c0"/><rect x="605" y="678" width="1" height="9" fill="#c0c0c0"/><rect x="609" y="678" width="1" height="9" fill="#c0c0c0"/><rect x="613" y="678" width="1" height="9" fill="#c0c0c0"/><rect x="617" y="678" width="1" height="9" fill="#c0c0c0"/><rect x="621" y="677" width="1" height="10" fill="#c0c0c0"/><rect x="625" y="677" width="1" height="10" fill="#c0c0c0"/><rect x="629" y="676" width="1" height="11" fill="#c0c0c0"/><rect x="633" y="671" width="1" height="16" fill="#c0c0c0"/><rect x="637" y="668" width="1" height="19" fill="#c0c0c0"/><rect x="641" y="664" width="1" height="23" fill="#c0c0c0"/><rect x="645" y="660" width="1" height="27" fill="#c0c0c0"/><rect x="649" y="658" width="1" height="29" fill="#c0c0c0"/><rect x="653" y="656" width="1" height="31" fill="#c0c0c0"/><rect x="657" y="651" width="1" height="36" fill="#c0c0c0"/><rect x="661" y="643" width="1" height="44" fill="#c0c0c0"/><rect x="665" y="639" width="1" height="48" fill="#c0c0c0"/><rect x="669" y="637" width="1" height="50" fill="#c0c0c0"/><rect x="673" y="635" width="1" height="52" fill="#c0c0c0"/><rect x="677" y="633" width="1" height="54" fill="#c0c0c0"/><rect x="681" y="632" width="1" height="55" fill="#c0c0c0"/><rect x="685" y="635" width="1" height="52" fill="#c0c0c0"/><rect x="689" y="641" width="1" height="46" fill="#c0c0c0"/><rect x="693" y="646" width="1" height="41" fill="#c0c0c0"/><rect x="697" y="652" width="1" height="35" fill="#c0c0c0"/><rect x="701" y="654" width="1" height="33" fill="#c0c0c0"/><rect x="705" y="657" width="1" height="30" fill="#c0c0c0"/><rect x="709" y="658" width="1" height="29" fill="#c0c0c0"/><rect x="713" y="661" width="1" height="26" fill="#c0c0c0"/><rect x="717" y="663" width="1" height="24" fill="#c0c0c0"/><rect x="721" y="665" width="1" height="22" fill="#c0c0c0"/><rect x="725" y="666" width="1" height="21" fill="#c0c0c0"/><rect x="729" y="670" width="1" height="17" fill="#c0c0c0"/><rect x="733" y="673" width="1" height="14" fill="#c0c0c0"/><rect x="737" y="676" width="1" height="11" fill="#c0c0c0"/><rect x="741" y="678" width="1" height="9" fill="#c0c0c0"/><rect x="745" y="681" width="1" height="6" fill="#c0c0c0"/><rect x="749" y="682" width="1" height="5" fill="#c0c0c0"/><rect x="753" y="685" width="1" height="2" fill="#c0c0c0"/><rect x="757" y="683" width="1" height="4" fill="#c0c0c0"/><rect x="761" y="682" width="1" height="5" fill="#c0c0c0"/><rect x="765" y="683" width="1" height="4" fill="#c0c0c0"/><rect x="769" y="683" width="1" height="4" fill="#c0c0c0"/><rect x="773" y="683" width="1" height="4" fill="#c0c0c0"/><rect x="777" y="681" width="1" height="6" fill="#c0c0c0"/><rect x="781" y="681" width="1" height="6" fill="#c0c0c0"/><rect x="785" y="682" width="1" height="5" fill="#c0c0c0"/><rect x="789" y="681" width="1" height="6" fill="#c0c0c0"/><rect x="793" y="681" width="1" height="6" fill="#c0c0c0"/><rect x="797" y="682" width="1" height="5" fill="#c0c0c0"/><rect x="801" y="684" width="1" height="3" fill="#c0c0c0"/><rect x="805" y="685" width="1" height="2" fill="#c0c0c0"/><rect x="809" y="686" width="1" height="2" fill="#c0c0c0"/><rect x="813" y="686" width="1" height="1" fill="#c0c0c0"/><rect x="817" y="686" width="1" height="1" fill="#c0c0c0"/><rect x="821" y="685" width="1" height="2" fill="#c0c0c0"/><rect x="825" y="685" width="1" height="2" fill="#c0c0c0"/><rect x="829" y="684" width="1" height="3" fill="#c0c0c0"/><rect x="833" y="686" width="1" height="1" fill="#c0c0c0"/><rect x="837" y="686" width="1" height="2" fill="#c0c0c0"/><rect x="841" y="686" width="1" height="4" fill="#c0c0c0"/><rect x="845" y="686" width="1" height="3" fill="#c0c0c0"/><rect x="849" y="686" width="1" height="3" fill="#c0c0c0"/><rect x="853" y="686" width="1" height="2" fill="#c0c0c0"/><rect x="857" y="686" width="1" height="1" fill="#c0c0c0"/><rect x="861" y="685" width="1" height="2" fill="#c0c0c0"/><rect x="865" y="684" width="1" height="3" fill="#c0c0c0"/><rect x="869" y="686" width="1" height="1" fill="#c0c0c0"/><rect x="873" y="686" width="1" height="3" fill="#c0c0c0"/><rect x="877" y="686" width="1" height="4" fill="#c0c0c0"/><rect x="881" y="686" width="1" height="5" fill="#c0c0c0"/><rect x="885" y="686" width="1" height="4" fill="#c0c0c0"/><rect x="889" y="686" width="1" height="4" fill="#c0c0c0"/><rect x="893" y="686" width="1" height="4" fill="#c0c0c0"/><rect x="897" y="686" width="1" height="6" fill="#c0c0c0"/><rect x="901" y="686" width="1" height="8" fill="#c0c0c0"/><rect x="905" y="686" width="1" height="10" fill="#c0c0c0"/><rect x="909" y="686" width="1" height="11" fill="#c0c0c0"/><rect x="913" y="686" width="1" height="12" fill="#c0c0c0"/><rect x="917" y="686" width="1" height="15" fill="#c0c0c0"/><rect x="921" y="686" width="1" height="18" fill="#c0c0c0"/><rect x="925" y="686" width="1" height="21" fill="#c0c0c0"/><rect x="929" y="686" width="1" height="23" fill="#c0c0c0"/><rect x="933" y="686" width="1" height="25" fill="#c0c0c0"/><rect x="937" y="686" width="1" height="26" fill="#c0c0c0"/><rect x="941" y="686" width="1" height="28" fill="#c0c0c0"/><rect x="945" y="686" width="1" height="28" fill="#c0c0c0"/><rect x="949" y="686" width="1" height="29" fill="#c0c0c0"/><rect x="953" y="686" width="1" height="26" fill="#c0c0c0"/><rect x="957" y="686" width="1" height="24" fill="#c0c0c0"/><rect x="961" y="686" width="1" height="21" fill="#c0c0c0"/><rect x="965" y="686" width="1" height="19" fill="#c0c0c0"/><rect x="969" y="686" width="1" height="17" fill="#c0c0c0"/><rect x="973" y="686" width="1" height="16" fill="#c0c0c0"/><rect x="977" y="686" width="1" height="15" fill="#c0c0c0"/><rect x="981" y="686" width="1" height="13" fill="#c0c0c0"/><rect x="985" y="686" width="1" height="12" fill="#c0c0c0"/><rect x="989" y="686" width="1" height="12" fill="#c0c0c0"/><rect x="993" y="686" width="1" height="12" fill="#c0c0c0"/><rect x="997" y="686" width="1" height="11" fill="#c0c0c0"/><rect x="1001" y="686" width="1" height="9" fill="#c0c0c0"/><rect x="1005" y="686" width="1" height="6" fill="#c0c0c0"/><rect x="1009" y="686" width="1" height="5" fill="#c0c0c0"/><rect x="1013" y="686" width="1" height="4" fill="#c0c0c0"/><rect x="1017" y="686" width="1" height="4" fill="#c0c0c0"/><rect x="1021" y="686" width="1" height="4" fill="#c0c0c0"/><rect x="1025" y="686" width="1" height="4" fill="#c0c0c0"/><rect x="1029" y="686" width="1" height="5" fill="#c0c0c0"/><rect x="1033" y="686" width="1" height="5" fill="#c0c0c0"/><rect x="1037" y="686" width="1" height="5" fill="#c0c0c0"/><rect x="1041" y="686" width="1" height="5" fill="#c0c0c0"/><rect x="1045" y="686" width="1" height="5" fill="#c0c0c0"/><rect x="1049" y="686" width="1" height="5" fill="#c0c0c0"/><rect x="1053" y="686" width="1" height="5" fill="#c0c0c0"/><rect x="1057" y="686" width="1" height="4" fill="#c0c0c0"/><rect x="1061" y="686" width="1" height="4" fill="#c0c0c0"/><rect x="1065" y="686" width="1" height="4" fill="#c0c0c0"/><rect x="1069" y="686" width="1" height="4" fill="#c0c0c0"/><rect x="1073" y="686" width="1" height="5" fill="#c0c0c0"/><rect x="1077" y="686" width="1" height="4" fill="#c0c0c0"/><rect x="1081" y="686" width="1" height="4" fill="#c0c0c0"/><rect x="1085" y="686" width="1" height="4" fill="#c0c0c0"/><rect x="1089" y="686" width="1" height="6" fill="#c0c0c0"/><rect x="1093" y="686" width="1" height="7" fill="#c0c0c0"/><rect x="1097" y="686" width="1" height="9" fill="#c0c0c0"/><rect x="1101" y="686" width="1" height="10" fill="#c0c0c0"/><rect x="1105" y="686" width="1" height="10" fill="#c0c0c0"/><rect x="1109" y="686" width="1" height="11" fill="#c0c0c0"/><rect x="1113" y="686" width="1" height="11" fill="#c0c0c0"/><rect x="1117" y="686" width="1" height="12" fill="#c0c0c0"/><rect x="1121" y="686" width="1" height="11" fill="#c0c0c0"/><rect x="1125" y="686" width="1" height="11" fill="#c0c0c0"/><rect x="1129" y="686" width="1" height="11" fill="#c0c0c0"/><rect x="1133" y="686" width="1" height="10" fill="#c0c0c0"/><rect x="1137" y="686" width="1" height="10" fill="#c0c0c0"/><rect x="1141" y="686" width="1" height="12" fill="#c0c0c0"/><rect x="1145" y="686" width="1" height="12" fill="#c0c0c0"/><rect x="1149" y="686" width="1" height="11" fill="#c0c0c0"/><rect x="1153" y="686" width="1" height="10" fill="#c0c0c0"/><rect x="1157" y="686" width="1" height="10" fill="#c0c0c0"/><rect x="1161" y="686" width="1" height="10" fill="#c0c0c0"/><rect x="1165" y="686" width="1" height="11" fill="#c0c0c0"/><rect x="1169" y="686" width="1" height="12" fill="#c0c0c0"/><rect x="1173" y="686" width="1" height="12" fill="#c0c0c0"/><rect x="1177" y="686" width="1" height="12" fill="#c0c0c0"/><rect x="1181" y="686" width="1" height="13" fill="#c0c0c0"/><rect x="1185" y="686" width="1" height="14" fill="#c0c0c0"/><rect x="1189" y="686" width="1" height="14" fill="#c0c0c0"/><rect x="1193" y="686" width="1" height="14" fill="#c0c0c0"/><rect x="1197" y="686" width="1" height="14" fill="#c0c0c0"/><rect x="1201" y="686" width="1" height="13" fill="#c0c0c0"/><rect x="1205" y="686" width="1" height="13" fill="#c0c0c0"/><rect x="1209" y="686" width="1" height="12" fill="#c0c0c0"/><rect x="1213" y="686" width="1" height="13" fill="#c0c0c0"/><rect x="1217" y="686" width="1" height="13" fill="#c0c0c0"/><rect x="1221" y="686" width="1" height="13" fill="#c0c0c0"/><rect x="1225" y="686" width="1" height="14" fill="#c0c0c0"/><rect x="1229" y="686" width="1" height="15" fill="#c0c0c0"/><rect x="1233" y="686" width="1" height="15" fill="#c0c0c0"/><rect x="1237" y="686" width="1" height="15" fill="#c0c0c0"/><rect x="1241" y="686" width="1" height="14" fill="#c0c0c0"/><rect x="1245" y="686" width="1" height="13" fill="#c0c0c0"/><rect x="1249" y="686" width="1" height="13" fill="#c0c0c0"/><rect x="1253" y="686" width="1" height="13" fill="#c0c0c0"/><rect x="1257" y="686" width="1" height="11" fill="#c0c0c0"/><rect x="1261" y="686" width="1" height="9" fill="#c0c0c0"/><rect x="1265" y="686" width="1" height="8" fill="#c0c0c0"/><path d="M691 638h3v1h-3zM687 639h1v1h-1zM697 639h1v1h-1zM685 640h2v1h-2zM698 640h2v1h-2zM703 642h1v1h-1zM681 643h1v1h-1zM704 643h2v1h-2zM679 644h2v1h-2zM709 646h1v1h-1zM675 647h1v1h-1zM710 647h1v1h-1zM674 648h1v1h-1zM711 648h1v1h-1zM673 649h1v1h-1zM715 651h2v1h-2zM717 652h1v1h-1zM669 653h1v1h-1zM668 654h1v1h-1zM667 655h1v1h-1zM721 655h1v1h-1zM722 656h1v1h-1zM723 657h1v1h-1zM663 659h1v1h-1zM662 660h1v1h-1zM727 660h2v1h-2zM661 661h1v1h-1zM729 661h1v1h-1zM733 663h1v1h-1zM657 664h1v1h-1zM734 664h1v1h-1zM655 665h2v1h-2zM735 665h1v1h-1zM739 667h1v1h-1zM651 668h1v1h-1zM740 668h2v1h-2zM650 669h1v1h-1zM649 670h1v1h-1zM745 670h1v1h-1zM746 671h1v1h-1zM644 672h2v1h-2zM747 672h1v1h-1zM643 673h1v1h-1zM751 674h1v1h-1zM638 675h2v1h-2zM752 675h2v1h-2zM637 676h1v1h-1zM535 677h3v1h-3zM541 677h3v1h-3zM547 677h3v1h-3zM553 677h3v1h-3zM631 677h3v1h-3zM757 677h1v1h-1zM529 678h3v1h-3zM559 678h3v1h-3zM625 678h3v1h-3zM758 678h2v1h-2zM523 679h3v1h-3zM565 679h3v1h-3zM619 679h3v1h-3zM517 680h3v1h-3zM571 680h3v1h-3zM613 680h3v1h-3zM763 680h3v1h-3zM277 681h3v1h-3zM283 681h3v1h-3zM289 681h3v1h-3zM295 681h3v1h-3zM301 681h3v1h-3zM511 681h3v1h-3zM577 681h3v1h-3zM603 681h1v1h-1zM607 681h3v1h-3zM769 681h2v1h-2zM1 682h2v1h-2zM265 682h3v1h-3zM271 682h3v1h-3zM307 682h3v1h-3zM313 682h2v1h-2zM507 682h1v1h-1zM583 682h3v1h-3zM589 682h3v1h-3zM595 682h3v1h-3zM601 682h2v1h-2zM771 682h1v1h-1zM775 682h3v1h-3zM783 682h1v1h-1zM787 682h3v1h-3zM793 682h3v1h-3zM799 682h3v1h-3zM805 682h2v1h-2zM3 683h1v1h-1zM255 683h1v1h-1zM259 683h3v1h-3zM315 683h1v1h-1zM319 683h3v1h-3zM505 683h2v1h-2zM781 683h2v1h-2zM807 683h1v1h-1zM811 683h3v1h-3zM7 684h3v1h-3zM103 684h3v1h-3zM109 684h3v1h-3zM115 684h3v1h-3zM121 684h3v1h-3zM243 684h1v1h-1zM247 684h3v1h-3zM253 684h2v1h-2zM325 684h3v1h-3zM499 684h3v1h-3zM817 684h3v1h-3zM13 685h2v1h-2zM63 685h1v1h-1zM67 685h3v1h-3zM73 685h3v1h-3zM79 685h3v1h-3zM85 685h3v1h-3zM91 685h3v1h-3zM97 685h3v1h-3zM127 685h3v1h-3zM133 685h2v1h-2zM241 685h2v1h-2zM331 685h3v1h-3zM337 685h2v1h-2zM495 685h1v1h-1zM823 685h3v1h-3zM829 685h3v1h-3zM15 686h1v1h-1zM51 686h1v1h-1zM55 686h3v1h-3zM61 686h2v1h-2zM135 686h1v1h-1zM231 686h1v1h-1zM235 686h3v1h-3zM339 686h1v1h-1zM343 686h3v1h-3zM493 686h2v1h-2zM835 686h3v1h-3zM841 686h3v1h-3zM847 686h3v1h-3zM19 687h3v1h-3zM25 687h2v1h-2zM43 687h3v1h-3zM49 687h2v1h-2zM139 687h3v1h-3zM229 687h2v1h-2zM349 687h2v1h-2zM483 687h1v1h-1zM487 687h3v1h-3zM853 687h3v1h-3zM859 687h3v1h-3zM865 687h3v1h-3zM871 687h3v1h-3zM877 687h3v1h-3zM883 687h3v1h-3zM889 687h2v1h-2zM27 688h1v1h-1zM31 688h3v1h-3zM37 688h3v1h-3zM145 688h2v1h-2zM223 688h3v1h-3zM351 688h1v1h-1zM355 688h3v1h-3zM481 688h2v1h-2zM891 688h1v1h-1zM895 688h3v1h-3zM147 689h1v1h-1zM217 689h3v1h-3zM361 689h3v1h-3zM471 689h1v1h-1zM475 689h3v1h-3zM901 689h2v1h-2zM1081 689h3v1h-3zM1087 689h3v1h-3zM151 690h3v1h-3zM157 690h2v1h-2zM211 690h3v1h-3zM367 690h3v1h-3zM373 690h3v1h-3zM379 690h3v1h-3zM385 690h2v1h-2zM463 690h3v1h-3zM469 690h2v1h-2zM903 690h1v1h-1zM1033 690h3v1h-3zM1039 690h3v1h-3zM1045 690h3v1h-3zM1051 690h3v1h-3zM1057 690h3v1h-3zM1063 690h3v1h-3zM1069 690h3v1h-3zM1075 690h3v1h-3zM1093 690h3v1h-3zM159 691h1v1h-1zM207 691h1v1h-1zM387 691h1v1h-1zM391 691h3v1h-3zM457 691h3v1h-3zM907 691h3v1h-3zM1027 691h3v1h-3zM1099 691h3v1h-3zM163 692h3v1h-3zM205 692h2v1h-2zM397 692h3v1h-3zM451 692h3v1h-3zM913 692h2v1h-2zM1021 692h3v1h-3zM1105 692h3v1h-3zM169 693h2v1h-2zM195 693h1v1h-1zM199 693h3v1h-3zM403 693h3v1h-3zM447 693h1v1h-1zM915 693h1v1h-1zM1015 693h3v1h-3zM1111 693h3v1h-3zM171 694h1v1h-1zM175 694h3v1h-3zM181 694h3v1h-3zM187 694h3v1h-3zM193 694h2v1h-2zM409 694h2v1h-2zM439 694h3v1h-3zM445 694h2v1h-2zM919 694h1v1h-1zM1011 694h1v1h-1zM1117 694h2v1h-2zM411 695h1v1h-1zM415 695h3v1h-3zM433 695h3v1h-3zM920 695h2v1h-2zM1009 695h2v1h-2zM1119 695h1v1h-1zM1123 695h3v1h-3zM1129 695h2v1h-2zM421 696h3v1h-3zM427 696h3v1h-3zM1131 696h1v1h-1zM1135 696h3v1h-3zM1141 696h3v1h-3zM1147 696h3v1h-3zM1153 696h3v1h-3zM1159 696h3v1h-3zM1165 696h3v1h-3zM1171 696h3v1h-3zM1177 696h3v1h-3zM925 697h1v1h-1zM1003 697h3v1h-3zM1183 697h3v1h-3zM1189 697h2v1h-2zM1263 697h1v1h-1zM926 698h2v1h-2zM999 698h1v1h-1zM1191 698h1v1h-1zM1195 698h3v1h-3zM1201 698h3v1h-3zM1207 698h3v1h-3zM1213 698h3v1h-3zM1219 698h3v1h-3zM1225 698h3v1h-3zM1231 698h3v1h-3zM1261 698h2v1h-2zM997 699h2v1h-2zM1237 699h3v1h-3zM1243 699h3v1h-3zM1249 699h3v1h-3zM1255 699h3v1h-3zM931 700h1v1h-1zM991 700h3v1h-3zM932 701h2v1h-2zM986 702h2v1h-2zM937 703h1v1h-1zM985 703h1v1h-1zM938 704h2v1h-2zM980 705h2v1h-2zM943 706h1v1h-1zM979 706h1v1h-1zM944 707h2v1h-2zM975 707h1v1h-1zM973 708h2v1h-2zM949 709h2v1h-2zM967 709h3v1h-3zM951 710h1v1h-1zM963 710h1v1h-1zM955 711h3v1h-3zM961 711h2v1h-2z" fill="#ff0000"/></g><rect x="0" y="739" width="1637" height="1" fill="#e3e3e3"/><rect x="0" y="740" width="1637" height="1" fill="#ffffff"/><rect x="0" y="741" width="1637" height="1" fill="#000000"/><rect x="0" y="742" width="1637" height="23" fill="#f0f0f0"/><rect x="0" y="761" width="1637" height="1" fill="#fbfbfb"/><rect x="0" y="762" width="1637" height="3" fill="#f0f0f0"/><rect x="309" y="741" width="1" height="19" fill="#ffffff"/><rect x="414" y="742" width="1" height="19" fill="#a8a8a8"/><rect x="311" y="760" width="104" height="1" fill="#c8c8c8"/><rect x="415" y="742" width="1" height="18" fill="#ffffff"/><rect x="310" y="741" width="104" height="19" fill="#000000"/><rect x="311" y="741" width="102" height="18" fill="#ffffff"/><rect x="106" y="744" width="1" height="14" fill="#6d6d6d"/><rect x="206" y="744" width="1" height="14" fill="#6d6d6d"/><rect x="518" y="744" width="1" height="14" fill="#6d6d6d"/><rect x="622" y="744" width="1" height="14" fill="#6d6d6d"/><rect x="714" y="744" width="1" height="14" fill="#6d6d6d"/><rect x="806" y="744" width="1" height="14" fill="#6d6d6d"/><rect x="878" y="744" width="1" height="14" fill="#6d6d6d"/><rect x="958" y="744" width="1" height="14" fill="#6d6d6d"/><rect x="1038" y="744" width="1" height="14" fill="#6d6d6d"/><rect x="1118" y="744" width="1" height="14" fill="#6d6d6d"/><rect x="1194" y="744" width="1" height="14" fill="#6d6d6d"/><rect x="1266" y="744" width="1" height="14" fill="#6d6d6d"/><rect x="1350" y="744" width="1" height="14" fill="#6d6d6d"/><rect x="1430" y="744" width="1" height="14" fill="#6d6d6d"/><rect x="1530" y="744" width="1" height="14" fill="#6d6d6d"/><rect x="1602" y="744" width="1" height="14" fill="#6d6d6d"/></svg>
<svg style="position:absolute;left:0;top:0" width="1637" height="765" shape-rendering="crispEdges"><rect x="4" y="32" width="7" height="1"/><rect x="5" y="33" width="5" height="1"/><rect x="6" y="34" width="3" height="1"/><rect x="7" y="35" width="1" height="1"/></svg>
<div class="t" style="left:40.5px;top:3px;font-size:9.3px;color:#454545;letter-spacing:0.6px;transform:scaleY(1.08);text-rendering:geometricPrecision">M1</div><div class="t" style="left:68.5px;top:3px;font-size:9.3px;color:#454545;letter-spacing:0.6px;transform:scaleY(1.08);text-rendering:geometricPrecision">M5</div><div class="t" style="left:94.5px;top:3px;font-size:9.3px;color:#454545;letter-spacing:0.6px;transform:scaleY(1.08);text-rendering:geometricPrecision">M15</div><div class="t" style="left:122.5px;top:3px;font-size:9.3px;color:#454545;letter-spacing:0.6px;transform:scaleY(1.08);text-rendering:geometricPrecision">M30</div><div class="t" style="left:153.5px;top:3px;font-size:9.3px;color:#454545;letter-spacing:0.6px;transform:scaleY(1.08);text-rendering:geometricPrecision">H1</div><div class="t" style="left:180.5px;top:3px;font-size:9.3px;color:#454545;letter-spacing:0.6px;transform:scaleY(1.08);text-rendering:geometricPrecision">H4</div><div class="t" style="left:209.5px;top:3px;font-size:9.3px;color:#454545;letter-spacing:0.6px;transform:scaleY(1.08);text-rendering:geometricPrecision">D1</div><div class="t" style="left:236.5px;top:3px;font-size:9.3px;color:#454545;letter-spacing:0.6px;transform:scaleY(1.08);text-rendering:geometricPrecision">W1</div><div class="t" style="left:263.5px;top:3px;font-size:9.3px;color:#454545;letter-spacing:0.6px;transform:scaleY(1.08);text-rendering:geometricPrecision">MN</div><div class="t" style="left:16px;top:27px;font-size:9.3px;color:#000;letter-spacing:0.27px;transform:scaleY(1.08);text-rendering:geometricPrecision">USDCAD,Daily</div><div class="t" style="left:88px;top:27px;font-size:9.3px;color:#000;letter-spacing:0px;transform:scaleY(1.08);text-rendering:geometricPrecision">1.31628 1.31656 1.31404 1.31474</div><div class="t" style="left:5px;top:535px;font-size:9.3px;color:#000;letter-spacing:0.05px;transform:scaleY(1.08);text-rendering:geometricPrecision">RSI(14) 47.2511</div><div class="t" style="left:5px;top:629px;font-size:9.3px;color:#000;letter-spacing:0.05px;transform:scaleY(1.08);text-rendering:geometricPrecision">MACD(12,26,9) -0.004218 -0.006554</div><div class="t" style="left:1598px;top:26px;font-size:9.3px;color:#000;letter-spacing:0px;transform:scaleY(1.08);text-rendering:geometricPrecision">1.47340</div><div class="t" style="left:1598px;top:59px;font-size:9.3px;color:#000;letter-spacing:0px;transform:scaleY(1.08);text-rendering:geometricPrecision">1.46115</div><div class="t" style="left:1598px;top:92px;font-size:9.3px;color:#000;letter-spacing:0px;transform:scaleY(1.08);text-rendering:geometricPrecision">1.44890</div><div class="t" style="left:1598px;top:125px;font-size:9.3px;color:#000;letter-spacing:0px;transform:scaleY(1.08);text-rendering:geometricPrecision">1.43700</div><div class="t" style="left:1598px;top:158px;font-size:9.3px;color:#000;letter-spacing:0px;transform:scaleY(1.08);text-rendering:geometricPrecision">1.42475</div><div class="t" style="left:1598px;top:191px;font-size:9.3px;color:#000;letter-spacing:0px;transform:scaleY(1.08);text-rendering:geometricPrecision">1.41285</div><div class="t" style="left:1598px;top:224px;font-size:9.3px;color:#000;letter-spacing:0px;transform:scaleY(1.08);text-rendering:geometricPrecision">1.40060</div><div class="t" style="left:1598px;top:257px;font-size:9.3px;color:#000;letter-spacing:0px;transform:scaleY(1.08);text-rendering:geometricPrecision">1.38835</div><div class="t" style="left:1598px;top:290px;font-size:9.3px;color:#000;letter-spacing:0px;transform:scaleY(1.08);text-rendering:geometricPrecision">1.37645</div><div class="t" style="left:1598px;top:323px;font-size:9.3px;color:#000;letter-spacing:0px;transform:scaleY(1.08);text-rendering:geometricPrecision">1.36420</div><div class="t" style="left:1598px;top:356px;font-size:9.3px;color:#000;letter-spacing:0px;transform:scaleY(1.08);text-rendering:geometricPrecision">1.35230</div><div class="t" style="left:1598px;top:389px;font-size:9.3px;color:#000;letter-spacing:0px;transform:scaleY(1.08);text-rendering:geometricPrecision">1.34005</div><div class="t" style="left:1598px;top:422px;font-size:9.3px;color:#000;letter-spacing:0px;transform:scaleY(1.08);text-rendering:geometricPrecision">1.32780</div><div class="t" style="left:1598px;top:455px;font-size:9.3px;color:#000;letter-spacing:0px;transform:scaleY(1.08);text-rendering:geometricPrecision">1.31590</div><div class="t" style="left:1598px;top:488px;font-size:9.3px;color:#000;letter-spacing:0px;transform:scaleY(1.08);text-rendering:geometricPrecision">1.30365</div><div class="t" style="left:1598px;top:521px;font-size:9.3px;color:#000;letter-spacing:0px;transform:scaleY(1.08);text-rendering:geometricPrecision">1.29175</div><div class="t" style="left:1597px;top:533px;font-size:9.3px;color:#000;letter-spacing:0px;transform:scaleY(1.08);text-rendering:geometricPrecision">100</div><div class="t" style="left:1596px;top:554px;font-size:9.3px;color:#000;letter-spacing:0px;transform:scaleY(1.08);text-rendering:geometricPrecision">70</div><div class="t" style="left:1596px;top:590px;font-size:9.3px;color:#000;letter-spacing:0px;transform:scaleY(1.08);text-rendering:geometricPrecision">30</div><div class="t" style="left:1597px;top:611px;font-size:9.3px;color:#000;letter-spacing:0px;transform:scaleY(1.08);text-rendering:geometricPrecision">0</div><div class="t" style="left:1597px;top:627px;font-size:9.3px;color:#000;letter-spacing:0px;transform:scaleY(1.08);text-rendering:geometricPrecision">0.032972</div><div class="t" style="left:1597px;top:680px;font-size:9.3px;color:#000;letter-spacing:0px;transform:scaleY(1.08);text-rendering:geometricPrecision">0.00</div><div class="t" style="left:1597px;top:705px;font-size:9.3px;color:#000;letter-spacing:0px;transform:scaleY(1.08);text-rendering:geometricPrecision">-0.018154</div><div class="t" style="left:0px;top:721px;font-size:9.3px;color:#000;letter-spacing:0px;transform:scaleY(1.08);text-rendering:geometricPrecision">7 Sep 2019</div><div class="t" style="left:64px;top:721px;font-size:9.3px;color:#000;letter-spacing:0px;transform:scaleY(1.08);text-rendering:geometricPrecision">26 Sep 2019</div><div class="t" style="left:128px;top:721px;font-size:9.3px;color:#000;letter-spacing:0px;transform:scaleY(1.08);text-rendering:geometricPrecision">15 Oct 2019</div><div class="t" style="left:192px;top:721px;font-size:9.3px;color:#000;letter-spacing:0px;transform:scaleY(1.08);text-rendering:geometricPrecision">2 Nov 2019</div><div class="t" style="left:256px;top:721px;font-size:9.3px;color:#000;letter-spacing:0px;transform:scaleY(1.08);text-rendering:geometricPrecision">21 Nov 2019</div><div class="t" style="left:320px;top:721px;font-size:9.3px;color:#000;letter-spacing:0px;transform:scaleY(1.08);text-rendering:geometricPrecision">10 Dec 2019</div><div class="t" style="left:384px;top:721px;font-size:9.3px;color:#000;letter-spacing:0px;transform:scaleY(1.08);text-rendering:geometricPrecision">28 Dec 2019</div><div class="t" style="left:448px;top:721px;font-size:9.3px;color:#000;letter-spacing:0px;transform:scaleY(1.08);text-rendering:geometricPrecision">16 Jan 2020</div><div class="t" style="left:512px;top:721px;font-size:9.3px;color:#000;letter-spacing:0px;transform:scaleY(1.08);text-rendering:geometricPrecision">4 Feb 2020</div><div class="t" style="left:576px;top:721px;font-size:9.3px;color:#000;letter-spacing:0px;transform:scaleY(1.08);text-rendering:geometricPrecision">22 Feb 2020</div><div class="t" style="left:640px;top:721px;font-size:9.3px;color:#000;letter-spacing:0px;transform:scaleY(1.08);text-rendering:geometricPrecision">12 Mar 2020</div><div class="t" style="left:704px;top:721px;font-size:9.3px;color:#000;letter-spacing:0px;transform:scaleY(1.08);text-rendering:geometricPrecision">31 Mar 2020</div><div class="t" style="left:768px;top:721px;font-size:9.3px;color:#000;letter-spacing:0px;transform:scaleY(1.08);text-rendering:geometricPrecision">18 Apr 2020</div><div class="t" style="left:832px;top:721px;font-size:9.3px;color:#000;letter-spacing:0px;transform:scaleY(1.08);text-rendering:geometricPrecision">7 May 2020</div><div class="t" style="left:896px;top:721px;font-size:9.3px;color:#000;letter-spacing:0px;transform:scaleY(1.08);text-rendering:geometricPrecision">26 May 2020</div><div class="t" style="left:960px;top:721px;font-size:9.3px;color:#000;letter-spacing:0px;transform:scaleY(1.08);text-rendering:geometricPrecision">13 Jun 2020</div><div class="t" style="left:1024px;top:721px;font-size:9.3px;color:#000;letter-spacing:0px;transform:scaleY(1.08);text-rendering:geometricPrecision">2 Jul 2020</div><div class="t" style="left:1088px;top:721px;font-size:9.3px;color:#000;letter-spacing:0px;transform:scaleY(1.08);text-rendering:geometricPrecision">21 Jul 2020</div><div class="t" style="left:1152px;top:721px;font-size:9.3px;color:#000;letter-spacing:0px;transform:scaleY(1.08);text-rendering:geometricPrecision">8 Aug 2020</div><div class="t" style="left:1216px;top:721px;font-size:9.3px;color:#000;letter-spacing:0px;transform:scaleY(1.08);text-rendering:geometricPrecision">27 Aug 2020</div><div class="t" style="left:14px;top:745px;font-size:11.5px;line-height:14px;color:#6e6e6e;letter-spacing:0.45px;transform:scaleY(1.12);text-rendering:geometricPrecision">EURUSD,Daily</div><div class="t" style="left:115px;top:745px;font-size:11.5px;line-height:14px;color:#6e6e6e;letter-spacing:0.45px;transform:scaleY(1.12);text-rendering:geometricPrecision">USDCHF,Daily</div><div class="t" style="left:216px;top:745px;font-size:11.5px;line-height:14px;color:#6e6e6e;letter-spacing:0.45px;transform:scaleY(1.12);text-rendering:geometricPrecision">AUDUSD,Daily</div><div class="t" style="left:321px;top:745px;font-size:11.5px;line-height:14px;color:#000;letter-spacing:0.45px;transform:scaleY(1.12);text-rendering:geometricPrecision">USDCAD,Daily</div><div class="t" style="left:423px;top:745px;font-size:11.5px;line-height:14px;color:#6e6e6e;letter-spacing:0.45px;transform:scaleY(1.12);text-rendering:geometricPrecision">USDCNH,Daily</div><div class="t" style="left:529px;top:745px;font-size:11.5px;line-height:14px;color:#6e6e6e;letter-spacing:0.45px;transform:scaleY(1.12);text-rendering:geometricPrecision">EURUSD,Daily</div><div class="t" style="left:633px;top:745px;font-size:11.5px;line-height:14px;color:#6e6e6e;letter-spacing:0.45px;transform:scaleY(1.12);text-rendering:geometricPrecision">GBPUSD,H4</div><div class="t" style="left:724px;top:745px;font-size:11.5px;line-height:14px;color:#6e6e6e;letter-spacing:0.45px;transform:scaleY(1.12);text-rendering:geometricPrecision">XAUUSD,H1</div><div class="t" style="left:817px;top:745px;font-size:11.5px;line-height:14px;color:#6e6e6e;letter-spacing:0.45px;transform:scaleY(1.12);text-rendering:geometricPrecision">HK50,H1</div><div class="t" style="left:888px;top:745px;font-size:11.5px;line-height:14px;color:#6e6e6e;letter-spacing:0.45px;transform:scaleY(1.12);text-rendering:geometricPrecision">UK100,H1</div><div class="t" style="left:968px;top:745px;font-size:11.5px;line-height:14px;color:#6e6e6e;letter-spacing:0.45px;transform:scaleY(1.12);text-rendering:geometricPrecision">UK100,H1</div><div class="t" style="left:1048px;top:745px;font-size:11.5px;line-height:14px;color:#6e6e6e;letter-spacing:0.45px;transform:scaleY(1.12);text-rendering:geometricPrecision">GER30,H1</div><div class="t" style="left:1127px;top:745px;font-size:11.5px;line-height:14px;color:#6e6e6e;letter-spacing:0.45px;transform:scaleY(1.12);text-rendering:geometricPrecision">FRA40,H1</div><div class="t" style="left:1203px;top:745px;font-size:11.5px;line-height:14px;color:#6e6e6e;letter-spacing:0.45px;transform:scaleY(1.12);text-rendering:geometricPrecision">USOil,H4</div><div class="t" style="left:1276px;top:745px;font-size:11.5px;line-height:14px;color:#6e6e6e;letter-spacing:0.45px;transform:scaleY(1.12);text-rendering:geometricPrecision">USDJPY,H1</div><div class="t" style="left:1359px;top:745px;font-size:11.5px;line-height:14px;color:#6e6e6e;letter-spacing:0.45px;transform:scaleY(1.12);text-rendering:geometricPrecision">DJ30,Daily</div><div class="t" style="left:1439px;top:745px;font-size:11.5px;line-height:14px;color:#6e6e6e;letter-spacing:0.45px;transform:scaleY(1.12);text-rendering:geometricPrecision">CHINA300,H1</div><div class="t" style="left:1539px;top:745px;font-size:11.5px;line-height:14px;color:#6e6e6e;letter-spacing:0.45px;transform:scaleY(1.12);text-rendering:geometricPrecision">USOil,H1</div>
<div class="bx" style="top:345px;background:#ff0000"></div><div class="t" style="left:1598px;top:344px;font-size:9.3px;color:#fff;transform:scaleY(1.08);text-rendering:geometricPrecision">1.35606</div><div class="bx" style="top:384px;background:#ff0000"></div><div class="t" style="left:1598px;top:383px;font-size:9.3px;color:#fff;transform:scaleY(1.08);text-rendering:geometricPrecision">1.34206</div><div class="bx" style="top:416px;background:#00ff00"></div><div class="t" style="left:1598px;top:415px;font-size:9.3px;color:#fff;transform:scaleY(1.08);text-rendering:geometricPrecision">1.33011</div><div class="bx" style="top:460px;background:#0000ff"></div><div class="t" style="left:1598px;top:459px;font-size:9.3px;color:#fff;transform:scaleY(1.08);text-rendering:geometricPrecision">1.31405</div><div class="bx" style="top:498px;background:#0000ff"></div><div class="t" style="left:1598px;top:497px;font-size:9.3px;color:#fff;transform:scaleY(1.08);text-rendering:geometricPrecision">1.30022</div>
<svg style="position:absolute;left:0;top:0" width="1637" height="765" shape-rendering="crispEdges">
<rect x="1611" y="747" width="1" height="6" fill="#8c8c8c"/><rect x="1610" y="748" width="1" height="4" fill="#8c8c8c"/><rect x="1609" y="749" width="1" height="2" fill="#8c8c8c"/><rect x="1628" y="747" width="1" height="6" fill="#000"/><rect x="1629" y="748" width="1" height="4" fill="#000"/><rect x="1630" y="749" width="1" height="2" fill="#000"/>
</svg>
</body></html>
